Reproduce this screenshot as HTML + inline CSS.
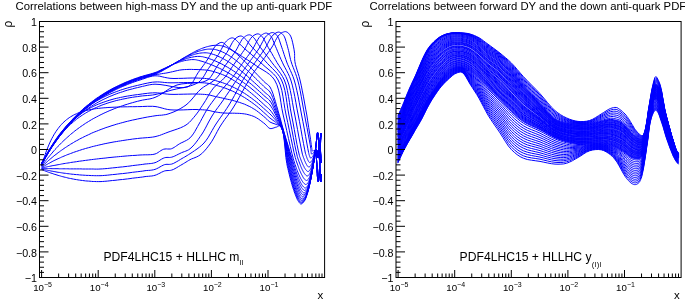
<!DOCTYPE html>
<html><head><meta charset="utf-8"><style>
html,body{margin:0;padding:0;background:#fff;overflow:hidden}
svg{display:block;will-change:transform}
text{font-family:"Liberation Sans",sans-serif;fill:#000}
.ti{font-size:11.32px}
.yl{font-size:10.7px;text-anchor:end}
.xl{font-size:9.7px}
.ex{font-size:7.0px}
.lg{font-size:12.15px}
.sb{font-size:7.6px;letter-spacing:0.35px}
.rho{font-size:12px}
.xt{font-size:11.5px}
.c{fill:none;stroke:#0000ff;stroke-width:1;stroke-linejoin:round}
</style></head><body>
<svg width="685" height="303" viewBox="0 0 685 303">
<rect width="685" height="303" fill="#fff"/>
<defs><clipPath id="clipL"><rect x="40" y="22" width="284.6" height="255"/></clipPath><clipPath id="clipR"><rect x="396.5" y="22" width="284.6" height="255"/></clipPath></defs>
<g clip-path="url(#clipL)"><path class="c" d="M41.6 163.0 L42.3 161.7 L43.1 160.4 L43.8 159.1 L44.5 157.8 L45.2 156.6 L46.0 155.3 L46.8 153.9 L47.6 152.6 L48.4 151.2 L49.3 149.9 L50.1 148.5 L51.0 147.2 L51.9 145.7 L52.9 144.2 L53.9 142.7 L54.9 141.3 L56.0 139.8 L57.0 138.3 L58.1 136.8 L59.2 135.2 L60.4 133.7 L61.6 132.2 L62.8 130.6 L64.0 129.1 L65.3 127.5 L66.6 126.0 L67.9 124.4 L69.2 122.9 L70.6 121.4 L72.0 119.9 L73.4 118.3 L74.9 116.8 L76.4 115.3 L77.9 113.8 L79.5 112.3 L81.0 110.9 L82.5 109.5 L83.9 108.2 L85.4 107.0 L86.9 105.7 L88.5 104.5 L90.0 103.2 L91.6 102.0 L93.2 100.8 L94.9 99.5 L96.5 98.3 L98.3 97.2 L100.0 96.0 L101.9 94.8 L103.9 93.5 L105.9 92.3 L107.9 91.1 L109.9 90.0 L112.0 88.8 L114.1 87.7 L116.2 86.7 L118.4 85.6 L120.5 84.6 L122.8 83.6 L125.0 82.6 L127.4 81.6 L129.9 80.6 L132.4 79.6 L134.9 78.7 L137.5 77.8 L140.0 76.9 L142.6 76.2 L145.2 75.4 L147.9 74.7 L150.4 74.0 L152.8 73.3 L155.0 72.6 L156.3 72.1 L157.5 71.6 L158.7 71.0 L159.8 70.5 L160.9 70.0 L162.0 69.5 L163.2 68.9 L164.3 68.4 L165.5 67.9 L166.7 67.3 L167.8 66.8 L169.0 66.3 L170.2 65.7 L171.3 65.2 L172.5 64.7 L173.7 64.2 L174.8 63.7 L176.0 63.3 L177.1 62.9 L178.3 62.4 L179.4 62.0 L180.6 61.7 L181.7 61.3 L183.0 61.0 L184.6 60.6 L186.3 60.3 L188.0 60.0 L189.7 59.8 L191.4 59.6 L193.0 59.6 L194.2 59.6 L195.4 59.7 L196.5 59.9 L197.6 60.2 L198.7 60.4 L200.0 60.8 L202.0 61.3 L204.1 62.0 L206.3 62.8 L208.5 63.6 L210.8 64.5 L213.0 65.4 L215.2 66.4 L217.4 67.3 L219.5 68.3 L221.7 69.4 L223.9 70.5 L226.0 71.6 L228.2 72.8 L230.4 74.1 L232.5 75.4 L234.7 76.7 L236.9 78.1 L239.0 79.5 L241.2 81.0 L243.4 82.5 L245.6 84.1 L247.7 85.7 L249.9 87.4 L252.0 89.1 L254.3 91.0 L256.6 93.0 L258.9 95.0 L261.1 97.0 L263.2 98.9 L265.0 100.5 L266.0 101.3 L266.9 102.0 L267.7 102.7 L268.4 103.3 L269.2 104.1 L270.0 105.0 L271.2 106.7 L272.4 108.6 L273.6 110.7 L274.7 113.0 L275.8 115.2 L276.9 117.4 L277.9 119.3 L278.9 121.2 L279.9 123.1 L280.8 125.1 L281.7 127.3 L282.6 129.8 L283.9 134.4 L285.3 139.8 L286.5 145.8 L287.7 151.7 L288.8 157.1 L289.8 161.8 L290.4 164.1 L290.9 166.1 L291.3 168.1 L291.8 169.9 L292.2 171.7 L292.7 173.5 L293.2 175.1 L293.6 176.8 L294.1 178.4 L294.5 179.9 L295.0 181.4 L295.5 182.9 L295.9 184.2 L296.3 185.4 L296.7 186.6 L297.2 187.8 L297.6 188.9 L298.1 189.9 L298.5 190.8 L298.8 191.7 L299.2 192.5 L299.6 193.3 L300.0 194.0 L300.5 194.7 L300.8 195.2 L301.2 195.7 L301.6 196.2 L302.0 196.6 L302.5 196.9 L302.9 197.0 L303.4 196.9 L303.8 196.6 L304.3 196.2 L304.8 195.7 L305.3 195.2 L305.7 194.6 L306.2 193.8 L306.7 192.9 L307.1 191.9 L307.5 190.8 L307.9 189.6 L308.2 188.5 L308.7 187.0 L309.1 185.5 L309.5 184.0 L309.9 182.3 L310.3 180.7 L310.7 179.0 L311.1 177.2 L311.4 175.3 L311.8 173.4 L312.2 171.5 L312.5 169.6 L312.8 167.7 L313.1 165.8 L313.4 163.9 L313.7 162.1 L314.0 160.2 L314.3 158.5 L314.5 156.8 L314.7 155.4 L314.8 153.9 L314.9 152.5 L315.0 151.2 L315.2 150.2 L315.5 149.7 L315.7 149.6 L315.9 149.6 L316.1 149.6 L316.3 149.7 L316.5 149.8 L316.7 150.0 L317.0 150.9 L317.3 152.5 L317.4 154.4 L317.5 156.1 L317.6 157.5 L317.7 158.0 L317.9 157.6 L318.0 156.6 L318.2 155.1 L318.3 153.3 L318.5 151.6 L318.6 150.0 L318.8 148.2 L318.9 146.0 L319.1 143.8 L319.3 141.9 L319.4 140.5 L319.6 140.0 L319.8 140.6 L319.9 142.0 L320.1 144.1 L320.2 146.5 L320.4 148.9 L320.5 151.0 L320.6 153.2 L320.8 155.8 L320.9 158.5 L321.0 160.8 L321.1 162.4 L321.2 163.0 L321.3 162.8 L321.3 162.4 L321.4 161.9 L321.4 161.2 L321.5 160.6 L321.5 160.0"/>
<path class="c" d="M41.6 163.2 L42.3 161.9 L43.1 160.6 L43.8 159.4 L44.5 158.1 L45.2 156.8 L46.0 155.5 L46.8 154.2 L47.6 152.8 L48.4 151.5 L49.3 150.1 L50.1 148.8 L51.0 147.4 L51.9 146.0 L52.9 144.5 L53.9 143.0 L54.9 141.6 L56.0 140.1 L57.0 138.6 L58.1 137.1 L59.2 135.5 L60.4 134.0 L61.6 132.5 L62.8 130.9 L64.0 129.4 L65.3 127.9 L66.6 126.3 L67.9 124.8 L69.2 123.2 L70.6 121.7 L72.0 120.2 L73.4 118.7 L74.9 117.2 L76.4 115.6 L77.9 114.2 L79.5 112.7 L81.0 111.3 L82.5 109.9 L83.9 108.6 L85.4 107.3 L86.9 106.1 L88.5 104.8 L90.0 103.6 L91.6 102.4 L93.2 101.1 L94.9 99.9 L96.5 98.7 L98.3 97.6 L100.0 96.4 L101.9 95.2 L103.9 93.9 L105.9 92.7 L107.9 91.5 L109.9 90.4 L112.0 89.2 L114.1 88.1 L116.2 87.1 L118.4 86.0 L120.5 85.0 L122.8 84.0 L125.0 83.0 L127.4 82.0 L129.9 81.0 L132.4 80.0 L134.9 79.1 L137.5 78.2 L140.0 77.4 L142.6 76.6 L145.2 75.8 L147.9 75.1 L150.4 74.4 L152.8 73.7 L155.0 73.0 L156.3 72.5 L157.6 72.0 L158.7 71.4 L159.8 70.9 L160.9 70.3 L162.0 69.8 L163.2 69.2 L164.3 68.6 L165.5 68.1 L166.7 67.5 L167.8 66.9 L169.0 66.3 L170.2 65.7 L171.3 65.1 L172.5 64.5 L173.7 64.0 L174.8 63.4 L176.0 62.9 L177.2 62.3 L178.3 61.8 L179.5 61.3 L180.7 60.8 L181.8 60.3 L183.0 59.8 L184.1 59.4 L185.3 59.0 L186.4 58.6 L187.6 58.2 L188.8 57.9 L190.0 57.6 L191.4 57.3 L192.9 57.0 L194.5 56.7 L196.0 56.5 L197.6 56.4 L199.0 56.4 L200.2 56.4 L201.3 56.6 L202.5 56.7 L203.6 57.0 L204.8 57.3 L206.0 57.6 L207.8 58.1 L209.7 58.8 L211.7 59.5 L213.8 60.4 L215.8 61.2 L217.8 62.1 L219.8 63.1 L221.8 64.0 L223.7 65.1 L225.7 66.2 L227.7 67.3 L229.6 68.5 L231.6 69.7 L233.6 71.0 L235.5 72.3 L237.5 73.6 L239.5 75.0 L241.4 76.4 L243.4 77.9 L245.4 79.4 L247.3 81.0 L249.3 82.6 L251.3 84.2 L253.2 85.8 L255.2 87.6 L257.3 89.5 L259.4 91.4 L261.4 93.2 L263.3 95.0 L265.0 96.5 L266.0 97.3 L266.8 98.0 L267.7 98.6 L268.4 99.3 L269.2 100.0 L270.0 101.0 L271.3 102.9 L272.5 105.2 L273.7 107.8 L274.9 110.5 L276.0 113.2 L277.1 115.8 L278.2 118.1 L279.2 120.4 L280.2 122.7 L281.1 125.1 L282.1 127.7 L283.0 130.5 L284.3 135.1 L285.7 140.5 L287.0 146.1 L288.2 151.7 L289.4 156.9 L290.4 161.2 L291.0 163.5 L291.5 165.5 L291.9 167.3 L292.4 169.1 L292.8 170.8 L293.3 172.5 L293.8 174.1 L294.2 175.6 L294.7 177.2 L295.1 178.6 L295.6 180.1 L296.1 181.5 L296.5 182.7 L296.9 183.9 L297.3 185.0 L297.7 186.2 L298.2 187.2 L298.6 188.2 L299.0 189.1 L299.4 189.9 L299.7 190.7 L300.1 191.4 L300.5 192.1 L301.0 192.8 L301.4 193.2 L301.7 193.8 L302.1 194.2 L302.6 194.6 L303.0 194.9 L303.4 195.0 L303.8 194.9 L304.3 194.7 L304.8 194.3 L305.3 193.8 L305.7 193.3 L306.1 192.7 L306.6 192.0 L307.0 191.1 L307.4 190.1 L307.8 189.0 L308.2 187.9 L308.5 186.8 L309.0 185.5 L309.4 184.0 L309.8 182.5 L310.1 181.0 L310.5 179.4 L310.9 177.8 L311.2 176.0 L311.6 174.2 L311.9 172.4 L312.3 170.6 L312.6 168.7 L312.9 166.9 L313.2 165.1 L313.5 163.3 L313.8 161.6 L314.1 159.8 L314.3 158.1 L314.6 156.5 L314.7 155.3 L314.9 154.2 L315.0 153.1 L315.2 152.0 L315.3 150.9 L315.5 149.7 L315.7 148.0 L315.9 146.2 L316.1 144.3 L316.3 142.4 L316.5 140.6 L316.7 139.0 L316.8 137.7 L317.0 136.4 L317.1 135.0 L317.3 133.9 L317.4 133.1 L317.6 132.8 L317.7 132.9 L317.9 133.3 L318.0 133.8 L318.1 134.5 L318.3 135.2 L318.4 136.0 L318.7 138.5 L318.8 141.9 L319.0 145.8 L319.1 150.0 L319.2 154.2 L319.4 158.0 L319.6 161.6 L319.7 165.3 L319.9 169.1 L320.0 172.6 L320.2 175.6 L320.4 178.0 L320.5 178.8 L320.6 179.6 L320.7 180.4 L320.7 181.0 L320.8 181.4 L320.9 181.5 L321.0 181.1 L321.1 180.1 L321.2 178.7 L321.2 177.1 L321.3 175.4 L321.4 174.0"/>
<path class="c" d="M41.6 163.4 L42.3 162.1 L43.1 160.8 L43.8 159.6 L44.5 158.3 L45.2 157.0 L46.0 155.7 L46.8 154.4 L47.6 153.1 L48.4 151.7 L49.3 150.4 L50.1 149.0 L51.0 147.7 L51.9 146.2 L52.9 144.8 L53.9 143.3 L54.9 141.8 L56.0 140.4 L57.0 138.9 L58.1 137.4 L59.2 135.8 L60.4 134.3 L61.6 132.8 L62.8 131.3 L64.0 129.8 L65.3 128.2 L66.6 126.7 L67.9 125.1 L69.2 123.6 L70.6 122.1 L72.0 120.6 L73.4 119.0 L74.9 117.5 L76.4 116.0 L77.9 114.5 L79.5 113.1 L81.0 111.6 L82.5 110.3 L83.9 109.0 L85.4 107.7 L86.9 106.5 L88.5 105.2 L90.0 104.0 L91.6 102.8 L93.2 101.5 L94.9 100.3 L96.5 99.1 L98.3 98.0 L100.0 96.8 L101.9 95.6 L103.9 94.3 L105.9 93.1 L107.9 91.9 L109.9 90.8 L112.0 89.7 L114.1 88.5 L116.2 87.5 L118.4 86.4 L120.5 85.4 L122.8 84.4 L125.0 83.4 L127.4 82.4 L129.9 81.4 L132.4 80.5 L134.9 79.5 L137.5 78.6 L140.0 77.8 L142.6 77.0 L145.2 76.2 L147.9 75.5 L150.4 74.8 L152.8 74.1 L155.0 73.4 L156.3 72.9 L157.6 72.3 L158.7 71.8 L159.8 71.3 L160.9 70.7 L162.0 70.1 L163.2 69.5 L164.3 68.9 L165.5 68.3 L166.7 67.7 L167.8 67.0 L169.0 66.4 L170.2 65.8 L171.3 65.1 L172.5 64.5 L173.7 63.8 L174.8 63.2 L176.0 62.6 L177.2 61.9 L178.3 61.3 L179.5 60.7 L180.7 60.1 L181.8 59.5 L183.0 59.0 L184.2 58.4 L185.3 57.9 L186.5 57.3 L187.7 56.8 L188.8 56.3 L190.0 55.9 L191.2 55.5 L192.3 55.1 L193.5 54.7 L194.6 54.3 L195.8 54.0 L197.0 53.7 L198.3 53.5 L199.6 53.2 L201.0 53.0 L202.3 52.9 L203.7 52.8 L205.0 52.8 L206.2 52.8 L207.3 52.9 L208.5 53.1 L209.6 53.3 L210.8 53.6 L212.0 54.0 L213.7 54.5 L215.4 55.1 L217.2 55.9 L219.0 56.7 L220.8 57.5 L222.6 58.4 L224.4 59.4 L226.2 60.4 L228.0 61.5 L229.7 62.6 L231.5 63.8 L233.2 65.0 L235.0 66.3 L236.8 67.6 L238.5 69.0 L240.3 70.3 L242.1 71.8 L243.8 73.2 L245.6 74.7 L247.4 76.2 L249.1 77.8 L250.9 79.4 L252.6 81.0 L254.4 82.6 L256.2 84.2 L258.1 86.0 L260.0 87.7 L261.8 89.5 L263.5 91.1 L265.0 92.5 L265.9 93.3 L266.8 94.0 L267.6 94.6 L268.4 95.2 L269.2 96.0 L270.0 97.0 L271.3 99.2 L272.6 101.8 L273.8 104.8 L275.1 108.0 L276.2 111.1 L277.4 114.1 L278.4 116.9 L279.5 119.6 L280.5 122.4 L281.4 125.2 L282.4 128.1 L283.4 131.2 L284.7 135.9 L286.1 141.0 L287.5 146.4 L288.8 151.7 L290.0 156.6 L291.1 160.8 L291.6 162.9 L292.1 164.8 L292.6 166.5 L293.0 168.2 L293.5 169.8 L293.9 171.5 L294.4 173.0 L294.8 174.5 L295.3 175.9 L295.7 177.4 L296.2 178.8 L296.7 180.1 L297.1 181.3 L297.5 182.4 L297.9 183.5 L298.4 184.5 L298.8 185.6 L299.2 186.6 L299.6 187.3 L300.0 188.1 L300.4 188.9 L300.7 189.6 L301.2 190.3 L301.6 190.8 L302.0 191.3 L302.4 191.8 L302.8 192.3 L303.2 192.6 L303.6 192.9 L304.0 193.0 L304.4 192.9 L304.9 192.7 L305.3 192.3 L305.8 191.8 L306.2 191.3 L306.6 190.8 L307.0 190.1 L307.5 189.2 L307.8 188.3 L308.2 187.3 L308.5 186.3 L308.9 185.2 L309.3 183.9 L309.7 182.5 L310.0 181.1 L310.4 179.6 L310.8 178.1 L311.1 176.5 L311.4 174.9 L311.8 173.1 L312.1 171.4 L312.4 169.6 L312.8 167.9 L313.1 166.2 L313.3 164.5 L313.6 162.7 L313.9 161.0 L314.1 159.4 L314.4 157.7 L314.6 156.2 L314.8 154.9 L314.9 153.4 L315.1 152.0 L315.2 150.8 L315.4 150.0 L315.5 149.7 L315.7 150.3 L315.9 151.9 L316.1 154.2 L316.3 156.9 L316.5 159.6 L316.7 162.0 L316.9 164.7 L317.0 167.6 L317.1 170.6 L317.3 173.4 L317.4 176.0 L317.6 178.0 L317.7 178.9 L317.8 179.7 L317.9 180.5 L318.1 181.2 L318.2 181.6 L318.3 181.8 L318.5 181.4 L318.7 180.2 L318.8 178.4 L319.0 176.3 L319.1 174.1 L319.3 172.0 L319.5 168.3 L319.7 163.9 L319.9 159.2 L320.1 154.5 L320.2 150.0 L320.4 146.0 L320.5 143.3 L320.6 140.4 L320.8 137.6 L320.9 135.2 L321.0 133.6 L321.1 133.0 L321.2 133.2 L321.2 133.7 L321.3 134.5 L321.4 135.4 L321.4 136.2 L321.5 137.0"/>
<path class="c" d="M41.6 163.6 L42.3 162.3 L43.1 161.1 L43.8 159.8 L44.5 158.5 L45.2 157.2 L46.0 156.0 L46.8 154.6 L47.6 153.3 L48.4 152.0 L49.3 150.6 L50.1 149.3 L51.0 147.9 L52.0 146.5 L52.9 145.0 L53.9 143.6 L54.9 142.1 L56.0 140.7 L57.0 139.2 L58.1 137.7 L59.2 136.2 L60.4 134.6 L61.6 133.1 L62.8 131.6 L64.0 130.1 L65.3 128.5 L66.6 127.0 L67.9 125.5 L69.2 123.9 L70.6 122.4 L72.0 120.9 L73.4 119.4 L74.9 117.9 L76.4 116.4 L77.9 114.9 L79.5 113.4 L81.0 112.0 L82.5 110.7 L83.9 109.4 L85.4 108.1 L86.9 106.9 L88.5 105.6 L90.0 104.4 L91.6 103.2 L93.2 101.9 L94.9 100.7 L96.5 99.5 L98.3 98.4 L100.0 97.2 L101.9 96.0 L103.9 94.7 L105.9 93.5 L107.9 92.3 L109.9 91.2 L112.0 90.1 L114.1 89.0 L116.2 87.9 L118.4 86.8 L120.5 85.8 L122.8 84.8 L125.0 83.8 L127.4 82.8 L129.9 81.8 L132.4 80.9 L134.9 79.9 L137.5 79.0 L140.0 78.2 L142.6 77.4 L145.2 76.6 L147.9 75.9 L150.4 75.2 L152.8 74.5 L155.0 73.8 L156.3 73.3 L157.6 72.7 L158.7 72.2 L159.8 71.6 L160.9 71.1 L162.0 70.5 L163.2 69.9 L164.3 69.2 L165.5 68.6 L166.7 67.9 L167.8 67.3 L169.0 66.6 L170.2 66.0 L171.3 65.3 L172.5 64.6 L173.7 63.9 L174.8 63.2 L176.0 62.5 L177.2 61.9 L178.3 61.2 L179.5 60.5 L180.7 59.8 L181.8 59.1 L183.0 58.5 L184.2 57.9 L185.3 57.2 L186.5 56.6 L187.7 56.0 L188.8 55.4 L190.0 54.8 L191.2 54.3 L192.3 53.8 L193.5 53.2 L194.7 52.7 L195.8 52.3 L197.0 51.8 L198.2 51.4 L199.3 51.0 L200.5 50.7 L201.7 50.4 L202.8 50.1 L204.0 49.8 L205.2 49.6 L206.3 49.4 L207.5 49.2 L208.7 49.1 L209.8 49.1 L211.0 49.1 L212.2 49.1 L213.3 49.3 L214.5 49.4 L215.6 49.6 L216.8 49.9 L218.0 50.3 L219.5 50.8 L221.1 51.4 L222.7 52.1 L224.3 52.8 L225.8 53.7 L227.4 54.5 L229.0 55.5 L230.6 56.5 L232.2 57.6 L233.7 58.7 L235.3 59.9 L236.8 61.1 L238.4 62.4 L240.0 63.7 L241.5 65.1 L243.1 66.5 L244.6 67.9 L246.2 69.3 L247.8 70.8 L249.4 72.3 L250.9 73.8 L252.5 75.3 L254.0 76.8 L255.6 78.4 L257.2 79.9 L258.8 81.5 L260.5 83.1 L262.1 84.7 L263.6 86.2 L265.0 87.5 L265.9 88.3 L266.8 88.9 L267.6 89.6 L268.4 90.2 L269.2 91.0 L270.0 92.0 L271.4 94.4 L272.7 97.5 L274.0 101.0 L275.2 104.7 L276.4 108.5 L277.6 112.0 L278.7 115.3 L279.7 118.5 L280.7 121.8 L281.7 125.1 L282.8 128.5 L283.8 132.0 L285.1 136.6 L286.5 141.5 L288.0 146.6 L289.3 151.6 L290.6 156.2 L291.7 160.1 L292.3 162.1 L292.8 163.9 L293.2 165.6 L293.7 167.2 L294.1 168.7 L294.6 170.2 L295.0 171.7 L295.5 173.1 L295.9 174.4 L296.4 175.8 L296.8 177.1 L297.3 178.3 L297.7 179.4 L298.1 180.5 L298.5 181.5 L299.0 182.5 L299.4 183.5 L299.8 184.4 L300.2 185.2 L300.6 185.9 L301.0 186.6 L301.4 187.3 L301.8 187.9 L302.2 188.5 L302.6 188.9 L303.0 189.4 L303.4 189.8 L303.8 190.2 L304.2 190.4 L304.6 190.5 L305.0 190.4 L305.4 190.2 L305.9 189.8 L306.3 189.4 L306.7 188.9 L307.0 188.5 L307.5 187.8 L307.9 187.0 L308.2 186.1 L308.6 185.1 L308.9 184.1 L309.2 183.2 L309.6 181.9 L310.0 180.6 L310.3 179.2 L310.7 177.8 L311.0 176.4 L311.3 175.0 L311.7 173.4 L312.0 171.8 L312.3 170.1 L312.6 168.5 L312.9 166.8 L313.2 165.2 L313.5 163.6 L313.7 162.0 L314.0 160.4 L314.2 158.8 L314.4 157.3 L314.6 155.8 L314.8 154.6 L314.9 153.3 L314.9 152.1 L315.0 151.0 L315.2 150.2 L315.5 149.7 L315.7 149.6 L315.9 149.6 L316.1 149.6 L316.3 149.7 L316.5 149.8 L316.7 150.0 L317.0 150.9 L317.3 152.5 L317.4 154.4 L317.5 156.1 L317.6 157.5 L317.7 158.0 L317.9 157.6 L318.0 156.6 L318.2 155.1 L318.3 153.3 L318.5 151.6 L318.6 150.0 L318.8 148.2 L318.9 146.0 L319.1 143.8 L319.3 141.9 L319.4 140.5 L319.6 140.0 L319.8 140.6 L319.9 142.0 L320.1 144.1 L320.2 146.5 L320.4 148.9 L320.5 151.0 L320.6 153.2 L320.8 155.8 L320.9 158.5 L321.0 160.8 L321.1 162.4 L321.2 163.0 L321.3 162.8 L321.3 162.4 L321.4 161.9 L321.4 161.2 L321.5 160.6 L321.5 160.0"/>
<path class="c" d="M41.6 163.8 L42.3 162.5 L43.1 161.3 L43.8 160.0 L44.5 158.7 L45.2 157.5 L46.0 156.2 L46.8 154.9 L47.6 153.5 L48.4 152.2 L49.3 150.9 L50.1 149.5 L51.0 148.2 L52.0 146.7 L52.9 145.3 L53.9 143.8 L54.9 142.4 L56.0 140.9 L57.0 139.5 L58.1 137.9 L59.2 136.4 L60.4 134.9 L61.6 133.4 L62.8 131.9 L64.0 130.4 L65.3 128.8 L66.6 127.3 L67.9 125.8 L69.2 124.2 L70.6 122.7 L72.0 121.2 L73.4 119.7 L74.9 118.2 L76.4 116.7 L77.9 115.2 L79.5 113.8 L81.0 112.4 L82.5 111.0 L83.9 109.7 L85.4 108.5 L86.9 107.2 L88.5 106.0 L90.0 104.8 L91.6 103.5 L93.2 102.3 L94.9 101.1 L96.5 99.9 L98.3 98.8 L100.0 97.6 L101.9 96.4 L103.9 95.2 L105.9 93.9 L107.9 92.8 L109.9 91.6 L112.0 90.5 L114.1 89.4 L116.2 88.3 L118.4 87.3 L120.5 86.2 L122.8 85.3 L125.0 84.3 L127.4 83.3 L129.9 82.3 L132.4 81.3 L134.9 80.4 L137.5 79.5 L140.0 78.6 L142.6 77.9 L145.2 77.1 L147.9 76.4 L150.4 75.7 L152.8 75.0 L155.0 74.3 L156.3 73.8 L157.6 73.2 L158.7 72.7 L159.8 72.1 L160.9 71.6 L162.0 71.0 L163.2 70.3 L164.3 69.7 L165.5 69.0 L166.7 68.4 L167.8 67.7 L169.0 67.0 L170.2 66.3 L171.3 65.6 L172.5 64.9 L173.7 64.2 L174.8 63.4 L176.0 62.7 L177.2 62.0 L178.3 61.2 L179.5 60.5 L180.7 59.8 L181.8 59.1 L183.0 58.3 L184.2 57.6 L185.3 56.9 L186.5 56.2 L187.7 55.5 L188.8 54.9 L190.0 54.2 L191.2 53.6 L192.3 52.9 L193.5 52.3 L194.7 51.7 L195.8 51.1 L197.0 50.5 L198.2 50.0 L199.3 49.5 L200.5 49.0 L201.6 48.5 L202.8 48.1 L204.0 47.7 L205.2 47.3 L206.3 46.9 L207.5 46.6 L208.7 46.3 L209.9 46.0 L211.0 45.8 L212.0 45.6 L213.0 45.5 L214.0 45.4 L215.0 45.3 L216.0 45.2 L217.0 45.3 L218.1 45.3 L219.3 45.4 L220.5 45.6 L221.6 45.8 L222.8 46.1 L224.0 46.5 L225.4 47.0 L226.7 47.5 L228.1 48.2 L229.5 48.9 L230.9 49.7 L232.2 50.5 L233.6 51.5 L235.0 52.5 L236.4 53.6 L237.7 54.8 L239.1 56.0 L240.4 57.2 L241.8 58.5 L243.2 59.8 L244.5 61.2 L245.9 62.6 L247.2 64.0 L248.6 65.4 L250.0 66.8 L251.3 68.3 L252.7 69.8 L254.1 71.2 L255.4 72.7 L256.8 74.2 L258.2 75.6 L259.6 77.1 L261.0 78.5 L262.4 79.9 L263.7 81.3 L265.0 82.5 L265.9 83.3 L266.8 83.9 L267.6 84.5 L268.4 85.2 L269.2 86.0 L270.0 87.0 L271.4 89.7 L272.8 93.2 L274.1 97.3 L275.4 101.5 L276.6 105.8 L277.8 109.9 L278.9 113.7 L280.0 117.4 L281.0 121.2 L282.0 125.0 L283.1 128.8 L284.2 132.8 L285.5 137.2 L287.0 142.0 L288.5 146.8 L289.9 151.5 L291.2 155.8 L292.4 159.5 L292.9 161.4 L293.4 163.1 L293.9 164.6 L294.3 166.1 L294.7 167.5 L295.2 169.0 L295.7 170.3 L296.1 171.6 L296.5 172.9 L297.0 174.2 L297.5 175.4 L297.9 176.6 L298.3 177.6 L298.8 178.6 L299.2 179.6 L299.6 180.5 L300.0 181.4 L300.5 182.3 L300.8 183.0 L301.2 183.7 L301.6 184.4 L302.0 185.0 L302.4 185.6 L302.8 186.1 L303.2 186.5 L303.6 187.0 L304.0 187.4 L304.4 187.7 L304.8 187.9 L305.2 188.0 L305.6 187.9 L306.0 187.7 L306.4 187.4 L306.8 187.0 L307.2 186.5 L307.5 186.1 L307.9 185.4 L308.3 184.7 L308.6 183.8 L309.0 183.0 L309.3 182.0 L309.6 181.1 L309.9 179.9 L310.3 178.7 L310.6 177.4 L310.9 176.1 L311.2 174.8 L311.5 173.4 L311.9 172.0 L312.2 170.4 L312.5 168.9 L312.8 167.3 L313.0 165.8 L313.3 164.3 L313.6 162.8 L313.8 161.2 L314.1 159.7 L314.3 158.2 L314.5 156.8 L314.7 155.4 L314.8 154.4 L315.0 153.5 L315.1 152.6 L315.2 151.7 L315.4 150.7 L315.5 149.7 L315.7 148.1 L315.9 146.3 L316.1 144.4 L316.3 142.5 L316.5 140.7 L316.7 139.0 L316.8 137.7 L317.0 136.4 L317.1 135.0 L317.3 133.9 L317.4 133.1 L317.6 132.8 L317.7 132.9 L317.9 133.3 L318.0 133.8 L318.1 134.5 L318.3 135.2 L318.4 136.0 L318.7 138.5 L318.8 141.9 L319.0 145.8 L319.1 150.0 L319.2 154.2 L319.4 158.0 L319.6 161.6 L319.7 165.3 L319.9 169.1 L320.0 172.6 L320.2 175.6 L320.4 178.0 L320.5 178.8 L320.6 179.6 L320.7 180.4 L320.7 181.0 L320.8 181.4 L320.9 181.5 L321.0 181.1 L321.1 180.1 L321.2 178.7 L321.2 177.1 L321.3 175.4 L321.4 174.0"/>
<path class="c" d="M41.6 164.0 L42.3 162.7 L43.1 161.5 L43.8 160.2 L44.5 158.9 L45.2 157.7 L46.0 156.4 L46.8 155.1 L47.6 153.7 L48.4 152.4 L49.3 151.1 L50.1 149.7 L51.0 148.4 L51.9 147.0 L52.9 145.5 L53.9 144.1 L54.9 142.6 L56.0 141.1 L57.0 139.7 L58.1 138.2 L59.2 136.7 L60.4 135.1 L61.6 133.6 L62.8 132.1 L64.0 130.6 L65.3 129.1 L66.6 127.6 L67.9 126.0 L69.2 124.5 L70.6 123.0 L72.0 121.5 L73.4 120.0 L74.9 118.5 L76.4 117.0 L77.9 115.5 L79.5 114.1 L81.0 112.7 L82.5 111.4 L83.9 110.1 L85.4 108.8 L86.9 107.6 L88.5 106.3 L90.0 105.1 L91.6 103.9 L93.2 102.7 L94.9 101.5 L96.5 100.3 L98.3 99.2 L100.0 98.0 L101.9 96.8 L103.9 95.6 L105.9 94.4 L107.9 93.2 L109.9 92.0 L112.0 90.9 L114.1 89.8 L116.2 88.8 L118.4 87.7 L120.5 86.7 L122.8 85.7 L125.0 84.8 L127.4 83.8 L129.9 82.8 L132.4 81.9 L134.9 80.9 L137.5 80.0 L140.0 79.2 L142.5 78.4 L145.0 77.6 L147.5 76.8 L150.1 76.1 L152.5 75.5 L155.0 74.9 L157.2 74.4 L159.4 74.1 L161.5 73.7 L163.7 73.4 L165.8 73.1 L168.0 72.7 L170.3 72.2 L172.6 71.7 L175.0 71.1 L177.3 70.6 L179.7 70.1 L182.0 69.8 L184.3 69.6 L186.7 69.5 L189.1 69.4 L191.4 69.4 L193.7 69.5 L196.0 69.5 L198.1 69.6 L200.2 69.6 L202.3 69.8 L204.3 69.9 L206.3 70.1 L208.0 70.3 L209.1 70.5 L210.1 70.7 L211.0 70.9 L212.0 71.1 L212.9 71.4 L214.0 71.7 L215.6 72.2 L217.2 72.7 L219.0 73.3 L220.7 73.9 L222.5 74.6 L224.2 75.3 L225.9 76.1 L227.6 76.9 L229.3 77.8 L231.0 78.8 L232.7 79.8 L234.4 80.8 L236.1 81.9 L237.8 83.0 L239.5 84.2 L241.2 85.4 L242.9 86.6 L244.6 87.8 L246.3 89.2 L248.0 90.5 L249.7 91.9 L251.4 93.3 L253.1 94.7 L254.8 96.2 L256.6 97.7 L258.4 99.4 L260.1 101.0 L261.9 102.6 L263.5 104.1 L265.0 105.5 L265.9 106.3 L266.8 107.0 L267.6 107.7 L268.4 108.4 L269.2 109.1 L270.0 110.0 L271.1 111.3 L272.3 112.9 L273.4 114.5 L274.5 116.2 L275.7 117.9 L276.7 119.5 L277.7 121.0 L278.7 122.4 L279.6 123.8 L280.5 125.3 L281.4 127.0 L282.2 129.0 L283.6 133.5 L284.9 139.1 L286.1 145.3 L287.2 151.6 L288.2 157.4 L289.2 162.2 L289.7 164.7 L290.2 166.8 L290.7 168.8 L291.2 170.7 L291.6 172.6 L292.1 174.5 L292.6 176.2 L293.0 177.9 L293.5 179.6 L294.0 181.2 L294.4 182.8 L294.9 184.3 L295.3 185.6 L295.8 186.9 L296.2 188.1 L296.6 189.4 L297.1 190.5 L297.5 191.7 L297.9 192.6 L298.3 193.4 L298.7 194.3 L299.1 195.1 L299.5 195.9 L299.9 196.6 L300.3 197.1 L300.7 197.6 L301.1 198.1 L301.5 198.6 L302.0 198.9 L302.4 199.0 L302.9 198.9 L303.4 198.6 L303.9 198.2 L304.4 197.7 L304.9 197.1 L305.3 196.5 L305.9 195.7 L306.3 194.7 L306.8 193.6 L307.2 192.5 L307.6 191.3 L308.0 190.1 L308.4 188.6 L308.9 187.0 L309.3 185.4 L309.7 183.7 L310.1 182.0 L310.5 180.3 L310.9 178.4 L311.3 176.4 L311.7 174.4 L312.0 172.4 L312.4 170.4 L312.7 168.4 L313.0 166.5 L313.4 164.5 L313.7 162.6 L313.9 160.7 L314.2 158.8 L314.5 157.1 L314.7 155.6 L314.8 154.0 L315.0 152.4 L315.2 151.0 L315.3 150.1 L315.5 149.7 L315.7 150.3 L315.9 151.9 L316.1 154.2 L316.3 156.9 L316.5 159.6 L316.7 162.0 L316.9 164.7 L317.0 167.6 L317.1 170.6 L317.3 173.4 L317.4 176.0 L317.6 178.0 L317.7 178.9 L317.8 179.7 L317.9 180.5 L318.1 181.2 L318.2 181.6 L318.3 181.8 L318.5 181.4 L318.7 180.2 L318.8 178.4 L319.0 176.3 L319.1 174.1 L319.3 172.0 L319.5 168.3 L319.7 163.9 L319.9 159.2 L320.1 154.5 L320.2 150.0 L320.4 146.0 L320.5 143.3 L320.6 140.4 L320.8 137.6 L320.9 135.2 L321.0 133.6 L321.1 133.0 L321.2 133.2 L321.2 133.7 L321.3 134.5 L321.4 135.4 L321.4 136.2 L321.5 137.0"/>
<path class="c" d="M41.6 164.2 L42.3 162.9 L43.1 161.7 L43.8 160.4 L44.5 159.1 L45.2 157.9 L46.0 156.6 L46.8 155.3 L47.6 153.9 L48.4 152.6 L49.3 151.3 L50.1 149.9 L51.0 148.6 L51.9 147.2 L52.9 145.7 L53.9 144.3 L54.9 142.8 L56.0 141.4 L57.0 139.9 L58.1 138.4 L59.2 136.9 L60.4 135.4 L61.6 133.9 L62.8 132.4 L64.0 130.9 L65.3 129.3 L66.6 127.8 L67.9 126.3 L69.2 124.8 L70.6 123.3 L72.0 121.8 L73.4 120.3 L74.9 118.8 L76.4 117.3 L77.9 115.9 L79.5 114.4 L81.0 113.0 L82.5 111.7 L83.9 110.4 L85.4 109.2 L86.9 108.0 L88.5 106.7 L90.0 105.5 L91.6 104.3 L93.2 103.1 L94.9 102.0 L96.5 100.8 L98.3 99.6 L100.0 98.5 L101.9 97.3 L103.9 96.1 L105.9 94.9 L107.9 93.8 L109.9 92.6 L112.0 91.5 L114.1 90.5 L116.2 89.4 L118.4 88.4 L120.5 87.4 L122.8 86.4 L125.0 85.5 L127.4 84.5 L129.9 83.5 L132.4 82.6 L134.9 81.7 L137.5 80.8 L140.0 80.0 L142.5 79.2 L145.0 78.3 L147.5 77.4 L150.0 76.7 L152.5 76.1 L155.0 75.8 L157.4 75.9 L159.8 76.2 L162.2 76.8 L164.7 77.4 L167.3 77.9 L170.0 78.3 L174.0 78.5 L178.5 78.4 L183.2 78.3 L187.8 78.1 L192.2 78.0 L196.0 78.0 L198.3 78.1 L200.5 78.2 L202.6 78.3 L204.5 78.4 L206.3 78.6 L208.0 78.8 L209.1 79.0 L210.1 79.2 L211.0 79.4 L212.0 79.6 L212.9 79.9 L214.0 80.2 L215.6 80.6 L217.2 81.1 L218.9 81.6 L220.7 82.1 L222.5 82.7 L224.2 83.3 L225.9 84.0 L227.6 84.7 L229.3 85.4 L231.0 86.1 L232.7 86.9 L234.4 87.7 L236.1 88.6 L237.8 89.5 L239.5 90.4 L241.2 91.4 L242.9 92.4 L244.6 93.4 L246.3 94.5 L248.0 95.7 L249.7 96.9 L251.4 98.1 L253.1 99.4 L254.8 100.7 L256.6 102.1 L258.4 103.6 L260.2 105.2 L261.9 106.7 L263.5 108.2 L265.0 109.5 L265.9 110.3 L266.8 111.1 L267.6 111.8 L268.4 112.5 L269.2 113.2 L270.0 114.0 L271.1 115.1 L272.2 116.2 L273.3 117.4 L274.4 118.7 L275.5 119.9 L276.5 121.1 L277.4 122.2 L278.4 123.2 L279.3 124.2 L280.2 125.4 L281.0 126.7 L281.8 128.3 L283.2 132.6 L284.5 138.3 L285.6 144.8 L286.7 151.4 L287.6 157.6 L288.6 162.6 L289.1 165.1 L289.6 167.4 L290.1 169.4 L290.6 171.4 L291.1 173.3 L291.6 175.2 L292.0 177.0 L292.5 178.8 L293.0 180.5 L293.4 182.1 L293.9 183.8 L294.4 185.3 L294.8 186.7 L295.3 188.0 L295.7 189.3 L296.1 190.6 L296.6 191.8 L297.0 192.9 L297.4 193.9 L297.8 194.8 L298.2 195.7 L298.6 196.5 L299.0 197.3 L299.5 198.0 L299.9 198.5 L300.3 199.1 L300.7 199.6 L301.1 200.1 L301.6 200.4 L302.0 200.5 L302.5 200.4 L303.0 200.1 L303.5 199.7 L304.1 199.2 L304.6 198.6 L305.0 198.0 L305.6 197.1 L306.1 196.1 L306.5 195.0 L306.9 193.8 L307.3 192.6 L307.7 191.4 L308.2 189.8 L308.7 188.2 L309.1 186.5 L309.5 184.7 L309.9 183.0 L310.3 181.2 L310.7 179.2 L311.1 177.2 L311.5 175.2 L311.9 173.1 L312.3 171.0 L312.6 169.0 L313.0 167.0 L313.3 165.0 L313.6 163.0 L313.9 161.0 L314.2 159.1 L314.4 157.3 L314.6 156.0 L314.8 154.7 L315.0 153.5 L315.2 152.3 L315.3 151.0 L315.5 149.7 L315.7 148.0 L315.9 146.2 L316.1 144.3 L316.3 142.4 L316.5 140.6 L316.7 139.0 L316.8 137.7 L317.0 136.4 L317.1 135.0 L317.3 133.9 L317.4 133.1 L317.6 132.8 L317.7 132.9 L317.9 133.3 L318.0 133.8 L318.1 134.5 L318.3 135.2 L318.4 136.0 L318.7 138.5 L318.8 141.9 L319.0 145.8 L319.1 150.0 L319.2 154.2 L319.4 158.0 L319.6 161.6 L319.7 165.3 L319.9 169.1 L320.0 172.6 L320.2 175.6 L320.4 178.0 L320.5 178.8 L320.6 179.6 L320.7 180.4 L320.7 181.0 L320.8 181.4 L320.9 181.5 L321.0 181.1 L321.1 180.1 L321.2 178.7 L321.2 177.1 L321.3 175.4 L321.4 174.0"/>
<path class="c" d="M41.6 164.4 L42.3 163.0 L43.0 161.6 L43.8 160.2 L44.5 158.8 L45.2 157.4 L46.0 156.0 L46.8 154.5 L47.6 153.1 L48.4 151.7 L49.3 150.2 L50.1 148.8 L51.0 147.3 L51.9 145.8 L52.9 144.3 L53.9 142.8 L54.9 141.2 L55.9 139.7 L57.0 138.2 L58.1 136.6 L59.2 135.1 L60.4 133.5 L61.6 132.0 L62.8 130.5 L64.0 129.0 L65.3 127.4 L66.6 125.9 L67.9 124.4 L69.2 123.0 L70.6 121.5 L72.0 120.1 L73.4 118.6 L74.9 117.2 L76.4 115.8 L77.9 114.4 L79.5 113.1 L81.0 111.8 L82.5 110.6 L83.9 109.4 L85.4 108.3 L86.9 107.2 L88.4 106.1 L90.0 105.1 L91.6 104.0 L93.2 102.9 L94.9 101.9 L96.5 100.9 L98.3 100.0 L100.0 99.0 L101.9 98.0 L103.9 97.0 L105.9 96.0 L107.9 95.1 L109.9 94.2 L112.0 93.3 L114.1 92.5 L116.2 91.7 L118.4 90.9 L120.6 90.1 L122.8 89.4 L125.0 88.7 L127.4 88.0 L129.9 87.3 L132.4 86.6 L134.9 86.0 L137.5 85.4 L140.0 84.8 L142.5 84.2 L145.0 83.6 L147.5 83.1 L150.0 82.6 L152.5 82.2 L155.0 82.0 L157.4 81.9 L159.8 82.0 L162.2 82.2 L164.7 82.5 L167.3 82.7 L170.0 82.8 L174.0 82.8 L178.5 82.7 L183.2 82.6 L187.8 82.5 L192.2 82.5 L196.0 82.5 L198.3 82.6 L200.5 82.7 L202.6 82.8 L204.5 82.9 L206.3 83.1 L208.0 83.3 L209.1 83.5 L210.1 83.7 L211.0 83.9 L212.0 84.1 L212.9 84.4 L214.0 84.7 L215.6 85.1 L217.2 85.6 L218.9 86.1 L220.7 86.6 L222.5 87.2 L224.2 87.8 L225.9 88.4 L227.6 89.1 L229.3 89.8 L231.0 90.5 L232.7 91.2 L234.4 92.0 L236.1 92.9 L237.8 93.7 L239.5 94.7 L241.2 95.6 L242.9 96.6 L244.6 97.6 L246.3 98.7 L248.0 99.8 L249.7 101.0 L251.4 102.2 L253.1 103.4 L254.8 104.7 L256.6 106.1 L258.4 107.6 L260.2 109.2 L261.9 110.7 L263.5 112.2 L265.0 113.5 L265.9 114.3 L266.8 115.1 L267.6 115.8 L268.3 116.6 L269.1 117.3 L270.0 118.0 L271.0 118.8 L272.1 119.6 L273.1 120.4 L274.2 121.1 L275.3 121.9 L276.3 122.8 L277.2 123.4 L278.1 124.1 L279.0 124.7 L279.8 125.4 L280.6 126.3 L281.4 127.5 L282.9 131.6 L284.2 137.4 L285.2 144.2 L286.2 151.2 L287.1 157.7 L288.0 163.0 L288.5 165.6 L289.0 167.9 L289.5 170.0 L290.0 172.0 L290.5 174.0 L291.0 176.0 L291.5 177.8 L291.9 179.6 L292.4 181.4 L292.9 183.1 L293.4 184.8 L293.9 186.4 L294.3 187.8 L294.7 189.2 L295.2 190.5 L295.6 191.8 L296.1 193.0 L296.6 194.2 L297.0 195.2 L297.4 196.1 L297.8 197.0 L298.2 197.9 L298.6 198.7 L299.1 199.4 L299.4 200.0 L299.9 200.5 L300.3 201.1 L300.7 201.5 L301.1 201.9 L301.6 202.0 L302.1 201.9 L302.6 201.6 L303.2 201.2 L303.7 200.6 L304.2 200.0 L304.7 199.4 L305.3 198.5 L305.8 197.5 L306.2 196.3 L306.7 195.1 L307.1 193.9 L307.5 192.6 L308.0 191.0 L308.5 189.3 L308.9 187.6 L309.3 185.8 L309.8 184.0 L310.2 182.1 L310.6 180.1 L311.0 178.0 L311.4 175.9 L311.8 173.8 L312.2 171.7 L312.5 169.6 L312.9 167.5 L313.2 165.5 L313.5 163.4 L313.9 161.4 L314.1 159.4 L314.4 157.5 L314.6 156.0 L314.7 154.4 L314.8 152.7 L314.9 151.3 L315.2 150.3 L315.5 149.7 L315.7 149.6 L315.9 149.6 L316.1 149.6 L316.3 149.7 L316.5 149.8 L316.7 150.0 L317.0 150.9 L317.3 152.5 L317.4 154.4 L317.5 156.1 L317.6 157.5 L317.7 158.0 L317.9 157.6 L318.0 156.6 L318.2 155.1 L318.3 153.3 L318.5 151.6 L318.6 150.0 L318.8 148.2 L318.9 146.0 L319.1 143.8 L319.3 141.9 L319.4 140.5 L319.6 140.0 L319.8 140.6 L319.9 142.0 L320.1 144.1 L320.2 146.5 L320.4 148.9 L320.5 151.0 L320.6 153.2 L320.8 155.8 L320.9 158.5 L321.0 160.8 L321.1 162.4 L321.2 163.0 L321.3 162.8 L321.3 162.4 L321.4 161.9 L321.4 161.2 L321.5 160.6 L321.5 160.0"/>
<path class="c" d="M41.6 165.2 L42.3 163.7 L43.0 162.1 L43.8 160.6 L44.5 159.1 L45.2 157.6 L46.0 156.0 L46.8 154.5 L47.6 153.0 L48.4 151.5 L49.3 150.0 L50.1 148.5 L51.0 147.0 L51.9 145.4 L52.9 143.9 L53.9 142.3 L54.9 140.8 L55.9 139.2 L57.0 137.7 L58.1 136.2 L59.2 134.7 L60.4 133.2 L61.6 131.7 L62.8 130.3 L64.0 128.8 L65.3 127.4 L66.6 126.0 L67.9 124.6 L69.2 123.3 L70.6 122.0 L72.0 120.7 L73.4 119.4 L74.9 118.2 L76.4 117.0 L77.9 115.8 L79.5 114.6 L81.0 113.6 L82.5 112.6 L83.9 111.6 L85.4 110.7 L86.9 109.8 L88.5 108.9 L90.0 108.1 L91.6 107.3 L93.2 106.5 L94.9 105.7 L96.6 104.9 L98.3 104.2 L100.0 103.5 L101.9 102.8 L103.9 102.1 L105.9 101.4 L107.9 100.7 L109.9 100.1 L112.0 99.5 L114.1 98.9 L116.2 98.4 L118.4 97.9 L120.6 97.4 L122.8 97.0 L125.0 96.5 L127.4 96.1 L129.9 95.7 L132.4 95.3 L135.0 94.9 L137.5 94.6 L140.0 94.3 L142.5 93.9 L145.0 93.6 L147.5 93.3 L150.0 93.0 L152.5 92.9 L155.0 92.8 L157.5 92.9 L159.8 93.1 L162.2 93.5 L164.7 93.8 L167.3 94.1 L170.0 94.3 L174.0 94.4 L178.5 94.3 L183.2 94.2 L187.8 94.1 L192.2 94.0 L196.0 94.0 L198.3 94.1 L200.5 94.2 L202.6 94.3 L204.5 94.4 L206.3 94.6 L208.0 94.8 L209.1 95.0 L210.1 95.2 L211.0 95.4 L212.0 95.7 L212.9 95.9 L214.0 96.2 L215.5 96.6 L217.2 96.9 L218.9 97.3 L220.7 97.7 L222.5 98.1 L224.2 98.5 L225.9 98.9 L227.6 99.3 L229.3 99.6 L231.0 100.0 L232.7 100.4 L234.4 100.9 L236.1 101.4 L237.8 101.9 L239.5 102.4 L241.2 103.0 L242.9 103.6 L244.6 104.2 L246.3 105.0 L248.0 105.8 L249.8 106.6 L251.5 107.5 L253.1 108.5 L254.8 109.5 L256.6 110.7 L258.4 112.1 L260.2 113.5 L261.9 114.9 L263.5 116.3 L265.0 117.5 L265.9 118.3 L266.8 119.2 L267.5 119.9 L268.3 120.7 L269.1 121.4 L270.0 122.0 L271.0 122.5 L272.0 122.9 L273.0 123.3 L274.0 123.6 L275.1 124.0 L276.1 124.4 L276.9 124.7 L277.8 124.9 L278.6 125.1 L279.5 125.5 L280.3 126.0 L281.0 126.8 L282.6 130.5 L283.9 136.3 L284.9 143.4 L285.7 150.8 L286.5 157.7 L287.4 163.2 L287.9 165.9 L288.4 168.2 L288.9 170.4 L289.4 172.4 L289.9 174.5 L290.5 176.5 L290.9 178.4 L291.4 180.2 L291.9 182.0 L292.4 183.7 L292.9 185.4 L293.4 187.1 L293.9 188.5 L294.3 189.9 L294.8 191.3 L295.2 192.6 L295.7 193.8 L296.2 195.1 L296.6 196.0 L297.0 197.0 L297.4 197.9 L297.8 198.8 L298.2 199.6 L298.7 200.3 L299.1 200.9 L299.5 201.5 L299.9 202.1 L300.4 202.5 L300.8 202.9 L301.3 203.0 L301.8 202.9 L302.4 202.6 L302.9 202.2 L303.5 201.6 L304.0 201.0 L304.5 200.3 L305.1 199.4 L305.6 198.4 L306.0 197.2 L306.5 196.0 L306.9 194.7 L307.3 193.4 L307.8 191.8 L308.3 190.1 L308.8 188.3 L309.2 186.5 L309.6 184.6 L310.1 182.7 L310.5 180.7 L310.9 178.6 L311.3 176.4 L311.7 174.2 L312.1 172.1 L312.5 170.0 L312.8 167.9 L313.2 165.8 L313.5 163.6 L313.8 161.6 L314.1 159.6 L314.4 157.7 L314.6 156.1 L314.8 154.3 L315.0 152.6 L315.2 151.1 L315.3 150.1 L315.5 149.7 L315.7 150.3 L315.9 151.9 L316.1 154.2 L316.3 156.9 L316.5 159.6 L316.7 162.0 L316.9 164.7 L317.0 167.6 L317.1 170.6 L317.3 173.4 L317.4 176.0 L317.6 178.0 L317.7 178.9 L317.8 179.7 L317.9 180.5 L318.1 181.2 L318.2 181.6 L318.3 181.8 L318.5 181.4 L318.7 180.2 L318.8 178.4 L319.0 176.3 L319.1 174.1 L319.3 172.0 L319.5 168.3 L319.7 163.9 L319.9 159.2 L320.1 154.5 L320.2 150.0 L320.4 146.0 L320.5 143.3 L320.6 140.4 L320.8 137.6 L320.9 135.2 L321.0 133.6 L321.1 133.0 L321.2 133.2 L321.2 133.7 L321.3 134.5 L321.4 135.4 L321.4 136.2 L321.5 137.0"/>
<path class="c" d="M41.6 166.0 L42.3 163.7 L43.0 161.3 L43.7 159.0 L44.5 156.7 L45.2 154.4 L46.0 152.1 L46.8 150.1 L47.6 148.0 L48.4 146.0 L49.2 144.1 L50.1 142.1 L51.0 140.2 L51.9 138.4 L52.9 136.7 L53.8 134.9 L54.9 133.2 L55.9 131.6 L57.0 130.0 L58.1 128.5 L59.2 127.1 L60.3 125.7 L61.5 124.4 L62.7 123.1 L64.0 121.9 L65.2 120.8 L66.5 119.7 L67.9 118.7 L69.2 117.7 L70.6 116.8 L72.0 116.0 L73.4 115.2 L74.9 114.4 L76.4 113.8 L77.9 113.1 L79.5 112.5 L81.0 112.0 L82.5 111.5 L84.0 111.1 L85.4 110.7 L86.9 110.3 L88.5 110.0 L90.0 109.7 L91.6 109.4 L93.3 109.1 L94.9 108.8 L96.6 108.6 L98.3 108.4 L100.0 108.2 L101.9 108.0 L103.9 107.8 L105.9 107.7 L107.9 107.5 L110.0 107.4 L112.0 107.3 L114.1 107.2 L116.3 107.1 L118.4 107.0 L120.6 106.9 L122.8 106.9 L125.0 106.8 L127.4 106.8 L129.9 106.7 L132.4 106.7 L135.0 106.7 L137.5 106.6 L140.0 106.6 L142.5 106.5 L145.0 106.4 L147.5 106.3 L150.0 106.3 L152.5 106.3 L155.0 106.5 L157.5 106.9 L159.9 107.5 L162.2 108.1 L164.7 108.8 L167.3 109.4 L170.0 109.8 L174.0 110.0 L178.5 110.0 L183.2 109.9 L187.8 109.7 L192.2 109.5 L196.0 109.5 L198.3 109.6 L200.5 109.7 L202.6 109.8 L204.5 109.9 L206.3 110.1 L208.0 110.3 L209.1 110.5 L210.1 110.7 L211.0 111.0 L212.0 111.2 L212.9 111.5 L214.0 111.7 L215.5 112.0 L217.2 112.2 L218.9 112.5 L220.7 112.7 L222.5 112.9 L224.2 113.1 L225.9 113.1 L227.6 113.2 L229.3 113.2 L231.0 113.2 L232.7 113.2 L234.4 113.2 L236.1 113.3 L237.8 113.3 L239.5 113.4 L241.2 113.5 L242.9 113.7 L244.6 113.9 L246.3 114.2 L248.0 114.6 L249.8 115.1 L251.5 115.6 L253.1 116.2 L254.8 116.9 L256.6 117.9 L258.4 119.0 L260.2 120.3 L261.9 121.6 L263.5 122.8 L265.0 124.0 L265.9 124.9 L266.8 125.8 L267.6 126.7 L268.3 127.5 L269.1 128.1 L270.0 128.5 L270.9 128.6 L271.9 128.5 L272.9 128.2 L273.9 127.9 L274.9 127.5 L275.8 127.2 L276.7 127.0 L277.5 126.6 L278.3 126.1 L279.1 125.8 L279.9 125.8 L280.6 126.0 L282.2 129.0 L283.5 134.7 L284.4 142.2 L285.2 150.2 L285.9 157.6 L286.8 163.5 L287.3 166.2 L287.9 168.6 L288.4 170.8 L288.9 172.9 L289.4 174.9 L289.9 177.0 L290.4 178.9 L290.9 180.8 L291.4 182.6 L291.9 184.4 L292.4 186.1 L292.9 187.8 L293.4 189.2 L293.9 190.7 L294.3 192.0 L294.8 193.4 L295.3 194.7 L295.8 195.9 L296.2 196.9 L296.6 197.9 L297.0 198.8 L297.4 199.7 L297.9 200.5 L298.3 201.3 L298.8 201.9 L299.2 202.5 L299.6 203.1 L300.1 203.5 L300.5 203.9 L301.0 204.0 L301.5 203.9 L302.1 203.6 L302.7 203.1 L303.2 202.6 L303.7 201.9 L304.2 201.3 L304.8 200.4 L305.4 199.3 L305.8 198.1 L306.3 196.9 L306.7 195.5 L307.2 194.2 L307.7 192.6 L308.2 190.8 L308.6 189.0 L309.1 187.2 L309.5 185.3 L309.9 183.4 L310.4 181.3 L310.8 179.1 L311.2 176.9 L311.6 174.7 L312.0 172.5 L312.4 170.3 L312.8 168.2 L313.1 166.1 L313.5 163.9 L313.8 161.8 L314.1 159.8 L314.4 157.8 L314.6 156.4 L314.8 155.0 L315.0 153.7 L315.1 152.4 L315.3 151.1 L315.5 149.7 L315.7 148.0 L315.9 146.1 L316.1 144.3 L316.3 142.4 L316.5 140.6 L316.7 139.0 L316.8 137.7 L317.0 136.4 L317.1 135.0 L317.3 133.9 L317.4 133.1 L317.6 132.8 L317.7 132.9 L317.9 133.3 L318.0 133.8 L318.1 134.5 L318.3 135.2 L318.4 136.0 L318.7 138.5 L318.8 141.9 L319.0 145.8 L319.1 150.0 L319.2 154.2 L319.4 158.0 L319.6 161.6 L319.7 165.3 L319.9 169.1 L320.0 172.6 L320.2 175.6 L320.4 178.0 L320.5 178.8 L320.6 179.6 L320.7 180.4 L320.7 181.0 L320.8 181.4 L320.9 181.5 L321.0 181.1 L321.1 180.1 L321.2 178.7 L321.2 177.1 L321.3 175.4 L321.4 174.0"/>
<path class="c" d="M41.6 164.8 L42.3 163.4 L43.0 162.1 L43.8 160.7 L44.5 159.4 L45.2 158.0 L46.0 156.7 L46.8 155.3 L47.6 153.9 L48.4 152.5 L49.3 151.1 L50.1 149.7 L51.0 148.3 L51.9 146.9 L52.9 145.4 L53.9 143.9 L54.9 142.4 L55.9 141.0 L57.0 139.5 L58.1 138.0 L59.2 136.5 L60.4 135.0 L61.6 133.5 L62.8 132.0 L64.0 130.6 L65.3 129.1 L66.6 127.6 L67.9 126.1 L69.2 124.7 L70.6 123.3 L72.0 121.9 L73.4 120.5 L74.9 119.1 L76.4 117.7 L77.9 116.4 L79.5 115.1 L81.0 113.8 L82.5 112.6 L83.9 111.5 L85.4 110.4 L86.9 109.3 L88.5 108.2 L90.0 107.2 L91.6 106.1 L93.2 105.1 L94.9 104.1 L96.5 103.1 L98.3 102.1 L100.0 101.2 L101.9 100.2 L103.9 99.2 L105.9 98.3 L107.9 97.3 L109.9 96.4 L112.0 95.6 L114.1 94.7 L116.2 93.9 L118.4 93.1 L120.6 92.4 L122.8 91.7 L125.0 90.9 L127.4 90.2 L129.9 89.5 L132.4 88.9 L134.9 88.2 L137.5 87.6 L140.0 87.0 L142.4 86.4 L144.8 85.9 L147.1 85.3 L149.6 84.8 L152.2 84.4 L155.0 84.2 L160.0 84.5 L165.9 85.4 L172.1 86.6 L178.2 87.5 L183.6 87.7 L188.0 86.8 L190.3 85.2 L192.2 83.1 L193.7 80.6 L195.1 77.9 L196.5 75.3 L198.0 72.8 L199.7 70.5 L201.4 68.1 L203.1 65.8 L204.8 63.5 L206.4 61.1 L208.0 58.8 L209.4 56.4 L210.7 53.9 L212.0 51.4 L213.3 49.1 L214.6 47.0 L216.0 45.4 L217.0 44.5 L218.0 43.8 L219.0 43.2 L220.1 42.7 L221.1 42.4 L222.0 42.4 L222.8 42.6 L223.6 43.0 L224.3 43.6 L225.0 44.3 L225.8 45.0 L226.5 45.6 L227.2 46.2 L227.9 46.7 L228.5 47.3 L229.2 47.9 L230.0 48.5 L231.0 49.3 L234.0 51.4 L238.0 53.9 L242.6 56.8 L247.4 59.8 L252.0 62.9 L256.2 65.7 L259.6 68.0 L263.0 70.0 L266.3 72.1 L269.4 74.3 L272.2 76.9 L274.6 80.0 L276.9 84.7 L278.6 90.1 L279.9 96.1 L280.9 102.3 L281.9 108.7 L283.2 115.0 L284.9 122.4 L286.7 130.4 L288.5 138.6 L290.3 146.4 L291.9 153.3 L293.3 158.6 L293.8 160.5 L294.3 162.0 L294.7 163.4 L295.1 164.7 L295.6 166.0 L296.0 167.2 L296.5 168.5 L296.9 169.7 L297.3 170.8 L297.8 172.0 L298.2 173.1 L298.7 174.2 L299.1 175.1 L299.5 176.0 L299.9 176.9 L300.3 177.7 L300.7 178.5 L301.2 179.3 L301.5 180.0 L301.9 180.6 L302.3 181.2 L302.7 181.8 L303.0 182.3 L303.5 182.8 L303.8 183.2 L304.2 183.6 L304.6 183.9 L305.0 184.2 L305.4 184.4 L305.8 184.5 L306.2 184.4 L306.6 184.2 L306.9 183.9 L307.3 183.6 L307.6 183.2 L308.0 182.8 L308.4 182.2 L308.7 181.5 L309.0 180.7 L309.3 179.9 L309.6 179.1 L309.9 178.2 L310.3 177.2 L310.6 176.1 L310.9 174.9 L311.2 173.7 L311.5 172.5 L311.8 171.3 L312.1 169.9 L312.4 168.5 L312.7 167.1 L312.9 165.7 L313.2 164.3 L313.4 162.9 L313.7 161.6 L313.9 160.2 L314.1 158.8 L314.3 157.5 L314.6 156.2 L314.7 154.9 L314.9 153.9 L315.0 152.7 L315.1 151.6 L315.3 150.6 L315.4 150.0 L315.5 149.7 L315.7 150.3 L315.9 151.9 L316.1 154.2 L316.3 156.9 L316.5 159.6 L316.7 162.0 L316.9 164.7 L317.0 167.6 L317.1 170.6 L317.3 173.4 L317.4 176.0 L317.6 178.0 L317.7 178.9 L317.8 179.7 L317.9 180.5 L318.1 181.2 L318.2 181.6 L318.3 181.8 L318.5 181.4 L318.7 180.2 L318.8 178.4 L319.0 176.3 L319.1 174.1 L319.3 172.0 L319.5 168.3 L319.7 163.9 L319.9 159.2 L320.1 154.5 L320.2 150.0 L320.4 146.0 L320.5 143.3 L320.6 140.4 L320.8 137.6 L320.9 135.2 L321.0 133.6 L321.1 133.0 L321.2 133.2 L321.2 133.7 L321.3 134.5 L321.4 135.4 L321.4 136.2 L321.5 137.0"/>
<path class="c" d="M41.6 165.6 L42.3 164.2 L43.0 162.7 L43.8 161.3 L44.5 159.8 L45.2 158.4 L46.0 157.0 L46.8 155.6 L47.6 154.1 L48.4 152.7 L49.3 151.3 L50.1 149.8 L51.0 148.4 L51.9 146.9 L52.9 145.5 L53.9 144.0 L54.9 142.5 L55.9 141.0 L57.0 139.6 L58.1 138.1 L59.2 136.7 L60.4 135.2 L61.6 133.8 L62.8 132.4 L64.0 131.0 L65.3 129.6 L66.6 128.3 L67.9 126.9 L69.2 125.6 L70.6 124.3 L72.0 123.1 L73.4 121.8 L74.9 120.6 L76.4 119.4 L77.9 118.2 L79.5 117.1 L81.0 116.0 L82.5 115.0 L83.9 114.1 L85.4 113.2 L86.9 112.3 L88.5 111.4 L90.0 110.6 L91.6 109.7 L93.2 108.9 L94.9 108.1 L96.6 107.4 L98.3 106.6 L100.0 105.9 L101.9 105.1 L103.9 104.4 L105.9 103.7 L107.9 103.0 L109.9 102.4 L112.0 101.8 L114.1 101.2 L116.2 100.6 L118.4 100.1 L120.6 99.6 L122.8 99.1 L125.0 98.7 L127.4 98.2 L129.9 97.7 L132.4 97.3 L135.0 96.9 L137.5 96.6 L140.0 96.2 L142.5 95.9 L145.0 95.7 L147.5 95.5 L149.9 95.3 L152.5 95.0 L155.0 94.6 L157.7 94.0 L160.5 93.3 L163.2 92.6 L166.0 91.7 L168.9 90.9 L172.0 90.0 L176.3 89.0 L181.0 88.0 L185.9 87.0 L190.7 85.8 L195.0 84.2 L198.6 82.3 L200.8 80.3 L202.6 78.1 L204.2 75.7 L205.6 73.2 L207.0 70.7 L208.6 68.3 L210.3 65.9 L212.0 63.6 L213.7 61.3 L215.4 58.9 L217.0 56.6 L218.6 54.3 L220.0 51.9 L221.3 49.4 L222.6 46.9 L223.9 44.5 L225.2 42.5 L226.6 40.9 L227.6 40.0 L228.6 39.3 L229.6 38.6 L230.7 38.2 L231.7 37.9 L232.6 37.9 L233.4 38.1 L234.2 38.5 L234.9 39.0 L235.7 39.7 L236.4 40.4 L237.1 41.1 L237.8 41.7 L238.5 42.5 L239.1 43.2 L239.8 44.0 L240.6 44.9 L241.6 45.9 L244.2 48.2 L247.4 51.1 L251.1 54.2 L255.0 57.6 L258.8 60.9 L262.2 64.0 L265.1 66.6 L268.0 69.0 L270.8 71.4 L273.5 73.9 L276.0 76.7 L278.1 80.0 L280.2 84.8 L281.8 90.3 L282.9 96.2 L283.9 102.5 L284.9 108.8 L286.1 115.0 L287.7 122.3 L289.3 130.2 L291.0 138.2 L292.6 145.8 L294.0 152.5 L295.3 157.6 L295.8 159.3 L296.2 160.7 L296.6 161.9 L297.0 163.0 L297.4 164.1 L297.8 165.2 L298.2 166.3 L298.6 167.4 L298.9 168.4 L299.3 169.4 L299.7 170.4 L300.1 171.3 L300.5 172.2 L300.9 173.0 L301.2 173.8 L301.6 174.5 L302.0 175.2 L302.4 175.9 L302.7 176.5 L303.0 177.0 L303.3 177.6 L303.7 178.1 L304.0 178.6 L304.4 179.0 L304.7 179.3 L305.1 179.7 L305.4 180.0 L305.8 180.3 L306.2 180.4 L306.5 180.5 L306.8 180.4 L307.2 180.3 L307.5 180.0 L307.9 179.7 L308.2 179.3 L308.5 179.0 L308.9 178.4 L309.2 177.8 L309.5 177.2 L309.8 176.4 L310.0 175.7 L310.3 175.0 L310.6 174.0 L310.9 173.0 L311.2 172.0 L311.5 170.9 L311.8 169.9 L312.0 168.8 L312.3 167.6 L312.6 166.4 L312.9 165.1 L313.1 163.9 L313.4 162.6 L313.6 161.4 L313.8 160.2 L314.0 159.0 L314.2 157.8 L314.4 156.6 L314.6 155.4 L314.8 154.3 L314.9 153.4 L315.0 152.5 L315.0 151.5 L315.1 150.7 L315.3 150.1 L315.5 149.7 L315.7 149.6 L315.9 149.6 L316.1 149.6 L316.3 149.7 L316.5 149.8 L316.7 150.0 L317.0 150.9 L317.3 152.5 L317.4 154.4 L317.5 156.1 L317.6 157.5 L317.7 158.0 L317.9 157.6 L318.0 156.6 L318.2 155.1 L318.3 153.3 L318.5 151.6 L318.6 150.0 L318.8 148.2 L318.9 146.0 L319.1 143.8 L319.3 141.9 L319.4 140.5 L319.6 140.0 L319.8 140.6 L319.9 142.0 L320.1 144.1 L320.2 146.5 L320.4 148.9 L320.5 151.0 L320.6 153.2 L320.8 155.8 L320.9 158.5 L321.0 160.8 L321.1 162.4 L321.2 163.0 L321.3 162.8 L321.3 162.4 L321.4 161.9 L321.4 161.2 L321.5 160.6 L321.5 160.0"/>
<path class="c" d="M41.6 166.4 L42.3 165.4 L43.1 164.4 L43.8 163.4 L44.5 162.4 L45.2 161.4 L46.0 160.4 L46.8 159.4 L47.6 158.4 L48.4 157.3 L49.3 156.3 L50.1 155.3 L51.0 154.2 L52.0 153.1 L52.9 152.0 L53.9 150.8 L54.9 149.7 L56.0 148.6 L57.0 147.4 L58.1 146.2 L59.3 145.1 L60.4 143.9 L61.6 142.7 L62.8 141.5 L64.0 140.4 L65.3 139.2 L66.6 138.0 L67.9 136.8 L69.3 135.6 L70.6 134.4 L72.0 133.3 L73.5 132.1 L74.9 130.9 L76.4 129.8 L78.0 128.6 L79.5 127.5 L81.0 126.4 L82.5 125.4 L84.0 124.4 L85.4 123.4 L86.9 122.5 L88.5 121.5 L90.0 120.6 L91.6 119.6 L93.2 118.7 L94.9 117.8 L96.6 116.9 L98.3 116.0 L100.0 115.1 L101.9 114.2 L103.9 113.2 L105.9 112.3 L107.9 111.4 L109.9 110.5 L112.0 109.7 L114.1 108.8 L116.2 108.0 L118.4 107.2 L120.6 106.4 L122.8 105.7 L125.0 104.9 L127.4 104.2 L129.9 103.4 L132.4 102.7 L134.9 102.0 L137.5 101.3 L140.0 100.7 L142.5 100.1 L144.9 99.7 L147.4 99.3 L149.9 98.9 L152.4 98.3 L155.0 97.4 L158.4 95.8 L161.9 93.7 L165.5 91.3 L169.2 88.9 L173.0 86.7 L177.0 85.0 L181.9 83.9 L187.3 83.4 L192.8 83.1 L198.2 82.7 L203.0 82.0 L207.0 80.4 L209.3 78.6 L211.1 76.4 L212.7 73.9 L214.1 71.4 L215.5 68.8 L217.0 66.4 L218.7 64.0 L220.4 61.7 L222.1 59.4 L223.8 57.0 L225.4 54.7 L227.0 52.4 L228.4 50.0 L229.7 47.5 L231.0 45.0 L232.3 42.6 L233.6 40.6 L235.0 39.0 L236.0 38.1 L237.0 37.4 L238.0 36.7 L239.1 36.3 L240.1 36.0 L241.0 36.0 L241.8 36.2 L242.6 36.6 L243.3 37.1 L244.1 37.8 L244.8 38.5 L245.5 39.2 L246.3 39.9 L246.9 40.8 L247.6 41.7 L248.3 42.6 L249.1 43.7 L250.0 44.8 L252.2 47.3 L255.0 50.2 L258.1 53.4 L261.3 56.8 L264.4 60.1 L267.3 63.3 L269.9 66.0 L272.5 68.5 L275.0 71.1 L277.4 73.7 L279.6 76.7 L281.5 80.0 L283.4 84.9 L284.9 90.4 L286.0 96.4 L286.9 102.5 L287.8 108.8 L288.9 115.0 L290.4 122.1 L291.9 129.9 L293.4 137.8 L294.8 145.2 L296.2 151.6 L297.3 156.5 L297.7 157.9 L298.1 159.1 L298.5 160.2 L298.8 161.1 L299.2 162.0 L299.5 163.0 L299.9 163.9 L300.2 164.8 L300.5 165.7 L300.9 166.6 L301.2 167.4 L301.6 168.2 L301.9 168.9 L302.2 169.6 L302.6 170.2 L302.9 170.9 L303.2 171.5 L303.6 172.1 L303.8 172.6 L304.1 173.1 L304.4 173.5 L304.7 173.9 L305.0 174.3 L305.4 174.7 L305.6 175.0 L305.9 175.3 L306.3 175.6 L306.6 175.8 L306.9 175.9 L307.2 176.0 L307.5 175.9 L307.8 175.8 L308.2 175.6 L308.5 175.3 L308.8 175.0 L309.1 174.7 L309.4 174.2 L309.7 173.7 L310.0 173.2 L310.2 172.5 L310.5 171.9 L310.7 171.3 L311.0 170.5 L311.3 169.6 L311.6 168.7 L311.8 167.8 L312.1 166.9 L312.3 166.0 L312.6 165.0 L312.8 163.9 L313.1 162.9 L313.3 161.8 L313.5 160.7 L313.7 159.7 L313.9 158.7 L314.1 157.6 L314.3 156.6 L314.5 155.6 L314.7 154.6 L314.9 153.6 L315.0 153.0 L315.1 152.3 L315.2 151.7 L315.3 151.1 L315.4 150.5 L315.5 149.7 L315.7 148.2 L315.9 146.4 L316.1 144.5 L316.3 142.5 L316.5 140.7 L316.7 139.0 L316.8 137.7 L317.0 136.4 L317.1 135.0 L317.3 133.9 L317.4 133.1 L317.6 132.8 L317.7 132.9 L317.9 133.3 L318.0 133.8 L318.1 134.5 L318.3 135.2 L318.4 136.0 L318.7 138.5 L318.8 141.9 L319.0 145.8 L319.1 150.0 L319.2 154.2 L319.4 158.0 L319.6 161.6 L319.7 165.3 L319.9 169.1 L320.0 172.6 L320.2 175.6 L320.4 178.0 L320.5 178.8 L320.6 179.6 L320.7 180.4 L320.7 181.0 L320.8 181.4 L320.9 181.5 L321.0 181.1 L321.1 180.1 L321.2 178.7 L321.2 177.1 L321.3 175.4 L321.4 174.0"/>
<path class="c" d="M41.6 167.0 L42.3 166.3 L43.1 165.6 L43.8 164.9 L44.5 164.2 L45.2 163.5 L46.0 162.8 L46.8 162.1 L47.6 161.4 L48.4 160.6 L49.3 159.9 L50.1 159.2 L51.0 158.4 L52.0 157.6 L52.9 156.8 L53.9 156.0 L54.9 155.2 L56.0 154.4 L57.0 153.6 L58.1 152.7 L59.3 151.9 L60.4 151.0 L61.6 150.2 L62.8 149.4 L64.0 148.5 L65.3 147.6 L66.6 146.8 L67.9 145.9 L69.3 145.1 L70.6 144.2 L72.0 143.4 L73.5 142.5 L74.9 141.6 L76.4 140.8 L78.0 140.0 L79.5 139.1 L81.0 138.3 L82.5 137.6 L84.0 136.8 L85.5 136.1 L87.0 135.4 L88.5 134.7 L90.0 134.0 L91.6 133.2 L93.2 132.5 L94.9 131.8 L96.6 131.2 L98.3 130.5 L100.0 129.8 L101.9 129.1 L103.9 128.4 L105.9 127.6 L107.9 127.0 L110.0 126.3 L112.0 125.6 L114.1 125.0 L116.2 124.3 L118.4 123.7 L120.6 123.1 L122.8 122.5 L125.0 121.9 L127.4 121.3 L129.9 120.7 L132.4 120.1 L135.0 119.6 L137.5 119.0 L140.0 118.5 L142.5 118.0 L145.0 117.5 L147.6 117.0 L150.1 116.6 L152.6 116.2 L155.0 115.8 L157.2 115.5 L159.3 115.3 L161.5 115.2 L163.6 114.9 L165.8 114.6 L168.0 114.0 L170.9 113.0 L174.0 111.8 L177.1 110.4 L180.2 108.7 L183.2 106.9 L186.0 105.0 L188.7 102.7 L191.2 100.0 L193.7 97.1 L196.0 94.2 L198.5 91.4 L201.0 89.0 L203.4 87.2 L205.9 85.6 L208.5 84.1 L211.0 82.6 L213.3 81.0 L215.5 79.2 L217.4 77.1 L219.2 74.9 L220.8 72.5 L222.3 70.0 L223.9 67.6 L225.5 65.2 L227.2 62.9 L228.9 60.5 L230.6 58.2 L232.3 55.9 L233.9 53.5 L235.5 51.2 L236.9 48.9 L238.2 46.4 L239.5 43.8 L240.8 41.5 L242.1 39.4 L243.5 37.8 L244.5 37.0 L245.5 36.2 L246.5 35.6 L247.6 35.1 L248.6 34.9 L249.5 34.8 L250.3 35.0 L251.1 35.4 L251.9 35.9 L252.6 36.6 L253.3 37.3 L254.0 38.0 L254.8 38.9 L255.5 39.9 L256.1 41.0 L256.8 42.1 L257.6 43.4 L258.5 44.7 L260.3 47.3 L262.5 50.1 L264.9 53.3 L267.4 56.5 L269.8 59.7 L272.1 62.8 L274.3 65.6 L276.5 68.3 L278.6 70.9 L280.7 73.7 L282.6 76.7 L284.3 80.0 L286.1 85.0 L287.4 90.5 L288.5 96.4 L289.5 102.6 L290.4 108.9 L291.5 115.0 L292.9 122.0 L294.3 129.6 L295.7 137.4 L297.0 144.6 L298.3 150.8 L299.4 155.4 L299.7 156.6 L300.1 157.6 L300.4 158.4 L300.7 159.2 L301.0 160.0 L301.3 160.8 L301.6 161.5 L301.9 162.2 L302.2 163.0 L302.5 163.7 L302.8 164.4 L303.1 165.1 L303.4 165.6 L303.7 166.2 L304.0 166.7 L304.2 167.3 L304.5 167.8 L304.8 168.3 L305.1 168.7 L305.3 169.1 L305.6 169.4 L305.8 169.8 L306.1 170.1 L306.4 170.4 L306.6 170.7 L306.9 170.9 L307.2 171.1 L307.5 171.3 L307.7 171.5 L308.0 171.5 L308.3 171.5 L308.6 171.3 L308.9 171.2 L309.1 170.9 L309.4 170.7 L309.7 170.4 L310.0 170.0 L310.2 169.6 L310.5 169.1 L310.7 168.6 L311.0 168.1 L311.2 167.6 L311.4 166.9 L311.7 166.2 L311.9 165.5 L312.2 164.7 L312.4 164.0 L312.6 163.2 L312.9 162.4 L313.1 161.5 L313.3 160.6 L313.5 159.7 L313.7 158.9 L313.9 158.0 L314.1 157.1 L314.3 156.3 L314.4 155.4 L314.6 154.6 L314.8 153.7 L314.9 153.0 L315.0 152.3 L315.1 151.6 L315.2 150.9 L315.3 150.3 L315.4 149.9 L315.5 149.7 L315.7 150.3 L315.9 151.9 L316.1 154.2 L316.3 156.9 L316.5 159.6 L316.7 162.0 L316.9 164.7 L317.0 167.6 L317.1 170.6 L317.3 173.4 L317.4 176.0 L317.6 178.0 L317.7 178.9 L317.8 179.7 L317.9 180.5 L318.1 181.2 L318.2 181.6 L318.3 181.8 L318.5 181.4 L318.7 180.2 L318.8 178.4 L319.0 176.3 L319.1 174.1 L319.3 172.0 L319.5 168.3 L319.7 163.9 L319.9 159.2 L320.1 154.5 L320.2 150.0 L320.4 146.0 L320.5 143.3 L320.6 140.4 L320.8 137.6 L320.9 135.2 L321.0 133.6 L321.1 133.0 L321.2 133.2 L321.2 133.7 L321.3 134.5 L321.4 135.4 L321.4 136.2 L321.5 137.0"/>
<path class="c" d="M41.6 167.6 L42.3 167.2 L43.1 166.7 L43.8 166.3 L44.5 165.9 L45.2 165.4 L46.0 165.0 L46.8 164.5 L47.6 164.1 L48.4 163.6 L49.3 163.2 L50.1 162.7 L51.0 162.2 L52.0 161.7 L52.9 161.2 L53.9 160.7 L54.9 160.2 L56.0 159.7 L57.0 159.2 L58.1 158.7 L59.3 158.2 L60.4 157.7 L61.6 157.1 L62.8 156.6 L64.0 156.1 L65.3 155.6 L66.6 155.0 L67.9 154.5 L69.3 154.0 L70.6 153.5 L72.0 153.0 L73.5 152.4 L75.0 151.9 L76.5 151.4 L78.0 150.9 L79.5 150.4 L81.0 149.9 L82.5 149.4 L84.0 149.0 L85.5 148.5 L87.0 148.1 L88.5 147.7 L90.0 147.3 L91.6 146.8 L93.3 146.4 L94.9 146.0 L96.6 145.6 L98.3 145.2 L100.0 144.8 L101.9 144.4 L103.9 143.9 L105.9 143.5 L107.9 143.1 L110.0 142.7 L112.0 142.3 L114.1 141.9 L116.3 141.6 L118.4 141.2 L120.6 140.9 L122.8 140.5 L125.0 140.2 L127.4 139.8 L129.9 139.5 L132.4 139.1 L135.0 138.8 L137.5 138.5 L140.0 138.2 L142.5 138.0 L145.1 137.8 L147.6 137.6 L150.1 137.4 L152.6 137.1 L155.0 136.7 L157.2 136.1 L159.4 135.5 L161.5 134.7 L163.6 133.9 L165.7 133.1 L168.0 132.2 L170.9 131.2 L174.1 130.1 L177.3 129.0 L180.5 127.8 L183.4 126.5 L186.0 125.0 L187.8 123.7 L189.4 122.3 L190.9 120.8 L192.2 119.2 L193.6 117.6 L195.0 115.9 L196.6 113.9 L198.1 111.9 L199.6 109.7 L201.0 107.5 L202.5 105.3 L204.0 103.0 L205.6 100.5 L207.1 97.9 L208.6 95.3 L210.2 92.7 L211.8 90.3 L213.5 88.0 L215.2 86.2 L216.9 84.6 L218.7 83.1 L220.5 81.6 L222.3 80.0 L224.0 78.3 L225.8 76.1 L227.5 73.9 L229.1 71.5 L230.7 69.1 L232.4 66.6 L234.0 64.3 L235.7 61.9 L237.4 59.6 L239.1 57.3 L240.8 54.9 L242.4 52.6 L244.0 50.3 L245.4 47.9 L246.7 45.4 L248.0 42.9 L249.3 40.6 L250.6 38.5 L252.0 36.9 L253.0 36.0 L254.0 35.3 L255.0 34.7 L256.1 34.2 L257.1 33.9 L258.0 33.9 L258.8 34.0 L259.6 34.4 L260.4 35.0 L261.1 35.6 L261.8 36.3 L262.5 37.1 L263.3 38.1 L264.0 39.3 L264.7 40.7 L265.4 42.1 L266.2 43.6 L267.0 45.2 L268.4 47.7 L270.0 50.5 L271.8 53.4 L273.5 56.5 L275.3 59.5 L277.0 62.5 L278.8 65.3 L280.6 68.0 L282.4 70.8 L284.2 73.6 L285.8 76.6 L287.3 80.0 L289.0 85.0 L290.3 90.6 L291.5 96.5 L292.5 102.7 L293.6 108.9 L294.8 115.0 L296.1 121.9 L297.5 129.4 L298.9 137.0 L300.3 144.0 L301.5 150.0 L302.4 154.2 L302.7 155.2 L303.0 156.0 L303.2 156.7 L303.4 157.3 L303.6 157.9 L303.9 158.5 L304.1 159.1 L304.3 159.7 L304.5 160.3 L304.7 160.8 L305.0 161.4 L305.2 161.9 L305.4 162.4 L305.6 162.8 L305.8 163.2 L306.0 163.7 L306.2 164.1 L306.5 164.4 L306.6 164.8 L306.8 165.1 L307.0 165.4 L307.2 165.7 L307.4 165.9 L307.6 166.2 L307.8 166.3 L308.0 166.5 L308.2 166.7 L308.4 166.9 L308.6 167.0 L308.8 167.0 L309.0 167.0 L309.3 166.9 L309.6 166.7 L309.8 166.6 L310.1 166.4 L310.3 166.1 L310.6 165.8 L310.8 165.5 L311.0 165.1 L311.2 164.7 L311.4 164.3 L311.6 163.9 L311.9 163.4 L312.1 162.8 L312.3 162.2 L312.5 161.6 L312.7 161.0 L312.9 160.4 L313.1 159.8 L313.3 159.1 L313.5 158.4 L313.7 157.7 L313.9 157.0 L314.1 156.3 L314.2 155.6 L314.4 154.9 L314.6 154.2 L314.7 153.6 L314.8 152.9 L315.0 152.3 L315.1 151.8 L315.1 151.3 L315.2 150.7 L315.2 150.3 L315.3 149.9 L315.5 149.7 L315.7 149.6 L315.9 149.6 L316.1 149.6 L316.3 149.7 L316.5 149.8 L316.7 150.0 L317.0 150.9 L317.3 152.5 L317.4 154.4 L317.5 156.1 L317.6 157.5 L317.7 158.0 L317.9 157.6 L318.0 156.6 L318.2 155.1 L318.3 153.3 L318.5 151.6 L318.6 150.0 L318.8 148.2 L318.9 146.0 L319.1 143.8 L319.3 141.9 L319.4 140.5 L319.6 140.0 L319.8 140.6 L319.9 142.0 L320.1 144.1 L320.2 146.5 L320.4 148.9 L320.5 151.0 L320.6 153.2 L320.8 155.8 L320.9 158.5 L321.0 160.8 L321.1 162.4 L321.2 163.0 L321.3 162.8 L321.3 162.4 L321.4 161.9 L321.4 161.2 L321.5 160.6 L321.5 160.0"/>
<path class="c" d="M41.6 168.0 L42.3 167.8 L43.1 167.7 L43.8 167.5 L44.5 167.4 L45.3 167.2 L46.0 167.1 L46.8 166.9 L47.6 166.7 L48.5 166.5 L49.3 166.4 L50.1 166.2 L51.0 166.0 L52.0 165.8 L52.9 165.6 L53.9 165.5 L54.9 165.3 L56.0 165.1 L57.0 164.9 L58.1 164.7 L59.3 164.5 L60.4 164.3 L61.6 164.0 L62.8 163.8 L64.0 163.6 L65.3 163.4 L66.6 163.2 L67.9 163.0 L69.3 162.8 L70.6 162.5 L72.0 162.3 L73.5 162.1 L75.0 161.9 L76.5 161.7 L78.0 161.4 L79.5 161.2 L81.0 161.0 L82.5 160.8 L84.0 160.6 L85.5 160.4 L87.0 160.2 L88.5 160.0 L90.0 159.8 L91.6 159.6 L93.3 159.4 L94.9 159.2 L96.6 159.0 L98.3 158.8 L100.0 158.6 L101.9 158.4 L103.9 158.2 L105.9 158.0 L107.9 157.7 L110.0 157.5 L112.0 157.3 L114.1 157.1 L116.3 156.9 L118.4 156.7 L120.6 156.5 L122.8 156.3 L125.0 156.1 L127.4 155.9 L129.9 155.7 L132.4 155.5 L135.0 155.4 L137.5 155.2 L140.0 155.0 L142.6 154.9 L145.2 154.8 L147.8 154.8 L150.4 154.7 L152.8 154.5 L155.0 154.0 L156.6 153.4 L158.1 152.5 L159.5 151.5 L160.9 150.6 L162.3 149.8 L163.7 149.2 L165.0 149.0 L166.3 148.9 L167.7 149.0 L169.0 149.0 L170.3 149.0 L171.6 148.7 L172.9 148.1 L174.2 147.4 L175.5 146.5 L176.8 145.6 L178.1 144.7 L179.5 143.8 L181.2 142.9 L183.0 142.1 L184.8 141.2 L186.6 140.3 L188.4 139.2 L190.0 137.9 L191.7 136.0 L193.3 133.9 L194.8 131.5 L196.2 129.0 L197.6 126.5 L199.0 124.0 L200.5 121.4 L201.9 118.7 L203.4 116.0 L204.8 113.3 L206.4 110.6 L208.0 108.0 L209.8 105.3 L211.8 102.6 L213.8 99.9 L215.8 97.2 L217.9 94.6 L220.0 92.0 L222.1 89.5 L224.2 87.1 L226.3 84.7 L228.4 82.3 L230.4 79.9 L232.4 77.5 L234.2 75.2 L235.9 72.8 L237.5 70.5 L239.1 68.2 L240.8 65.8 L242.4 63.5 L244.1 61.2 L245.8 58.8 L247.5 56.5 L249.2 54.2 L250.8 51.8 L252.4 49.5 L253.8 47.1 L255.1 44.6 L256.4 42.1 L257.7 39.8 L259.0 37.7 L260.4 36.1 L261.4 35.2 L262.4 34.5 L263.4 33.9 L264.5 33.4 L265.5 33.1 L266.4 33.1 L267.2 33.3 L268.0 33.6 L268.8 34.1 L269.5 34.8 L270.2 35.5 L270.9 36.3 L271.8 37.5 L272.5 39.0 L273.2 40.7 L273.9 42.5 L274.6 44.4 L275.4 46.2 L276.5 48.7 L277.5 51.2 L278.7 53.9 L279.8 56.7 L281.0 59.4 L282.3 62.2 L283.6 65.0 L285.1 67.8 L286.6 70.6 L288.1 73.5 L289.5 76.6 L290.8 80.0 L292.3 85.1 L293.6 90.7 L294.8 96.6 L295.9 102.7 L297.0 108.9 L298.2 115.0 L299.5 121.7 L300.9 129.2 L302.2 136.6 L303.5 143.5 L304.6 149.2 L305.4 153.1 L305.6 153.9 L305.8 154.4 L305.9 154.9 L306.1 155.4 L306.2 155.8 L306.4 156.2 L306.5 156.7 L306.7 157.1 L306.8 157.5 L307.0 158.0 L307.1 158.4 L307.3 158.8 L307.4 159.1 L307.6 159.4 L307.7 159.7 L307.8 160.0 L308.0 160.3 L308.1 160.6 L308.3 160.9 L308.4 161.1 L308.5 161.3 L308.6 161.5 L308.8 161.7 L308.9 161.9 L309.0 162.0 L309.1 162.2 L309.3 162.3 L309.4 162.4 L309.6 162.5 L309.7 162.5 L309.9 162.5 L310.1 162.4 L310.3 162.3 L310.6 162.2 L310.8 162.0 L311.0 161.9 L311.2 161.6 L311.4 161.4 L311.6 161.1 L311.8 160.8 L312.0 160.5 L312.2 160.2 L312.4 159.8 L312.6 159.4 L312.7 159.0 L312.9 158.5 L313.1 158.1 L313.3 157.6 L313.5 157.1 L313.6 156.6 L313.8 156.1 L314.0 155.6 L314.1 155.1 L314.3 154.6 L314.4 154.1 L314.5 153.6 L314.7 153.1 L314.8 152.6 L314.9 152.1 L315.0 151.6 L315.1 151.3 L315.2 151.0 L315.3 150.7 L315.4 150.4 L315.4 150.1 L315.5 149.7 L315.7 148.4 L315.9 146.7 L316.1 144.7 L316.3 142.7 L316.5 140.7 L316.7 139.0 L316.8 137.7 L317.0 136.4 L317.1 135.0 L317.3 133.9 L317.4 133.1 L317.6 132.8 L317.7 132.9 L317.9 133.3 L318.0 133.8 L318.1 134.5 L318.3 135.2 L318.4 136.0 L318.7 138.5 L318.8 141.9 L319.0 145.8 L319.1 150.0 L319.2 154.2 L319.4 158.0 L319.6 161.6 L319.7 165.3 L319.9 169.1 L320.0 172.6 L320.2 175.6 L320.4 178.0 L320.5 178.8 L320.6 179.6 L320.7 180.4 L320.7 181.0 L320.8 181.4 L320.9 181.5 L321.0 181.1 L321.1 180.1 L321.2 178.7 L321.2 177.1 L321.3 175.4 L321.4 174.0"/>
<path class="c" d="M41.6 168.5 L42.3 168.5 L43.1 168.5 L43.8 168.5 L44.5 168.5 L45.3 168.6 L46.0 168.6 L46.8 168.6 L47.6 168.6 L48.5 168.6 L49.3 168.6 L50.1 168.6 L51.0 168.6 L52.0 168.7 L52.9 168.7 L53.9 168.7 L54.9 168.7 L56.0 168.7 L57.0 168.7 L58.1 168.7 L59.3 168.8 L60.4 168.8 L61.6 168.8 L62.8 168.8 L64.0 168.8 L65.3 168.8 L66.6 168.8 L67.9 168.8 L69.3 168.9 L70.6 168.9 L72.0 168.9 L73.5 168.9 L75.0 168.9 L76.5 168.9 L78.0 168.9 L79.5 168.9 L81.0 168.9 L82.5 169.0 L84.0 169.0 L85.5 169.0 L87.0 169.0 L88.5 169.0 L90.0 169.0 L91.6 169.0 L93.2 169.0 L94.8 169.1 L96.5 169.1 L98.2 169.1 L100.0 169.0 L102.3 168.9 L104.8 168.7 L107.3 168.5 L109.9 168.2 L112.5 167.9 L115.0 167.7 L117.5 167.4 L120.0 167.1 L122.5 166.9 L125.0 166.6 L127.5 166.3 L130.0 166.0 L132.5 165.6 L135.1 165.3 L137.7 165.0 L140.2 164.7 L142.7 164.4 L145.0 164.0 L146.8 163.9 L148.5 163.7 L150.2 163.6 L151.8 163.4 L153.4 163.1 L155.0 162.7 L156.7 162.0 L158.3 161.1 L160.0 160.1 L161.6 159.1 L163.2 158.3 L164.7 157.7 L165.9 157.5 L167.0 157.4 L168.1 157.4 L169.3 157.5 L170.4 157.4 L171.6 157.2 L173.2 156.7 L174.8 156.0 L176.5 155.2 L178.2 154.3 L179.9 153.5 L181.5 152.7 L183.0 152.1 L184.4 151.6 L185.8 151.1 L187.2 150.5 L188.6 149.8 L190.0 148.8 L192.0 147.0 L194.1 144.8 L196.2 142.2 L198.2 139.5 L200.1 136.7 L202.0 134.0 L203.8 131.1 L205.4 128.2 L207.0 125.1 L208.6 122.0 L210.3 119.0 L212.0 116.0 L213.9 113.1 L215.8 110.3 L217.8 107.6 L219.9 104.8 L221.9 102.0 L224.0 99.0 L226.4 95.4 L228.9 91.7 L231.4 87.9 L233.9 84.0 L236.4 80.4 L238.7 77.0 L240.5 74.4 L242.2 72.1 L243.8 69.8 L245.4 67.5 L247.1 65.3 L248.7 63.0 L250.4 60.6 L252.1 58.3 L253.8 56.0 L255.5 53.6 L257.1 51.3 L258.7 49.0 L260.1 46.6 L261.4 44.1 L262.7 41.6 L264.0 39.2 L265.3 37.2 L266.7 35.6 L267.7 34.7 L268.7 34.0 L269.7 33.4 L270.8 32.9 L271.8 32.6 L272.7 32.6 L273.5 32.7 L274.3 33.1 L275.1 33.6 L275.8 34.2 L276.5 35.0 L277.2 35.8 L278.1 37.2 L278.9 38.9 L279.6 40.9 L280.3 43.0 L281.0 45.1 L281.7 47.2 L282.5 49.5 L283.3 51.9 L284.1 54.4 L284.9 56.9 L285.8 59.4 L286.7 62.0 L287.8 64.8 L289.1 67.6 L290.4 70.5 L291.7 73.4 L293.0 76.6 L294.2 80.0 L295.6 85.1 L296.9 90.7 L298.2 96.7 L299.3 102.8 L300.5 109.0 L301.6 115.0 L302.9 121.6 L304.3 129.0 L305.6 136.3 L306.8 143.0 L307.8 148.5 L308.5 152.0 L308.6 152.5 L308.7 152.9 L308.8 153.2 L308.8 153.4 L308.9 153.7 L309.0 154.0 L309.0 154.3 L309.1 154.6 L309.2 154.8 L309.3 155.1 L309.3 155.3 L309.4 155.6 L309.5 155.8 L309.5 156.0 L309.6 156.2 L309.7 156.4 L309.8 156.6 L309.8 156.8 L309.9 156.9 L309.9 157.1 L310.0 157.2 L310.1 157.4 L310.1 157.5 L310.2 157.6 L310.3 157.7 L310.3 157.8 L310.4 157.8 L310.4 157.9 L310.5 158.0 L310.6 158.0 L310.7 158.0 L310.9 158.0 L311.1 157.9 L311.3 157.8 L311.5 157.7 L311.7 157.6 L311.9 157.4 L312.0 157.3 L312.2 157.1 L312.4 156.9 L312.5 156.7 L312.7 156.5 L312.8 156.3 L313.0 156.0 L313.2 155.7 L313.3 155.4 L313.5 155.1 L313.6 154.8 L313.8 154.5 L313.9 154.2 L314.1 153.9 L314.2 153.5 L314.3 153.2 L314.5 152.9 L314.6 152.5 L314.7 152.2 L314.8 151.9 L314.9 151.6 L315.0 151.2 L315.1 150.9 L315.2 150.7 L315.3 150.4 L315.3 150.1 L315.4 149.9 L315.4 149.8 L315.5 149.7 L315.7 150.3 L315.9 151.9 L316.1 154.2 L316.3 156.9 L316.5 159.6 L316.7 162.0 L316.9 164.7 L317.0 167.6 L317.1 170.6 L317.3 173.4 L317.4 176.0 L317.6 178.0 L317.7 178.9 L317.8 179.7 L317.9 180.5 L318.1 181.2 L318.2 181.6 L318.3 181.8 L318.5 181.4 L318.7 180.2 L318.8 178.4 L319.0 176.3 L319.1 174.1 L319.3 172.0 L319.5 168.3 L319.7 163.9 L319.9 159.2 L320.1 154.5 L320.2 150.0 L320.4 146.0 L320.5 143.3 L320.6 140.4 L320.8 137.6 L320.9 135.2 L321.0 133.6 L321.1 133.0 L321.2 133.2 L321.2 133.7 L321.3 134.5 L321.4 135.4 L321.4 136.2 L321.5 137.0"/>
<path class="c" d="M41.6 169.0 L42.3 169.2 L43.1 169.3 L43.8 169.5 L44.5 169.6 L45.2 169.8 L46.0 170.0 L46.8 170.1 L47.6 170.3 L48.5 170.5 L49.3 170.6 L50.1 170.8 L51.0 171.0 L52.0 171.2 L52.9 171.3 L53.9 171.5 L54.9 171.7 L56.0 171.9 L57.0 172.1 L58.1 172.3 L59.3 172.4 L60.4 172.6 L61.6 172.8 L62.8 173.0 L64.0 173.2 L65.3 173.3 L66.6 173.5 L67.9 173.7 L69.3 173.8 L70.6 174.0 L72.0 174.2 L73.5 174.3 L75.0 174.5 L76.5 174.6 L78.0 174.7 L79.5 174.9 L81.0 175.0 L82.5 175.1 L84.0 175.2 L85.5 175.3 L87.0 175.4 L88.5 175.4 L90.0 175.5 L91.6 175.6 L93.2 175.6 L94.8 175.7 L96.5 175.7 L98.2 175.7 L100.0 175.7 L102.3 175.6 L104.8 175.4 L107.3 175.2 L109.9 174.9 L112.5 174.6 L115.0 174.4 L117.5 174.1 L120.0 173.8 L122.5 173.6 L125.0 173.3 L127.5 173.0 L130.0 172.7 L132.5 172.3 L135.1 172.0 L137.7 171.7 L140.2 171.4 L142.7 171.1 L145.0 170.7 L146.8 170.5 L148.5 170.4 L150.2 170.3 L151.8 170.1 L153.4 169.8 L155.0 169.4 L156.7 168.7 L158.3 167.9 L160.0 166.9 L161.6 166.0 L163.2 165.2 L164.7 164.6 L165.9 164.4 L167.0 164.3 L168.1 164.4 L169.3 164.4 L170.4 164.3 L171.6 164.1 L173.3 163.5 L175.0 162.6 L176.8 161.6 L178.6 160.6 L180.3 159.5 L182.0 158.5 L183.4 157.7 L184.7 157.0 L186.0 156.2 L187.2 155.5 L188.6 154.6 L190.0 153.7 L192.2 152.3 L194.5 150.7 L197.0 149.0 L199.4 147.2 L201.8 145.2 L204.0 143.0 L206.2 140.3 L208.3 137.2 L210.2 133.9 L212.1 130.6 L214.0 127.2 L216.0 124.0 L218.1 120.9 L220.3 117.8 L222.4 114.8 L224.6 111.7 L226.8 108.4 L229.0 105.0 L231.7 100.5 L234.4 95.6 L237.1 90.5 L239.8 85.4 L242.5 80.7 L245.0 76.5 L246.7 73.8 L248.4 71.4 L250.1 69.1 L251.7 66.9 L253.3 64.8 L255.0 62.5 L256.7 60.2 L258.4 57.8 L260.1 55.5 L261.8 53.2 L263.4 50.8 L265.0 48.5 L266.4 46.1 L267.7 43.6 L269.0 41.1 L270.3 38.8 L271.6 36.7 L273.0 35.1 L274.0 34.2 L275.0 33.5 L276.0 32.9 L277.1 32.4 L278.1 32.1 L279.0 32.1 L279.8 32.3 L280.6 32.6 L281.4 33.1 L282.1 33.7 L282.8 34.5 L283.5 35.3 L284.5 36.9 L285.3 39.0 L286.0 41.3 L286.7 43.7 L287.4 46.2 L288.0 48.5 L288.6 50.7 L289.1 52.9 L289.5 55.0 L290.0 57.2 L290.5 59.5 L291.2 61.8 L292.1 64.6 L293.2 67.4 L294.3 70.3 L295.5 73.4 L296.6 76.6 L297.7 80.0 L299.0 85.2 L300.2 90.8 L301.3 96.8 L302.4 103.0 L303.5 109.1 L304.6 115.0 L305.7 121.0 L307.0 127.5 L308.2 134.1 L309.3 140.0 L310.2 144.8 L310.7 148.0 L310.7 148.5 L310.8 148.9 L310.8 149.2 L310.8 149.4 L310.8 149.7 L310.8 150.0 L310.9 150.3 L310.9 150.6 L310.9 150.8 L311.0 151.1 L311.0 151.3 L311.0 151.6 L311.1 151.8 L311.1 152.0 L311.1 152.2 L311.1 152.4 L311.2 152.6 L311.2 152.8 L311.2 152.9 L311.2 153.1 L311.3 153.2 L311.3 153.4 L311.3 153.5 L311.3 153.6 L311.4 153.7 L311.4 153.8 L311.4 153.8 L311.4 153.9 L311.5 154.0 L311.5 154.0 L311.6 154.0 L311.7 154.0 L311.9 154.0 L312.1 153.9 L312.2 153.9 L312.4 153.8 L312.5 153.7 L312.7 153.6 L312.8 153.5 L312.9 153.4 L313.1 153.3 L313.2 153.2 L313.3 153.1 L313.5 153.0 L313.6 152.8 L313.7 152.7 L313.8 152.5 L314.0 152.4 L314.1 152.2 L314.2 152.0 L314.3 151.9 L314.4 151.7 L314.5 151.5 L314.6 151.3 L314.7 151.2 L314.8 151.0 L314.9 150.8 L315.0 150.7 L315.1 150.5 L315.2 150.3 L315.2 150.2 L315.3 150.1 L315.3 150.0 L315.4 149.9 L315.4 149.8 L315.5 149.7 L315.7 149.7 L315.9 149.6 L316.1 149.7 L316.3 149.7 L316.5 149.8 L316.7 150.0 L317.0 150.9 L317.3 152.5 L317.4 154.4 L317.5 156.1 L317.6 157.5 L317.7 158.0 L317.9 157.6 L318.0 156.6 L318.2 155.1 L318.3 153.3 L318.5 151.6 L318.6 150.0 L318.8 148.2 L318.9 146.0 L319.1 143.8 L319.3 141.9 L319.4 140.5 L319.6 140.0 L319.8 140.6 L319.9 142.0 L320.1 144.1 L320.2 146.5 L320.4 148.9 L320.5 151.0 L320.6 153.2 L320.8 155.8 L320.9 158.5 L321.0 160.8 L321.1 162.4 L321.2 163.0 L321.3 162.8 L321.3 162.4 L321.4 161.9 L321.4 161.2 L321.5 160.6 L321.5 160.0"/>
<path class="c" d="M41.6 169.5 L42.3 169.8 L43.1 170.1 L43.8 170.4 L44.5 170.7 L45.2 171.0 L46.0 171.3 L46.8 171.6 L47.6 171.9 L48.4 172.2 L49.3 172.5 L50.1 172.8 L51.0 173.1 L52.0 173.4 L52.9 173.7 L53.9 174.1 L54.9 174.4 L56.0 174.7 L57.0 175.0 L58.1 175.4 L59.3 175.7 L60.4 176.0 L61.6 176.4 L62.8 176.7 L64.0 177.0 L65.3 177.3 L66.6 177.6 L67.9 178.0 L69.3 178.3 L70.6 178.5 L72.0 178.8 L73.5 179.1 L75.0 179.4 L76.5 179.6 L78.0 179.9 L79.5 180.1 L81.0 180.3 L82.5 180.5 L84.0 180.7 L85.5 180.9 L87.0 181.0 L88.5 181.1 L90.0 181.2 L91.6 181.4 L93.2 181.5 L94.8 181.5 L96.5 181.6 L98.2 181.6 L100.0 181.6 L102.3 181.5 L104.8 181.3 L107.3 181.1 L109.9 180.8 L112.5 180.5 L115.0 180.3 L117.5 180.0 L120.0 179.7 L122.5 179.5 L125.0 179.2 L127.5 178.9 L130.0 178.6 L132.5 178.2 L135.1 177.9 L137.7 177.6 L140.2 177.3 L142.7 177.0 L145.0 176.6 L146.8 176.4 L148.5 176.3 L150.2 176.1 L151.8 176.0 L153.4 175.7 L155.0 175.3 L156.7 174.7 L158.3 173.9 L160.0 173.1 L161.6 172.2 L163.2 171.5 L164.7 170.9 L165.9 170.7 L167.0 170.6 L168.1 170.5 L169.3 170.5 L170.4 170.4 L171.6 170.1 L173.3 169.5 L175.0 168.6 L176.8 167.6 L178.6 166.5 L180.3 165.5 L182.0 164.5 L183.4 163.7 L184.7 162.9 L186.0 162.1 L187.3 161.3 L188.6 160.5 L190.0 159.7 L191.6 158.9 L193.3 158.3 L195.0 157.6 L196.7 156.9 L198.4 156.0 L200.0 155.0 L201.8 153.6 L203.5 151.9 L205.2 150.1 L206.8 148.2 L208.4 146.1 L210.0 144.0 L211.9 141.2 L213.7 138.1 L215.5 134.8 L217.3 131.4 L219.1 128.1 L221.0 125.0 L222.9 122.2 L224.8 119.4 L226.8 116.8 L228.8 114.1 L230.9 111.2 L233.0 108.0 L236.0 103.1 L239.1 97.6 L242.3 91.8 L245.5 86.1 L248.6 80.7 L251.4 76.0 L253.2 73.3 L254.9 70.9 L256.5 68.6 L258.1 66.5 L259.8 64.3 L261.4 62.0 L263.1 59.7 L264.8 57.4 L266.5 55.0 L268.2 52.7 L269.8 50.4 L271.4 48.0 L272.8 45.7 L274.1 43.2 L275.4 40.7 L276.7 38.3 L278.0 36.3 L279.4 34.6 L280.4 33.8 L281.4 33.0 L282.4 32.4 L283.5 32.0 L284.5 31.7 L285.4 31.6 L286.2 31.8 L287.0 32.1 L287.8 32.6 L288.5 33.2 L289.2 34.0 L289.9 34.8 L291.0 36.9 L291.9 39.6 L292.7 42.8 L293.4 46.1 L294.0 49.2 L294.4 52.0 L294.6 53.7 L294.6 55.3 L294.6 56.8 L294.6 58.3 L294.7 59.9 L294.9 61.6 L295.4 64.3 L296.2 67.1 L297.1 70.1 L298.1 73.2 L299.1 76.5 L300.0 80.0 L301.2 85.2 L302.3 90.9 L303.5 96.9 L304.6 103.0 L305.7 109.1 L306.8 115.0 L307.7 120.9 L308.7 127.4 L309.7 133.9 L310.6 139.7 L311.2 144.4 L311.6 147.2 L311.7 147.6 L311.7 147.8 L311.7 148.0 L311.7 148.2 L311.8 148.3 L311.8 148.5 L311.8 148.7 L311.8 148.8 L311.8 149.0 L311.9 149.2 L311.9 149.3 L311.9 149.5 L311.9 149.6 L312.0 149.8 L312.0 149.9 L312.0 150.0 L312.0 150.1 L312.1 150.2 L312.1 150.3 L312.1 150.4 L312.1 150.5 L312.1 150.6 L312.2 150.7 L312.2 150.8 L312.2 150.8 L312.2 150.8 L312.2 150.9 L312.2 150.9 L312.3 151.0 L312.3 151.0 L312.4 151.0 L312.5 151.0 L312.6 151.0 L312.8 151.0 L312.9 151.0 L313.0 150.9 L313.1 150.9 L313.2 150.9 L313.3 150.9 L313.4 150.8 L313.6 150.8 L313.7 150.8 L313.8 150.7 L313.9 150.7 L314.0 150.6 L314.1 150.6 L314.2 150.6 L314.3 150.5 L314.4 150.5 L314.5 150.4 L314.6 150.4 L314.6 150.3 L314.7 150.2 L314.8 150.2 L314.9 150.1 L315.0 150.1 L315.0 150.0 L315.1 150.0 L315.2 149.9 L315.3 149.9 L315.3 149.9 L315.3 149.8 L315.4 149.8 L315.4 149.8 L315.5 149.8 L315.5 149.7 L315.7 148.8 L315.9 147.2 L316.1 145.2 L316.3 143.0 L316.5 140.8 L316.7 139.0 L316.8 137.7 L317.0 136.4 L317.1 135.0 L317.3 133.9 L317.4 133.1 L317.6 132.8 L317.7 132.9 L317.9 133.3 L318.0 133.8 L318.1 134.5 L318.3 135.2 L318.4 136.0 L318.7 138.5 L318.8 141.9 L319.0 145.8 L319.1 150.0 L319.2 154.2 L319.4 158.0 L319.6 161.6 L319.7 165.3 L319.9 169.1 L320.0 172.6 L320.2 175.6 L320.4 178.0 L320.5 178.8 L320.6 179.6 L320.7 180.4 L320.7 181.0 L320.8 181.4 L320.9 181.5 L321.0 181.1 L321.1 180.1 L321.2 178.7 L321.2 177.1 L321.3 175.4 L321.4 174.0"/></g>
<g clip-path="url(#clipR)"><path fill="#0000ff" fill-opacity="0.45" stroke="none" d="M397.8 125.0 L399.0 121.8 L400.2 118.5 L401.4 115.3 L402.6 112.0 L403.9 108.5 L405.1 104.9 L406.4 101.4 L407.6 98.0 L408.7 95.1 L409.7 92.3 L410.7 89.6 L411.8 87.0 L412.8 84.7 L413.7 82.6 L414.7 80.4 L415.8 78.0 L417.2 74.7 L418.7 71.1 L420.2 67.5 L421.7 64.0 L423.1 60.9 L424.6 57.7 L426.1 54.8 L427.7 52.0 L429.1 49.8 L430.5 47.8 L432.0 45.9 L433.6 44.0 L435.4 42.1 L437.4 40.2 L439.4 38.4 L441.5 37.0 L443.5 36.0 L445.5 35.1 L447.5 34.5 L449.5 34.0 L451.2 33.7 L452.8 33.6 L454.4 33.5 L456.0 33.5 L457.5 33.5 L459.0 33.6 L460.5 33.8 L462.0 34.0 L463.9 34.3 L465.9 34.7 L468.0 35.3 L470.0 36.0 L472.3 37.2 L474.5 38.7 L476.8 40.3 L479.0 42.0 L481.2 43.9 L483.4 45.9 L485.6 48.0 L488.0 50.0 L490.9 52.0 L493.9 53.9 L497.0 55.8 L500.0 58.0 L503.0 60.7 L505.9 63.7 L508.7 66.8 L511.5 70.0 L514.4 73.6 L517.3 77.3 L520.3 81.1 L523.4 85.0 L527.3 89.4 L531.5 94.0 L535.8 98.6 L540.0 103.0 L543.8 107.4 L547.5 111.8 L551.2 115.9 L555.0 119.0 L557.8 120.5 L560.7 121.6 L563.6 122.4 L566.5 123.0 L569.4 123.5 L572.2 123.7 L575.1 123.9 L578.0 124.0 L580.9 124.1 L583.8 124.2 L586.7 124.2 L589.6 124.0 L592.5 123.4 L595.5 122.6 L598.4 121.8 L601.2 121.0 L603.6 120.4 L606.0 119.7 L608.3 119.2 L610.4 119.0 L612.0 119.1 L613.5 119.3 L614.9 119.7 L616.2 120.0 L617.1 120.2 L618.0 120.4 L618.8 120.6 L619.7 121.0 L621.0 121.8 L622.4 122.8 L623.8 123.9 L625.0 125.0 L626.0 126.0 L626.8 127.0 L627.7 128.0 L628.5 129.0 L629.3 130.0 L630.2 131.0 L631.0 132.1 L631.9 133.0 L632.8 133.8 L633.6 134.6 L634.5 135.3 L635.4 136.0 L636.3 136.7 L637.2 137.4 L638.1 138.0 L638.9 138.5 L639.5 138.7 L640.1 138.9 L640.7 139.0 L641.2 139.0 L641.7 138.9 L642.1 138.7 L642.5 138.4 L642.9 138.0 L643.4 137.2 L643.8 136.3 L644.2 135.2 L644.6 134.0 L645.1 132.2 L645.6 130.3 L646.0 128.2 L646.4 126.0 L646.9 123.4 L647.3 120.6 L647.7 117.8 L648.1 115.0 L648.5 112.3 L649.0 109.6 L649.5 106.8 L650.0 104.0 L650.7 100.5 L651.4 96.7 L652.1 93.1 L653.0 90.0 L653.6 88.0 L654.3 86.1 L654.9 84.7 L655.7 84.0 L656.4 84.2 L657.1 85.0 L657.8 86.0 L658.5 87.0 L659.2 88.3 L659.9 89.8 L660.5 91.3 L661.0 93.0 L661.6 95.1 L662.1 97.3 L662.5 99.7 L663.0 102.0 L663.5 104.5 L664.0 106.9 L664.4 109.5 L665.0 112.0 L665.7 114.7 L666.4 117.5 L667.2 120.2 L668.0 123.0 L668.7 125.8 L669.5 128.5 L670.2 131.3 L671.0 134.0 L671.7 136.6 L672.5 139.1 L673.3 141.6 L674.0 144.0 L674.6 145.9 L675.2 147.8 L675.8 149.5 L676.4 151.0 L676.9 151.9 L677.4 152.6 L678.0 153.3 L678.5 154.0 L678.5 158.0 L678.0 157.3 L677.4 156.6 L676.9 155.8 L676.4 155.0 L675.8 153.7 L675.2 152.2 L674.6 150.6 L674.0 149.0 L673.3 146.9 L672.5 144.6 L671.8 142.3 L671.0 140.0 L670.2 137.8 L669.5 135.5 L668.7 133.3 L668.0 131.0 L667.2 128.5 L666.4 125.9 L665.7 123.4 L665.0 121.0 L664.5 119.1 L664.0 117.4 L663.5 115.7 L663.0 114.0 L662.5 112.5 L662.0 111.0 L661.5 109.5 L661.0 108.0 L660.4 106.4 L659.9 104.8 L659.2 103.3 L658.5 102.0 L657.8 101.0 L657.1 100.0 L656.4 99.3 L655.7 99.0 L655.0 99.3 L654.3 100.0 L653.6 100.9 L653.0 102.0 L652.1 104.0 L651.3 106.5 L650.6 109.2 L650.0 112.0 L649.4 115.4 L648.9 118.9 L648.5 122.6 L648.1 126.0 L647.7 128.9 L647.3 131.7 L646.8 134.4 L646.4 137.0 L646.0 139.3 L645.5 141.6 L645.1 143.9 L644.6 146.0 L644.2 147.9 L643.8 149.7 L643.4 151.4 L642.9 153.0 L642.5 154.1 L642.1 155.2 L641.7 156.2 L641.2 157.0 L640.7 157.6 L640.2 158.2 L639.6 158.7 L638.9 159.0 L638.1 159.2 L637.2 159.2 L636.3 159.1 L635.4 159.0 L634.5 158.8 L633.6 158.6 L632.8 158.3 L631.9 158.0 L631.0 157.6 L630.2 157.1 L629.3 156.6 L628.5 156.0 L627.6 155.3 L626.8 154.5 L625.9 153.7 L625.0 153.0 L623.7 152.2 L622.4 151.4 L621.0 150.7 L619.7 150.0 L618.8 149.5 L618.0 149.0 L617.1 148.5 L616.2 148.0 L614.9 147.5 L613.5 146.9 L612.0 146.5 L610.4 146.0 L608.3 145.4 L606.0 144.8 L603.6 144.4 L601.2 144.0 L598.4 143.8 L595.5 143.9 L592.5 143.9 L589.6 144.0 L586.7 144.0 L583.8 144.1 L580.9 144.1 L578.0 144.0 L575.1 143.7 L572.2 143.2 L569.4 142.7 L566.5 142.0 L563.6 141.2 L560.8 140.3 L557.9 139.2 L555.0 138.0 L551.4 136.2 L547.7 134.2 L543.9 132.1 L540.0 130.0 L535.8 128.0 L531.5 126.2 L527.3 124.2 L523.4 122.0 L520.2 119.7 L517.2 117.3 L514.3 114.7 L511.5 112.0 L508.6 109.1 L505.7 106.1 L502.9 103.0 L500.0 100.0 L497.0 97.0 L493.9 93.9 L490.9 90.9 L488.0 88.0 L485.7 85.6 L483.4 83.4 L481.2 81.2 L479.0 79.0 L476.8 76.9 L474.5 74.7 L472.3 72.7 L470.0 71.0 L468.0 69.7 L466.0 68.6 L464.0 67.6 L462.0 67.0 L460.5 66.7 L459.0 66.7 L457.5 66.7 L456.0 67.0 L454.4 67.4 L452.7 68.1 L451.1 68.9 L449.5 70.0 L447.5 71.8 L445.4 74.1 L443.5 76.5 L441.5 79.0 L439.5 81.7 L437.4 84.5 L435.5 87.3 L433.6 90.0 L432.0 92.3 L430.6 94.5 L429.1 96.7 L427.7 99.0 L426.2 101.7 L424.7 104.4 L423.2 107.2 L421.7 110.0 L420.2 112.8 L418.7 115.6 L417.2 118.4 L415.8 121.0 L414.7 123.1 L413.7 125.0 L412.8 127.0 L411.8 129.0 L410.8 131.2 L409.8 133.5 L408.7 135.8 L407.6 138.0 L406.4 140.0 L405.1 142.0 L403.8 144.0 L402.6 146.0 L401.4 148.2 L400.2 150.5 L399.0 152.7 L397.8 155.0Z"/>
<path class="c" d="M397.8 116.2 L399.0 113.5 L400.2 110.8 L401.4 108.1 L402.6 105.3 L403.9 102.2 L405.1 99.0 L406.4 95.8 L407.6 92.8 L408.7 90.3 L409.7 87.9 L410.8 85.6 L411.8 83.3 L412.8 81.2 L413.8 79.1 L414.8 77.0 L415.8 74.8 L417.2 71.5 L418.7 67.9 L420.2 64.3 L421.7 60.8 L423.1 57.7 L424.6 54.6 L426.1 51.7 L427.7 49.0 L429.1 47.1 L430.5 45.3 L432.0 43.6 L433.6 42.0 L435.4 40.3 L437.4 38.7 L439.4 37.2 L441.5 36.0 L443.5 35.1 L445.5 34.3 L447.5 33.7 L449.5 33.3 L451.2 33.0 L452.8 32.8 L454.4 32.7 L456.0 32.7 L457.5 32.7 L459.0 32.7 L460.4 32.8 L462.0 32.9 L463.9 33.0 L465.9 33.2 L468.0 33.5 L470.0 34.0 L472.2 34.7 L474.5 35.5 L476.8 36.6 L479.0 37.7 L481.3 39.2 L483.5 40.8 L485.7 42.5 L488.0 44.2 L490.9 46.3 L493.9 48.5 L497.0 50.8 L500.0 53.1 L502.9 55.5 L505.8 57.9 L508.7 60.4 L511.5 63.1 L514.5 66.3 L517.3 69.6 L520.3 73.1 L523.4 76.6 L527.4 80.8 L531.6 85.1 L535.9 89.4 L540.0 93.7 L543.8 98.1 L547.6 102.7 L551.3 107.0 L555.0 110.6 L557.9 112.9 L560.7 114.8 L563.6 116.5 L566.5 117.9 L569.3 119.1 L572.2 120.1 L575.1 120.9 L578.0 121.4 L580.9 121.6 L583.8 121.5 L586.7 121.2 L589.6 120.5 L592.6 119.3 L595.5 117.6 L598.4 115.8 L601.2 114.0 L603.6 112.5 L606.0 111.0 L608.2 109.6 L610.4 108.5 L612.0 108.0 L613.5 107.6 L614.9 107.4 L616.2 107.5 L617.1 107.7 L618.0 108.2 L618.8 108.8 L619.7 109.4 L621.0 110.4 L622.4 111.5 L623.8 112.8 L625.0 114.0 L626.0 115.1 L626.8 116.3 L627.7 117.4 L628.5 118.6 L629.4 119.9 L630.2 121.3 L631.1 122.8 L631.9 124.2 L632.8 125.6 L633.6 127.1 L634.5 128.5 L635.4 129.8 L636.3 130.9 L637.2 132.0 L638.0 132.9 L638.9 133.8 L639.5 134.3 L640.1 134.8 L640.6 135.1 L641.2 135.4 L641.6 135.5 L642.1 135.5 L642.5 135.5 L642.9 135.3 L643.4 134.8 L643.8 133.9 L644.2 132.9 L644.6 131.8 L645.1 130.0 L645.6 128.0 L646.0 125.9 L646.4 123.7 L646.9 121.0 L647.3 118.1 L647.7 115.1 L648.1 112.2 L648.5 109.3 L649.0 106.4 L649.5 103.4 L650.0 100.3 L650.7 96.3 L651.4 92.1 L652.2 88.0 L653.0 84.4 L653.6 81.9 L654.3 79.4 L654.9 77.4 L655.7 76.6 L656.4 76.9 L657.1 77.9 L657.8 79.2 L658.5 80.5 L659.2 82.2 L659.9 84.1 L660.5 86.2 L661.0 88.4 L661.6 90.9 L662.1 93.7 L662.5 96.5 L663.0 99.2 L663.5 101.9 L663.9 104.7 L664.4 107.4 L665.0 110.1 L665.7 113.1 L666.4 116.1 L667.2 119.1 L668.0 122.1 L668.7 124.9 L669.5 127.6 L670.2 130.4 L671.0 133.1 L671.7 135.7 L672.5 138.2 L673.3 140.7 L674.0 143.1 L674.6 145.0 L675.2 146.9 L675.8 148.6 L676.4 150.1 L676.9 150.9 L677.4 151.7 L678.0 152.4 L678.5 153.1"/>
<path class="c" d="M397.8 117.5 L399.0 114.8 L400.2 112.0 L401.4 109.2 L402.6 106.3 L403.9 103.2 L405.1 99.9 L406.4 96.7 L407.6 93.6 L408.7 91.1 L409.7 88.6 L410.8 86.2 L411.8 83.9 L412.8 81.7 L413.8 79.7 L414.8 77.5 L415.8 75.2 L417.2 72.0 L418.7 68.4 L420.2 64.8 L421.7 61.3 L423.1 58.2 L424.6 55.1 L426.1 52.2 L427.7 49.5 L429.1 47.5 L430.5 45.6 L432.0 43.9 L433.6 42.3 L435.4 40.6 L437.4 38.9 L439.4 37.4 L441.5 36.1 L443.5 35.2 L445.5 34.4 L447.5 33.8 L449.5 33.4 L451.2 33.1 L452.8 32.9 L454.4 32.8 L456.0 32.8 L457.5 32.8 L459.0 32.8 L460.4 32.9 L462.0 33.1 L463.9 33.2 L465.9 33.5 L468.0 33.8 L470.0 34.3 L472.3 35.0 L474.5 36.0 L476.8 37.1 L479.0 38.4 L481.3 39.9 L483.5 41.6 L485.7 43.3 L488.0 45.1 L490.9 47.2 L493.9 49.3 L497.0 51.5 L500.0 53.8 L502.9 56.3 L505.8 58.8 L508.7 61.4 L511.5 64.2 L514.5 67.4 L517.3 70.8 L520.3 74.3 L523.4 77.9 L527.4 82.1 L531.6 86.4 L535.9 90.8 L540.0 95.1 L543.8 99.5 L547.6 104.1 L551.3 108.4 L555.0 111.9 L557.9 114.1 L560.7 115.9 L563.6 117.4 L566.5 118.7 L569.3 119.8 L572.2 120.7 L575.1 121.4 L578.0 121.8 L580.9 122.0 L583.8 121.9 L586.7 121.6 L589.6 121.0 L592.6 119.9 L595.5 118.4 L598.4 116.7 L601.2 115.1 L603.6 113.7 L606.0 112.3 L608.2 111.0 L610.4 110.1 L612.0 109.7 L613.5 109.4 L614.9 109.3 L616.2 109.4 L617.1 109.7 L618.0 110.1 L618.8 110.6 L619.7 111.2 L621.0 112.1 L622.4 113.3 L623.8 114.5 L625.0 115.7 L626.0 116.8 L626.8 117.9 L627.7 119.0 L628.5 120.2 L629.4 121.5 L630.2 122.8 L631.0 124.2 L631.9 125.5 L632.8 126.9 L633.6 128.2 L634.5 129.5 L635.4 130.7 L636.3 131.8 L637.2 132.8 L638.0 133.7 L638.9 134.5 L639.5 135.0 L640.1 135.4 L640.6 135.7 L641.2 135.9 L641.6 136.0 L642.1 136.0 L642.5 135.9 L642.9 135.7 L643.4 135.1 L643.8 134.3 L644.2 133.2 L644.6 132.1 L645.1 130.4 L645.6 128.4 L646.0 126.2 L646.4 124.0 L646.9 121.3 L647.3 118.5 L647.7 115.6 L648.1 112.6 L648.5 109.7 L649.0 106.9 L649.5 103.9 L650.0 100.9 L650.7 97.0 L651.4 92.8 L652.2 88.8 L653.0 85.3 L653.6 82.9 L654.3 80.4 L654.9 78.5 L655.7 77.7 L656.4 78.0 L657.1 79.0 L657.8 80.2 L658.5 81.5 L659.2 83.1 L659.9 85.0 L660.5 87.0 L661.0 89.1 L661.6 91.6 L662.1 94.2 L662.5 96.9 L663.0 99.6 L663.5 102.3 L663.9 105.0 L664.4 107.7 L665.0 110.4 L665.7 113.4 L666.4 116.3 L667.2 119.3 L668.0 122.2 L668.7 125.0 L669.5 127.8 L670.2 130.5 L671.0 133.2 L671.7 135.8 L672.5 138.4 L673.3 140.9 L674.0 143.2 L674.6 145.1 L675.2 147.0 L675.8 148.7 L676.4 150.2 L676.9 151.1 L677.4 151.8 L678.0 152.5 L678.5 153.2"/>
<path class="c" d="M397.8 118.9 L399.0 116.0 L400.2 113.2 L401.4 110.3 L402.6 107.4 L403.9 104.1 L405.1 100.8 L406.4 97.5 L407.6 94.4 L408.7 91.8 L409.7 89.3 L410.8 86.8 L411.8 84.4 L412.8 82.3 L413.8 80.2 L414.8 78.1 L415.8 75.8 L417.2 72.5 L418.7 68.9 L420.2 65.3 L421.7 61.8 L423.1 58.7 L424.6 55.6 L426.1 52.6 L427.7 49.9 L429.1 47.9 L430.5 46.0 L432.0 44.3 L433.6 42.6 L435.4 40.8 L437.4 39.1 L439.4 37.6 L441.5 36.3 L443.5 35.3 L445.5 34.6 L447.5 34.0 L449.5 33.5 L451.2 33.2 L452.8 33.0 L454.4 33.0 L456.0 32.9 L457.5 32.9 L459.0 33.0 L460.4 33.1 L462.0 33.2 L463.9 33.4 L465.9 33.7 L468.0 34.0 L470.0 34.6 L472.3 35.4 L474.5 36.5 L476.8 37.7 L479.0 39.0 L481.3 40.6 L483.4 42.4 L485.7 44.2 L488.0 46.0 L490.9 48.1 L493.9 50.2 L497.0 52.3 L500.0 54.6 L502.9 57.1 L505.8 59.7 L508.7 62.4 L511.5 65.2 L514.5 68.5 L517.3 72.0 L520.3 75.6 L523.4 79.2 L527.4 83.5 L531.6 87.8 L535.9 92.2 L540.0 96.6 L543.8 101.0 L547.6 105.5 L551.3 109.7 L555.0 113.2 L557.9 115.3 L560.7 116.9 L563.6 118.3 L566.5 119.5 L569.3 120.4 L572.2 121.2 L575.1 121.8 L578.0 122.2 L580.9 122.4 L583.8 122.4 L586.7 122.1 L589.6 121.6 L592.6 120.5 L595.5 119.1 L598.4 117.6 L601.2 116.2 L603.6 114.9 L606.0 113.7 L608.2 112.5 L610.4 111.7 L612.0 111.4 L613.5 111.2 L614.9 111.2 L616.2 111.3 L617.1 111.6 L618.0 111.9 L618.8 112.4 L619.7 113.0 L621.0 113.9 L622.4 115.0 L623.8 116.2 L625.0 117.4 L626.0 118.5 L626.8 119.6 L627.7 120.7 L628.5 121.8 L629.4 123.0 L630.2 124.3 L631.0 125.6 L631.9 126.9 L632.8 128.1 L633.6 129.4 L634.5 130.6 L635.4 131.7 L636.3 132.7 L637.2 133.6 L638.0 134.5 L638.9 135.2 L639.5 135.7 L640.1 136.0 L640.6 136.3 L641.2 136.5 L641.6 136.5 L642.1 136.5 L642.5 136.4 L642.9 136.1 L643.4 135.5 L643.8 134.6 L644.2 133.6 L644.6 132.5 L645.1 130.7 L645.6 128.7 L646.0 126.6 L646.4 124.4 L646.9 121.7 L647.3 118.9 L647.7 116.0 L648.1 113.1 L648.5 110.2 L649.0 107.4 L649.5 104.5 L650.0 101.4 L650.7 97.6 L651.4 93.5 L652.2 89.6 L653.0 86.1 L653.6 83.8 L654.3 81.5 L654.9 79.7 L655.7 78.9 L656.4 79.2 L657.1 80.1 L657.8 81.3 L658.5 82.5 L659.2 84.1 L659.9 85.9 L660.5 87.8 L661.0 89.8 L661.6 92.2 L662.1 94.8 L662.5 97.4 L663.0 100.1 L663.5 102.7 L664.0 105.4 L664.4 108.0 L665.0 110.7 L665.7 113.6 L666.4 116.5 L667.2 119.5 L668.0 122.4 L668.7 125.1 L669.5 127.9 L670.2 130.7 L671.0 133.4 L671.7 135.9 L672.5 138.5 L673.3 141.0 L674.0 143.4 L674.6 145.3 L675.2 147.1 L675.8 148.9 L676.4 150.4 L676.9 151.2 L677.4 152.0 L678.0 152.6 L678.5 153.4"/>
<path class="c" d="M397.8 120.2 L399.0 117.3 L400.2 114.4 L401.4 111.4 L402.6 108.4 L403.9 105.1 L405.1 101.7 L406.4 98.4 L407.6 95.2 L408.7 92.5 L409.7 90.0 L410.7 87.5 L411.8 85.0 L412.8 82.8 L413.8 80.7 L414.8 78.6 L415.8 76.2 L417.2 73.0 L418.7 69.4 L420.2 65.8 L421.7 62.3 L423.1 59.2 L424.6 56.1 L426.1 53.1 L427.7 50.4 L429.1 48.3 L430.5 46.4 L432.0 44.6 L433.6 42.9 L435.4 41.1 L437.4 39.4 L439.4 37.8 L441.5 36.5 L443.5 35.5 L445.5 34.7 L447.5 34.1 L449.5 33.6 L451.2 33.3 L452.8 33.2 L454.4 33.1 L456.0 33.0 L457.5 33.1 L459.0 33.1 L460.4 33.2 L462.0 33.4 L463.9 33.6 L465.9 33.9 L468.0 34.3 L470.0 34.9 L472.3 35.8 L474.5 37.0 L476.8 38.3 L479.0 39.7 L481.3 41.3 L483.4 43.1 L485.7 45.0 L488.0 46.9 L490.9 48.9 L493.9 51.0 L497.0 53.1 L500.0 55.4 L503.0 57.9 L505.8 60.6 L508.7 63.4 L511.5 66.3 L514.5 69.7 L517.3 73.2 L520.3 76.8 L523.4 80.5 L527.3 84.8 L531.6 89.2 L535.8 93.6 L540.0 98.0 L543.8 102.4 L547.5 106.9 L551.3 111.1 L555.0 114.5 L557.9 116.4 L560.7 118.0 L563.6 119.2 L566.5 120.2 L569.3 121.1 L572.2 121.8 L575.1 122.3 L578.0 122.6 L580.9 122.8 L583.8 122.8 L586.7 122.6 L589.6 122.1 L592.6 121.2 L595.5 119.9 L598.4 118.5 L601.2 117.2 L603.6 116.1 L606.0 115.0 L608.3 114.0 L610.4 113.3 L612.0 113.1 L613.5 113.0 L614.9 113.1 L616.2 113.2 L617.1 113.5 L618.0 113.8 L618.8 114.2 L619.7 114.8 L621.0 115.6 L622.4 116.7 L623.8 117.9 L625.0 119.1 L626.0 120.1 L626.8 121.2 L627.7 122.3 L628.5 123.4 L629.4 124.6 L630.2 125.8 L631.0 127.1 L631.9 128.2 L632.8 129.4 L633.6 130.5 L634.5 131.6 L635.4 132.6 L636.3 133.6 L637.2 134.5 L638.0 135.3 L638.9 135.9 L639.5 136.3 L640.1 136.7 L640.6 136.9 L641.2 137.1 L641.6 137.1 L642.1 137.0 L642.5 136.8 L642.9 136.6 L643.4 135.9 L643.8 135.0 L644.2 133.9 L644.6 132.8 L645.1 131.0 L645.6 129.1 L646.0 126.9 L646.4 124.8 L646.9 122.1 L647.3 119.3 L647.7 116.4 L648.1 113.5 L648.5 110.7 L649.0 107.8 L649.5 105.0 L650.0 102.0 L650.7 98.2 L651.4 94.3 L652.2 90.4 L653.0 87.0 L653.6 84.7 L654.3 82.5 L654.9 80.8 L655.7 80.0 L656.4 80.3 L657.1 81.2 L657.8 82.3 L658.5 83.5 L659.2 85.0 L659.9 86.7 L660.5 88.6 L661.0 90.5 L661.6 92.9 L662.1 95.4 L662.5 97.9 L663.0 100.5 L663.5 103.1 L664.0 105.7 L664.4 108.3 L665.0 111.0 L665.7 113.9 L666.4 116.7 L667.2 119.6 L668.0 122.5 L668.7 125.3 L669.5 128.1 L670.2 130.8 L671.0 133.5 L671.7 136.1 L672.5 138.6 L673.3 141.1 L674.0 143.5 L674.6 145.4 L675.2 147.3 L675.8 149.0 L676.4 150.5 L676.9 151.4 L677.4 152.1 L678.0 152.8 L678.5 153.5"/>
<path class="c" d="M397.8 121.6 L399.0 118.6 L400.2 115.6 L401.4 112.5 L402.6 109.4 L403.9 106.1 L405.1 102.6 L406.4 99.3 L407.6 96.0 L408.7 93.3 L409.7 90.6 L410.7 88.1 L411.8 85.6 L412.8 83.4 L413.8 81.2 L414.8 79.1 L415.8 76.8 L417.2 73.5 L418.7 69.9 L420.2 66.3 L421.7 62.8 L423.1 59.6 L424.6 56.6 L426.1 53.6 L427.7 50.9 L429.1 48.8 L430.5 46.8 L432.0 45.0 L433.6 43.2 L435.4 41.4 L437.4 39.6 L439.4 38.0 L441.5 36.6 L443.5 35.6 L445.5 34.8 L447.5 34.2 L449.5 33.7 L451.2 33.4 L452.8 33.3 L454.4 33.2 L456.0 33.2 L457.5 33.2 L459.0 33.3 L460.4 33.4 L462.0 33.6 L463.9 33.8 L465.9 34.1 L468.0 34.6 L470.0 35.2 L472.3 36.2 L474.5 37.5 L476.8 38.9 L479.0 40.4 L481.3 42.1 L483.4 43.9 L485.6 45.9 L488.0 47.8 L490.9 49.8 L493.9 51.8 L497.0 53.9 L500.0 56.1 L503.0 58.7 L505.8 61.4 L508.7 64.3 L511.5 67.4 L514.5 70.8 L517.3 74.4 L520.3 78.1 L523.4 81.8 L527.3 86.1 L531.6 90.6 L535.8 95.0 L540.0 99.4 L543.8 103.8 L547.5 108.3 L551.3 112.5 L555.0 115.8 L557.9 117.6 L560.7 119.0 L563.6 120.1 L566.5 121.0 L569.3 121.8 L572.2 122.4 L575.1 122.7 L578.0 123.0 L580.9 123.2 L583.8 123.2 L586.7 123.1 L589.6 122.6 L592.6 121.8 L595.5 120.7 L598.4 119.5 L601.2 118.3 L603.6 117.4 L606.0 116.4 L608.3 115.5 L610.4 115.0 L612.0 114.8 L613.5 114.8 L614.9 115.0 L616.2 115.2 L617.1 115.4 L618.0 115.7 L618.8 116.1 L619.7 116.5 L621.0 117.4 L622.4 118.5 L623.8 119.6 L625.0 120.8 L626.0 121.8 L626.8 122.9 L627.7 123.9 L628.5 125.0 L629.4 126.1 L630.2 127.3 L631.0 128.5 L631.9 129.6 L632.8 130.7 L633.6 131.7 L634.5 132.7 L635.4 133.6 L636.3 134.5 L637.2 135.3 L638.0 136.1 L638.9 136.7 L639.5 137.0 L640.1 137.3 L640.7 137.5 L641.2 137.6 L641.7 137.6 L642.1 137.5 L642.5 137.3 L642.9 137.0 L643.4 136.3 L643.8 135.4 L644.2 134.3 L644.6 133.1 L645.1 131.4 L645.6 129.4 L646.0 127.3 L646.4 125.1 L646.9 122.4 L647.3 119.6 L647.7 116.8 L648.1 113.9 L648.5 111.1 L649.0 108.3 L649.5 105.5 L650.0 102.6 L650.7 98.9 L651.4 95.0 L652.2 91.2 L653.0 87.9 L653.6 85.7 L654.3 83.5 L654.9 81.9 L655.7 81.1 L656.4 81.4 L657.1 82.2 L657.8 83.4 L658.5 84.5 L659.2 86.0 L659.9 87.6 L660.5 89.4 L661.0 91.2 L661.6 93.5 L662.1 95.9 L662.5 98.4 L663.0 100.9 L663.5 103.5 L664.0 106.1 L664.4 108.7 L665.0 111.3 L665.7 114.1 L666.4 116.9 L667.2 119.8 L668.0 122.6 L668.7 125.4 L669.5 128.2 L670.2 130.9 L671.0 133.6 L671.7 136.2 L672.5 138.8 L673.3 141.3 L674.0 143.6 L674.6 145.6 L675.2 147.4 L675.8 149.1 L676.4 150.6 L676.9 151.5 L677.4 152.2 L678.0 152.9 L678.5 153.6"/>
<path class="c" d="M397.8 123.0 L399.0 119.9 L400.2 116.7 L401.4 113.6 L402.6 110.5 L403.9 107.0 L405.1 103.6 L406.4 100.1 L407.6 96.8 L408.7 94.0 L409.7 91.3 L410.7 88.7 L411.8 86.1 L412.8 83.9 L413.8 81.8 L414.8 79.6 L415.8 77.2 L417.2 74.0 L418.7 70.4 L420.2 66.8 L421.7 63.3 L423.1 60.1 L424.6 57.0 L426.1 54.1 L427.7 51.3 L429.1 49.2 L430.5 47.2 L432.0 45.3 L433.6 43.5 L435.4 41.7 L437.4 39.8 L439.4 38.2 L441.5 36.8 L443.5 35.8 L445.5 35.0 L447.5 34.3 L449.5 33.8 L451.2 33.5 L452.8 33.4 L454.4 33.3 L456.0 33.3 L457.5 33.3 L459.0 33.4 L460.5 33.5 L462.0 33.7 L463.9 34.0 L465.9 34.4 L468.0 34.8 L470.0 35.5 L472.3 36.6 L474.5 37.9 L476.8 39.4 L479.0 41.0 L481.2 42.8 L483.4 44.7 L485.6 46.7 L488.0 48.7 L490.9 50.7 L493.9 52.6 L497.0 54.6 L500.0 56.9 L503.0 59.5 L505.9 62.3 L508.7 65.3 L511.5 68.4 L514.4 71.9 L517.3 75.5 L520.3 79.3 L523.4 83.1 L527.3 87.5 L531.5 91.9 L535.8 96.4 L540.0 100.9 L543.8 105.2 L547.5 109.7 L551.2 113.8 L555.0 117.1 L557.9 118.8 L560.7 120.0 L563.6 121.0 L566.5 121.8 L569.3 122.5 L572.2 122.9 L575.1 123.2 L578.0 123.4 L580.9 123.6 L583.8 123.6 L586.7 123.5 L589.6 123.2 L592.6 122.5 L595.5 121.5 L598.4 120.4 L601.2 119.4 L603.6 118.6 L606.0 117.7 L608.3 117.0 L610.4 116.6 L612.0 116.5 L613.5 116.6 L614.9 116.8 L616.2 117.1 L617.1 117.3 L618.0 117.6 L618.8 117.9 L619.7 118.3 L621.0 119.1 L622.4 120.2 L623.8 121.3 L625.0 122.5 L626.0 123.5 L626.8 124.5 L627.7 125.5 L628.5 126.6 L629.4 127.7 L630.2 128.8 L631.0 129.9 L631.9 131.0 L632.8 131.9 L633.6 132.8 L634.5 133.7 L635.4 134.6 L636.3 135.4 L637.2 136.2 L638.1 136.9 L638.9 137.4 L639.5 137.7 L640.1 138.0 L640.7 138.1 L641.2 138.2 L641.7 138.1 L642.1 137.9 L642.5 137.7 L642.9 137.4 L643.4 136.7 L643.8 135.7 L644.2 134.6 L644.6 133.5 L645.1 131.7 L645.6 129.7 L646.0 127.6 L646.4 125.5 L646.9 122.8 L647.3 120.0 L647.7 117.2 L648.1 114.4 L648.5 111.6 L649.0 108.8 L649.5 106.0 L650.0 103.1 L650.7 99.5 L651.4 95.7 L652.2 91.9 L653.0 88.7 L653.6 86.6 L654.3 84.6 L654.9 83.0 L655.7 82.3 L656.4 82.5 L657.1 83.3 L657.8 84.4 L658.5 85.5 L659.2 86.9 L659.9 88.5 L660.5 90.2 L661.0 91.9 L661.6 94.1 L662.1 96.5 L662.5 98.9 L663.0 101.4 L663.5 103.9 L664.0 106.4 L664.4 109.0 L665.0 111.6 L665.7 114.3 L666.4 117.2 L667.2 120.0 L668.0 122.8 L668.7 125.6 L669.5 128.3 L670.2 131.1 L671.0 133.8 L671.7 136.4 L672.5 138.9 L673.3 141.4 L674.0 143.8 L674.6 145.7 L675.2 147.6 L675.8 149.3 L676.4 150.8 L676.9 151.6 L677.4 152.4 L678.0 153.1 L678.5 153.8"/>
<path class="c" d="M397.8 124.3 L399.0 121.1 L400.2 117.9 L401.4 114.7 L402.6 111.5 L403.9 108.0 L405.1 104.5 L406.4 101.0 L407.6 97.6 L408.7 94.8 L409.7 92.0 L410.7 89.3 L411.8 86.7 L412.8 84.5 L413.7 82.3 L414.8 80.1 L415.8 77.8 L417.2 74.4 L418.7 70.9 L420.2 67.2 L421.7 63.8 L423.1 60.6 L424.6 57.5 L426.1 54.5 L427.7 51.8 L429.1 49.6 L430.5 47.6 L432.0 45.7 L433.6 43.8 L435.4 41.9 L437.4 40.1 L439.4 38.4 L441.5 36.9 L443.5 35.9 L445.5 35.1 L447.5 34.4 L449.5 33.9 L451.2 33.7 L452.8 33.5 L454.4 33.4 L456.0 33.4 L457.5 33.5 L459.0 33.5 L460.5 33.7 L462.0 33.9 L463.9 34.2 L465.9 34.6 L468.0 35.1 L470.0 35.8 L472.3 37.0 L474.5 38.4 L476.8 40.0 L479.0 41.7 L481.2 43.5 L483.4 45.5 L485.6 47.6 L488.0 49.6 L490.9 51.5 L493.9 53.4 L497.0 55.4 L500.0 57.6 L503.0 60.3 L505.9 63.2 L508.7 66.3 L511.5 69.5 L514.4 73.0 L517.3 76.7 L520.3 80.5 L523.4 84.4 L527.3 88.8 L531.5 93.3 L535.8 97.8 L540.0 102.3 L543.8 106.6 L547.5 111.1 L551.2 115.2 L555.0 118.4 L557.8 120.0 L560.7 121.1 L563.6 121.9 L566.5 122.6 L569.4 123.1 L572.2 123.5 L575.1 123.7 L578.0 123.8 L580.9 123.9 L583.8 124.0 L586.7 124.0 L589.6 123.7 L592.5 123.1 L595.5 122.3 L598.4 121.3 L601.2 120.5 L603.6 119.8 L606.0 119.1 L608.3 118.5 L610.4 118.2 L612.0 118.2 L613.5 118.4 L614.9 118.7 L616.2 119.0 L617.1 119.2 L618.0 119.4 L618.8 119.7 L619.7 120.1 L621.0 120.9 L622.4 121.9 L623.8 123.0 L625.0 124.2 L626.0 125.1 L626.8 126.1 L627.7 127.2 L628.5 128.2 L629.3 129.2 L630.2 130.3 L631.0 131.3 L631.9 132.3 L632.8 133.2 L633.6 134.0 L634.5 134.8 L635.4 135.5 L636.3 136.3 L637.2 137.0 L638.1 137.6 L638.9 138.1 L639.5 138.4 L640.1 138.6 L640.7 138.7 L641.2 138.7 L641.7 138.6 L642.1 138.4 L642.5 138.2 L642.9 137.8 L643.4 137.1 L643.8 136.1 L644.2 135.0 L644.6 133.8 L645.1 132.1 L645.6 130.1 L646.0 128.0 L646.4 125.8 L646.9 123.2 L647.3 120.4 L647.7 117.6 L648.1 114.8 L648.5 112.0 L649.0 109.3 L649.5 106.6 L650.0 103.7 L650.7 100.2 L651.4 96.4 L652.1 92.7 L653.0 89.6 L653.6 87.6 L654.3 85.6 L654.9 84.1 L655.7 83.4 L656.4 83.7 L657.1 84.4 L657.8 85.5 L658.5 86.5 L659.2 87.8 L659.9 89.3 L660.5 90.9 L661.0 92.6 L661.6 94.8 L662.1 97.1 L662.5 99.4 L663.0 101.8 L663.5 104.3 L664.0 106.8 L664.4 109.3 L665.0 111.9 L665.7 114.6 L666.4 117.4 L667.2 120.2 L668.0 122.9 L668.7 125.7 L669.5 128.5 L670.2 131.2 L671.0 133.9 L671.7 136.5 L672.5 139.1 L673.3 141.6 L674.0 143.9 L674.6 145.8 L675.2 147.7 L675.8 149.4 L676.4 150.9 L676.9 151.8 L677.4 152.5 L678.0 153.2 L678.5 153.9"/>
<path class="c" d="M397.8 125.4 L399.0 122.2 L400.2 119.0 L401.4 115.8 L402.6 112.5 L403.9 109.0 L405.1 105.5 L406.4 102.0 L407.6 98.6 L408.7 95.7 L409.7 92.9 L410.7 90.2 L411.8 87.6 L412.8 85.3 L413.7 83.2 L414.7 81.0 L415.8 78.6 L417.2 75.3 L418.7 71.8 L420.2 68.1 L421.7 64.7 L423.1 61.5 L424.6 58.4 L426.1 55.4 L427.7 52.7 L429.1 50.5 L430.5 48.5 L432.0 46.5 L433.6 44.7 L435.4 42.7 L437.4 40.8 L439.4 39.1 L441.5 37.6 L443.5 36.6 L445.5 35.7 L447.5 35.0 L449.5 34.5 L451.2 34.2 L452.8 34.1 L454.4 34.0 L456.0 34.0 L457.5 34.0 L459.0 34.1 L460.5 34.2 L462.0 34.5 L463.9 34.8 L465.9 35.2 L468.0 35.8 L470.0 36.5 L472.3 37.7 L474.5 39.2 L476.8 40.8 L479.0 42.5 L481.2 44.4 L483.4 46.5 L485.6 48.6 L488.0 50.6 L490.9 52.6 L493.9 54.4 L497.0 56.4 L500.0 58.6 L503.0 61.3 L505.9 64.3 L508.7 67.4 L511.5 70.6 L514.4 74.2 L517.3 77.9 L520.3 81.7 L523.4 85.5 L527.3 90.0 L531.5 94.5 L535.8 99.0 L540.0 103.4 L543.8 107.7 L547.5 112.2 L551.2 116.2 L555.0 119.3 L557.8 120.8 L560.7 121.9 L563.6 122.6 L566.5 123.3 L569.4 123.7 L572.2 124.0 L575.1 124.2 L578.0 124.3 L580.9 124.4 L583.8 124.5 L586.7 124.5 L589.6 124.3 L592.5 123.7 L595.5 122.9 L598.4 122.1 L601.2 121.3 L603.6 120.7 L606.0 120.1 L608.3 119.6 L610.4 119.4 L612.0 119.5 L613.5 119.7 L614.9 120.1 L616.2 120.4 L617.1 120.6 L618.0 120.8 L618.8 121.0 L619.7 121.4 L621.0 122.2 L622.4 123.2 L623.8 124.3 L625.0 125.4 L626.0 126.4 L626.8 127.4 L627.7 128.4 L628.5 129.4 L629.3 130.4 L630.2 131.4 L631.0 132.4 L631.9 133.4 L632.8 134.2 L633.6 134.9 L634.5 135.6 L635.4 136.3 L636.3 137.0 L637.2 137.7 L638.1 138.3 L638.9 138.8 L639.5 139.0 L640.1 139.2 L640.7 139.3 L641.2 139.3 L641.7 139.1 L642.1 138.9 L642.5 138.6 L642.9 138.2 L643.4 137.5 L643.8 136.5 L644.2 135.4 L644.6 134.2 L645.1 132.4 L645.6 130.4 L646.0 128.3 L646.4 126.2 L646.9 123.5 L647.3 120.8 L647.7 118.0 L648.1 115.2 L648.5 112.4 L649.0 109.7 L649.5 107.0 L650.0 104.1 L650.7 100.6 L651.4 96.9 L652.1 93.3 L653.0 90.2 L653.6 88.2 L654.3 86.4 L654.9 84.9 L655.7 84.2 L656.4 84.5 L657.1 85.2 L657.8 86.2 L658.5 87.2 L659.2 88.5 L659.9 90.0 L660.5 91.6 L661.0 93.2 L661.6 95.3 L662.1 97.6 L662.5 99.9 L663.0 102.2 L663.5 104.6 L664.0 107.1 L664.4 109.6 L665.0 112.1 L665.7 114.9 L666.4 117.6 L667.2 120.4 L668.0 123.1 L668.7 125.9 L669.5 128.6 L670.2 131.4 L671.0 134.1 L671.7 136.7 L672.5 139.2 L673.3 141.7 L674.0 144.1 L674.6 146.0 L675.2 147.9 L675.8 149.6 L676.4 151.1 L676.9 151.9 L677.4 152.7 L678.0 153.3 L678.5 154.1"/>
<path class="c" d="M397.8 126.3 L399.0 123.1 L400.2 119.9 L401.4 116.7 L402.6 113.5 L403.9 110.0 L405.1 106.5 L406.4 103.1 L407.6 99.7 L408.7 96.9 L409.7 94.1 L410.7 91.4 L411.8 88.8 L412.8 86.6 L413.7 84.4 L414.7 82.2 L415.8 79.9 L417.2 76.6 L418.7 73.1 L420.2 69.5 L421.7 66.0 L423.1 62.9 L424.6 59.8 L426.1 56.8 L427.7 54.0 L429.1 51.9 L430.5 49.8 L432.0 47.9 L433.6 46.0 L435.4 44.0 L437.4 42.1 L439.4 40.3 L441.5 38.8 L443.5 37.7 L445.5 36.8 L447.5 36.1 L449.5 35.5 L451.2 35.2 L452.8 35.0 L454.4 34.9 L456.0 34.9 L457.5 34.9 L459.0 35.0 L460.5 35.2 L462.0 35.4 L463.9 35.7 L465.9 36.2 L468.0 36.7 L470.0 37.5 L472.3 38.7 L474.5 40.2 L476.8 41.9 L479.0 43.6 L481.2 45.5 L483.4 47.6 L485.6 49.6 L488.0 51.7 L490.9 53.7 L493.9 55.6 L497.0 57.6 L500.0 59.9 L503.0 62.6 L505.9 65.6 L508.7 68.7 L511.5 71.9 L514.4 75.4 L517.3 79.1 L520.2 82.9 L523.4 86.7 L527.3 91.0 L531.5 95.5 L535.8 99.9 L540.0 104.3 L543.8 108.5 L547.5 112.9 L551.2 116.8 L555.0 119.9 L557.9 121.4 L560.7 122.5 L563.6 123.2 L566.5 123.9 L569.4 124.4 L572.2 124.6 L575.1 124.8 L578.0 124.9 L580.9 125.0 L583.8 125.1 L586.7 125.1 L589.6 124.9 L592.5 124.3 L595.5 123.6 L598.4 122.7 L601.2 122.0 L603.6 121.4 L606.0 120.8 L608.3 120.3 L610.4 120.1 L612.0 120.2 L613.5 120.5 L614.9 120.8 L616.2 121.2 L617.1 121.4 L618.0 121.6 L618.8 121.8 L619.7 122.2 L621.0 123.0 L622.4 124.0 L623.8 125.1 L625.0 126.2 L626.0 127.1 L626.8 128.1 L627.7 129.1 L628.5 130.1 L629.3 131.1 L630.2 132.1 L631.0 133.1 L631.9 134.0 L632.8 134.8 L633.6 135.6 L634.5 136.3 L635.4 137.0 L636.3 137.6 L637.2 138.3 L638.1 138.9 L638.9 139.4 L639.5 139.6 L640.1 139.7 L640.7 139.8 L641.2 139.8 L641.7 139.6 L642.1 139.4 L642.5 139.0 L642.9 138.6 L643.4 137.8 L643.8 136.8 L644.2 135.7 L644.6 134.5 L645.1 132.7 L645.6 130.7 L646.0 128.6 L646.4 126.5 L646.9 123.8 L647.3 121.1 L647.7 118.3 L648.1 115.5 L648.5 112.7 L649.0 110.0 L649.5 107.2 L650.0 104.3 L650.7 100.8 L651.4 97.1 L652.1 93.6 L653.0 90.5 L653.6 88.6 L654.3 86.7 L654.9 85.3 L655.7 84.6 L656.4 84.9 L657.1 85.6 L657.8 86.6 L658.5 87.6 L659.2 88.9 L659.9 90.4 L660.5 92.0 L661.0 93.6 L661.6 95.7 L662.1 97.9 L662.5 100.2 L663.0 102.5 L663.5 104.9 L664.0 107.4 L664.4 109.9 L665.0 112.4 L665.7 115.1 L666.4 117.8 L667.2 120.6 L668.0 123.3 L668.7 126.1 L669.5 128.8 L670.2 131.6 L671.0 134.3 L671.7 136.8 L672.5 139.4 L673.3 141.9 L674.0 144.2 L674.6 146.1 L675.2 148.0 L675.8 149.7 L676.4 151.2 L676.9 152.0 L677.4 152.8 L678.0 153.5 L678.5 154.2"/>
<path class="c" d="M397.8 127.3 L399.0 124.1 L400.2 121.0 L401.4 117.8 L402.6 114.6 L403.9 111.2 L405.1 107.7 L406.4 104.3 L407.6 101.0 L408.7 98.2 L409.7 95.5 L410.7 92.8 L411.8 90.2 L412.8 87.9 L413.7 85.8 L414.7 83.6 L415.8 81.3 L417.2 78.0 L418.7 74.5 L420.2 70.9 L421.7 67.5 L423.2 64.4 L424.6 61.3 L426.1 58.3 L427.7 55.6 L429.1 53.4 L430.5 51.3 L432.0 49.4 L433.6 47.5 L435.4 45.5 L437.4 43.5 L439.4 41.7 L441.5 40.1 L443.5 39.0 L445.5 38.0 L447.5 37.2 L449.5 36.6 L451.2 36.3 L452.8 36.1 L454.4 36.0 L456.0 35.9 L457.5 35.9 L459.0 36.0 L460.5 36.1 L462.0 36.4 L463.9 36.7 L465.9 37.1 L468.0 37.7 L470.0 38.5 L472.3 39.7 L474.5 41.2 L476.8 42.9 L479.0 44.6 L481.2 46.5 L483.4 48.6 L485.6 50.7 L488.0 52.7 L490.9 54.7 L493.9 56.7 L497.0 58.7 L500.0 61.0 L503.0 63.8 L505.9 66.7 L508.7 69.9 L511.5 73.1 L514.4 76.6 L517.3 80.2 L520.2 84.0 L523.4 87.8 L527.3 92.1 L531.5 96.4 L535.8 100.8 L540.0 105.1 L543.8 109.3 L547.5 113.6 L551.2 117.5 L555.0 120.5 L557.9 122.0 L560.7 123.1 L563.6 123.8 L566.5 124.5 L569.4 124.9 L572.2 125.2 L575.1 125.4 L578.0 125.5 L580.9 125.6 L583.8 125.7 L586.7 125.7 L589.6 125.4 L592.5 124.9 L595.5 124.2 L598.4 123.3 L601.2 122.6 L603.6 122.1 L606.0 121.5 L608.3 121.1 L610.4 120.9 L612.0 121.0 L613.5 121.3 L614.9 121.6 L616.2 122.0 L617.1 122.2 L618.0 122.4 L618.8 122.6 L619.7 123.0 L621.0 123.8 L622.4 124.8 L623.8 125.9 L625.0 127.0 L626.0 127.9 L626.8 128.9 L627.7 129.9 L628.5 130.9 L629.3 131.9 L630.2 132.9 L631.0 133.9 L631.9 134.8 L632.8 135.5 L633.6 136.3 L634.5 137.0 L635.4 137.6 L636.3 138.3 L637.2 139.0 L638.1 139.5 L638.9 140.0 L639.5 140.2 L640.1 140.3 L640.7 140.4 L641.2 140.3 L641.7 140.1 L642.1 139.9 L642.5 139.5 L642.9 139.1 L643.4 138.3 L643.8 137.3 L644.2 136.1 L644.6 134.9 L645.1 133.1 L645.6 131.1 L646.0 129.0 L646.4 126.8 L646.9 124.2 L647.3 121.4 L647.7 118.6 L648.1 115.8 L648.5 113.0 L649.0 110.3 L649.5 107.5 L650.0 104.6 L650.7 101.1 L651.4 97.4 L652.1 93.9 L653.0 90.9 L653.6 89.0 L654.3 87.2 L655.0 85.8 L655.7 85.1 L656.4 85.4 L657.1 86.1 L657.8 87.1 L658.5 88.1 L659.2 89.4 L659.9 90.9 L660.5 92.5 L661.0 94.1 L661.6 96.2 L662.1 98.4 L662.5 100.6 L663.0 102.9 L663.5 105.3 L664.0 107.7 L664.4 110.2 L665.0 112.7 L665.7 115.4 L666.4 118.1 L667.2 120.9 L668.0 123.6 L668.7 126.3 L669.5 129.1 L670.2 131.8 L671.0 134.5 L671.7 137.0 L672.5 139.6 L673.3 142.0 L674.0 144.4 L674.6 146.3 L675.2 148.1 L675.8 149.8 L676.4 151.3 L676.9 152.2 L677.4 152.9 L678.0 153.6 L678.5 154.3"/>
<path class="c" d="M397.8 128.2 L399.0 125.0 L400.2 121.9 L401.4 118.8 L402.6 115.6 L403.9 112.2 L405.1 108.8 L406.4 105.5 L407.6 102.2 L408.7 99.4 L409.7 96.7 L410.7 94.0 L411.8 91.4 L412.8 89.2 L413.7 87.0 L414.7 84.9 L415.8 82.5 L417.2 79.3 L418.7 75.8 L420.2 72.2 L421.7 68.8 L423.2 65.7 L424.6 62.6 L426.1 59.7 L427.7 56.9 L429.1 54.7 L430.5 52.6 L432.0 50.7 L433.6 48.8 L435.4 46.8 L437.4 44.8 L439.4 42.9 L441.5 41.3 L443.5 40.1 L445.5 39.1 L447.5 38.3 L449.5 37.7 L451.2 37.3 L452.8 37.1 L454.4 36.9 L456.0 36.9 L457.5 36.9 L459.0 36.9 L460.5 37.1 L462.0 37.3 L463.9 37.7 L465.9 38.1 L468.0 38.7 L470.0 39.5 L472.3 40.7 L474.5 42.2 L476.8 43.9 L479.0 45.7 L481.2 47.6 L483.4 49.6 L485.6 51.7 L488.0 53.8 L490.9 55.8 L493.9 57.8 L497.0 59.9 L500.0 62.2 L503.0 64.9 L505.9 67.9 L508.7 71.0 L511.5 74.2 L514.4 77.7 L517.3 81.3 L520.2 85.0 L523.4 88.7 L527.3 93.0 L531.5 97.3 L535.8 101.6 L540.0 105.8 L543.8 109.9 L547.5 114.1 L551.2 118.0 L555.0 121.0 L557.9 122.5 L560.7 123.6 L563.6 124.4 L566.5 125.0 L569.4 125.5 L572.2 125.8 L575.1 126.0 L578.0 126.2 L580.9 126.3 L583.8 126.4 L586.7 126.4 L589.6 126.2 L592.5 125.7 L595.5 124.9 L598.4 124.1 L601.2 123.5 L603.6 123.0 L606.0 122.4 L608.3 122.0 L610.4 121.9 L612.0 122.0 L613.5 122.3 L614.9 122.6 L616.2 123.0 L617.1 123.2 L618.0 123.4 L618.8 123.7 L619.7 124.1 L621.0 124.8 L622.4 125.8 L623.8 126.9 L625.0 128.0 L626.0 128.9 L626.8 129.9 L627.7 130.9 L628.5 131.9 L629.3 132.8 L630.2 133.8 L631.0 134.8 L631.9 135.6 L632.8 136.4 L633.6 137.1 L634.5 137.8 L635.4 138.4 L636.3 139.1 L637.2 139.7 L638.1 140.3 L638.9 140.7 L639.5 140.8 L640.1 141.0 L640.7 141.0 L641.2 140.9 L641.7 140.7 L642.1 140.4 L642.5 140.0 L642.9 139.6 L643.4 138.7 L643.8 137.7 L644.2 136.5 L644.6 135.3 L645.1 133.5 L645.6 131.5 L646.0 129.3 L646.4 127.2 L646.8 124.5 L647.3 121.8 L647.7 119.0 L648.1 116.2 L648.5 113.4 L649.0 110.6 L649.5 107.7 L650.0 104.8 L650.7 101.4 L651.4 97.7 L652.1 94.2 L653.0 91.3 L653.6 89.4 L654.3 87.6 L655.0 86.2 L655.7 85.6 L656.4 85.8 L657.1 86.5 L657.8 87.5 L658.5 88.6 L659.2 89.9 L659.9 91.3 L660.5 92.9 L661.0 94.6 L661.6 96.6 L662.1 98.8 L662.5 101.0 L663.0 103.2 L663.5 105.6 L664.0 108.0 L664.4 110.5 L665.0 112.9 L665.7 115.6 L666.4 118.4 L667.2 121.1 L668.0 123.8 L668.7 126.5 L669.5 129.3 L670.2 132.0 L671.0 134.6 L671.7 137.2 L672.5 139.7 L673.3 142.2 L674.0 144.5 L674.6 146.4 L675.2 148.2 L675.8 149.9 L676.4 151.4 L676.9 152.3 L677.4 153.0 L678.0 153.7 L678.5 154.4"/>
<path class="c" d="M397.8 128.8 L399.0 125.7 L400.2 122.6 L401.4 119.5 L402.6 116.3 L403.9 113.0 L405.1 109.7 L406.4 106.3 L407.6 103.1 L408.7 100.4 L409.7 97.6 L410.7 95.0 L411.8 92.4 L412.8 90.2 L413.7 88.1 L414.7 85.9 L415.8 83.6 L417.2 80.4 L418.7 76.9 L420.2 73.4 L421.7 70.0 L423.2 66.9 L424.6 63.8 L426.1 60.9 L427.7 58.2 L429.1 56.0 L430.5 53.9 L432.0 52.0 L433.6 50.1 L435.4 48.0 L437.4 46.0 L439.4 44.2 L441.5 42.6 L443.5 41.4 L445.5 40.3 L447.5 39.5 L449.5 38.8 L451.2 38.4 L452.8 38.2 L454.4 38.1 L456.0 38.0 L457.5 38.0 L459.0 38.1 L460.5 38.2 L462.0 38.5 L463.9 38.8 L465.9 39.3 L468.0 39.9 L470.0 40.7 L472.3 42.0 L474.5 43.5 L476.8 45.3 L479.0 47.0 L481.2 48.9 L483.4 51.0 L485.6 53.1 L488.0 55.1 L490.9 57.2 L493.9 59.3 L497.0 61.3 L500.0 63.7 L503.0 66.4 L505.8 69.4 L508.7 72.5 L511.5 75.6 L514.4 79.1 L517.3 82.6 L520.2 86.3 L523.4 89.9 L527.3 94.1 L531.5 98.3 L535.8 102.5 L540.0 106.6 L543.8 110.6 L547.5 114.8 L551.3 118.6 L555.0 121.5 L557.9 123.0 L560.7 124.1 L563.6 124.9 L566.5 125.5 L569.4 126.0 L572.2 126.3 L575.1 126.5 L578.0 126.6 L580.9 126.8 L583.8 126.9 L586.7 126.9 L589.6 126.7 L592.5 126.2 L595.5 125.5 L598.4 124.7 L601.2 124.1 L603.6 123.6 L606.0 123.1 L608.3 122.7 L610.4 122.6 L612.0 122.7 L613.5 123.0 L614.9 123.4 L616.2 123.7 L617.1 124.0 L618.0 124.2 L618.8 124.5 L619.7 124.9 L621.0 125.6 L622.4 126.6 L623.8 127.7 L625.0 128.7 L626.0 129.7 L626.8 130.7 L627.7 131.6 L628.5 132.6 L629.3 133.6 L630.2 134.5 L631.0 135.5 L631.9 136.3 L632.8 137.1 L633.6 137.8 L634.5 138.4 L635.4 139.1 L636.3 139.7 L637.2 140.3 L638.1 140.9 L638.9 141.2 L639.5 141.4 L640.1 141.5 L640.7 141.5 L641.2 141.4 L641.7 141.2 L642.1 140.9 L642.5 140.5 L642.9 140.0 L643.4 139.1 L643.8 138.1 L644.2 136.9 L644.6 135.6 L645.1 133.8 L645.6 131.8 L646.0 129.6 L646.4 127.5 L646.8 124.8 L647.3 122.1 L647.7 119.3 L648.1 116.5 L648.5 113.6 L649.0 110.8 L649.5 108.0 L650.0 105.1 L650.7 101.6 L651.4 98.0 L652.1 94.5 L653.0 91.6 L653.6 89.7 L654.3 88.0 L655.0 86.6 L655.7 86.0 L656.4 86.2 L657.1 86.9 L657.8 87.9 L658.5 89.0 L659.2 90.3 L659.9 91.7 L660.5 93.3 L661.0 95.0 L661.6 97.0 L662.1 99.1 L662.5 101.3 L663.0 103.6 L663.5 105.9 L664.0 108.3 L664.4 110.7 L665.0 113.2 L665.7 115.9 L666.4 118.6 L667.2 121.3 L668.0 124.0 L668.7 126.7 L669.5 129.4 L670.2 132.1 L671.0 134.8 L671.7 137.3 L672.5 139.9 L673.3 142.3 L674.0 144.6 L674.6 146.5 L675.2 148.4 L675.8 150.0 L676.4 151.5 L676.9 152.4 L677.4 153.1 L678.0 153.8 L678.5 154.5"/>
<path class="c" d="M397.8 129.8 L399.0 126.7 L400.2 123.6 L401.4 120.5 L402.6 117.4 L403.9 114.2 L405.1 110.9 L406.4 107.6 L407.6 104.4 L408.7 101.6 L409.7 98.9 L410.7 96.3 L411.8 93.7 L412.8 91.5 L413.7 89.4 L414.7 87.2 L415.8 84.9 L417.2 81.7 L418.7 78.3 L420.2 74.8 L421.7 71.4 L423.2 68.3 L424.6 65.3 L426.1 62.4 L427.7 59.6 L429.1 57.4 L430.5 55.4 L432.0 53.4 L433.6 51.5 L435.4 49.4 L437.4 47.4 L439.4 45.5 L441.5 43.8 L443.5 42.6 L445.5 41.5 L447.5 40.6 L449.5 39.9 L451.2 39.5 L452.8 39.2 L454.4 39.1 L456.0 39.0 L457.5 39.0 L459.0 39.0 L460.5 39.2 L462.0 39.4 L463.9 39.8 L465.9 40.3 L468.0 40.9 L470.0 41.7 L472.3 43.0 L474.5 44.5 L476.8 46.3 L479.0 48.0 L481.2 50.0 L483.4 52.0 L485.6 54.1 L488.0 56.2 L490.9 58.3 L493.9 60.3 L497.0 62.4 L500.0 64.8 L503.0 67.5 L505.8 70.5 L508.7 73.6 L511.5 76.7 L514.4 80.1 L517.3 83.7 L520.2 87.3 L523.4 90.9 L527.3 95.0 L531.5 99.1 L535.8 103.2 L540.0 107.3 L543.8 111.3 L547.5 115.4 L551.3 119.1 L555.0 122.1 L557.9 123.6 L560.7 124.7 L563.6 125.4 L566.5 126.1 L569.4 126.6 L572.2 127.0 L575.1 127.2 L578.0 127.3 L580.9 127.5 L583.8 127.6 L586.7 127.6 L589.6 127.4 L592.5 126.9 L595.5 126.3 L598.4 125.5 L601.2 124.9 L603.6 124.5 L606.0 124.0 L608.3 123.7 L610.4 123.6 L612.0 123.8 L613.5 124.1 L614.9 124.4 L616.2 124.8 L617.1 125.0 L618.0 125.3 L618.8 125.6 L619.7 126.0 L621.0 126.7 L622.4 127.7 L623.8 128.7 L625.0 129.8 L626.0 130.7 L626.8 131.7 L627.7 132.6 L628.5 133.6 L629.3 134.5 L630.2 135.5 L631.0 136.4 L631.9 137.3 L632.8 138.0 L633.6 138.7 L634.5 139.3 L635.4 139.9 L636.3 140.5 L637.2 141.1 L638.1 141.6 L638.9 142.0 L639.5 142.1 L640.1 142.2 L640.7 142.2 L641.2 142.0 L641.7 141.8 L642.1 141.5 L642.5 141.0 L642.9 140.5 L643.4 139.6 L643.8 138.5 L644.2 137.3 L644.6 136.0 L645.1 134.2 L645.6 132.2 L646.0 130.0 L646.4 127.8 L646.8 125.2 L647.3 122.4 L647.7 119.6 L648.1 116.8 L648.5 114.0 L649.0 111.1 L649.5 108.3 L650.0 105.3 L650.7 101.9 L651.4 98.3 L652.1 94.9 L653.0 92.0 L653.6 90.2 L654.3 88.4 L655.0 87.1 L655.7 86.5 L656.4 86.7 L657.1 87.4 L657.8 88.4 L658.5 89.4 L659.2 90.7 L659.9 92.2 L660.5 93.8 L661.0 95.4 L661.6 97.4 L662.1 99.5 L662.5 101.7 L663.0 103.9 L663.5 106.3 L664.0 108.6 L664.4 111.0 L665.0 113.4 L665.7 116.1 L666.4 118.8 L667.2 121.6 L668.0 124.3 L668.7 127.0 L669.5 129.6 L670.2 132.3 L671.0 134.9 L671.7 137.5 L672.5 140.0 L673.3 142.5 L674.0 144.8 L674.6 146.7 L675.2 148.5 L675.8 150.2 L676.4 151.6 L676.9 152.5 L677.4 153.2 L678.0 153.9 L678.5 154.6"/>
<path class="c" d="M397.8 130.6 L399.0 127.5 L400.2 124.5 L401.4 121.4 L402.6 118.4 L403.9 115.2 L405.1 111.9 L406.4 108.7 L407.6 105.5 L408.7 102.8 L409.7 100.1 L410.7 97.5 L411.8 95.0 L412.8 92.7 L413.7 90.6 L414.7 88.5 L415.8 86.2 L417.2 83.0 L418.7 79.6 L420.2 76.1 L421.7 72.8 L423.2 69.7 L424.6 66.7 L426.1 63.8 L427.7 61.0 L429.1 58.8 L430.5 56.8 L432.0 54.8 L433.6 52.9 L435.4 50.8 L437.4 48.7 L439.4 46.8 L441.5 45.1 L443.5 43.8 L445.5 42.7 L447.5 41.8 L449.5 41.0 L451.2 40.6 L452.8 40.3 L454.4 40.1 L456.0 40.1 L457.5 40.0 L459.0 40.1 L460.5 40.2 L462.0 40.5 L463.9 40.8 L465.9 41.3 L468.0 42.0 L470.0 42.8 L472.3 44.1 L474.5 45.7 L476.8 47.4 L479.0 49.2 L481.2 51.1 L483.4 53.2 L485.6 55.3 L488.0 57.3 L490.9 59.4 L493.9 61.5 L497.0 63.7 L500.0 66.0 L503.0 68.8 L505.8 71.7 L508.7 74.8 L511.5 77.9 L514.4 81.3 L517.3 84.8 L520.2 88.4 L523.4 91.9 L527.3 96.0 L531.5 100.0 L535.8 104.1 L540.0 108.1 L543.8 112.0 L547.5 116.0 L551.3 119.7 L555.0 122.6 L557.9 124.1 L560.7 125.2 L563.6 126.0 L566.5 126.7 L569.4 127.2 L572.2 127.5 L575.1 127.7 L578.0 127.9 L580.9 128.1 L583.8 128.2 L586.7 128.1 L589.6 127.9 L592.5 127.5 L595.5 126.8 L598.4 126.1 L601.2 125.5 L603.6 125.1 L606.0 124.7 L608.3 124.4 L610.4 124.3 L612.0 124.5 L613.5 124.7 L614.9 125.1 L616.2 125.5 L617.1 125.7 L618.0 126.0 L618.8 126.2 L619.7 126.6 L621.0 127.4 L622.4 128.3 L623.8 129.4 L625.0 130.4 L626.0 131.3 L626.8 132.3 L627.7 133.3 L628.5 134.2 L629.3 135.1 L630.2 136.1 L631.0 137.0 L631.9 137.8 L632.8 138.5 L633.6 139.2 L634.5 139.8 L635.4 140.4 L636.3 141.0 L637.2 141.6 L638.1 142.1 L638.9 142.4 L639.5 142.5 L640.1 142.6 L640.7 142.5 L641.2 142.4 L641.7 142.2 L642.1 141.8 L642.5 141.4 L642.9 140.8 L643.4 139.9 L643.8 138.8 L644.2 137.6 L644.6 136.3 L645.1 134.4 L645.5 132.4 L646.0 130.3 L646.4 128.1 L646.8 125.4 L647.3 122.7 L647.7 119.9 L648.1 117.1 L648.5 114.2 L649.0 111.3 L649.5 108.4 L650.0 105.5 L650.7 102.1 L651.4 98.5 L652.1 95.1 L653.0 92.2 L653.6 90.4 L654.3 88.7 L655.0 87.4 L655.7 86.8 L656.4 87.0 L657.1 87.8 L657.8 88.8 L658.5 89.8 L659.2 91.1 L659.9 92.5 L660.5 94.1 L661.0 95.8 L661.6 97.8 L662.1 99.9 L662.5 102.0 L663.0 104.2 L663.5 106.5 L664.0 108.9 L664.4 111.2 L665.0 113.7 L665.7 116.3 L666.4 119.0 L667.2 121.8 L668.0 124.5 L668.7 127.1 L669.5 129.8 L670.2 132.5 L671.0 135.1 L671.7 137.6 L672.5 140.1 L673.3 142.6 L674.0 144.9 L674.6 146.8 L675.2 148.6 L675.8 150.3 L676.4 151.7 L676.9 152.6 L677.4 153.3 L678.0 154.0 L678.5 154.7"/>
<path class="c" d="M397.8 131.6 L399.0 128.6 L400.2 125.6 L401.4 122.5 L402.6 119.5 L403.9 116.3 L405.1 113.1 L406.4 110.0 L407.6 106.9 L408.7 104.1 L409.7 101.5 L410.7 98.9 L411.8 96.3 L412.8 94.1 L413.7 92.0 L414.7 89.9 L415.8 87.6 L417.2 84.4 L418.7 81.1 L420.2 77.6 L421.7 74.3 L423.2 71.2 L424.6 68.2 L426.1 65.3 L427.7 62.5 L429.1 60.3 L430.5 58.3 L432.0 56.3 L433.6 54.3 L435.4 52.2 L437.4 50.1 L439.4 48.1 L441.5 46.4 L443.5 45.1 L445.5 43.9 L447.5 42.9 L449.5 42.1 L451.1 41.6 L452.8 41.3 L454.4 41.1 L456.0 41.0 L457.5 40.9 L459.0 41.0 L460.5 41.1 L462.0 41.3 L463.9 41.7 L465.9 42.2 L468.0 42.9 L470.0 43.7 L472.3 45.0 L474.5 46.6 L476.8 48.3 L479.0 50.1 L481.2 52.1 L483.4 54.1 L485.6 56.3 L488.0 58.3 L490.9 60.5 L493.9 62.6 L497.0 64.8 L500.0 67.2 L503.0 70.0 L505.8 73.0 L508.7 76.1 L511.5 79.3 L514.4 82.7 L517.3 86.2 L520.2 89.7 L523.4 93.3 L527.3 97.2 L531.5 101.2 L535.8 105.2 L540.0 109.1 L543.8 113.0 L547.5 116.9 L551.3 120.5 L555.0 123.3 L557.9 124.8 L560.7 125.9 L563.6 126.6 L566.5 127.3 L569.4 127.8 L572.2 128.1 L575.1 128.3 L578.0 128.4 L580.9 128.5 L583.8 128.6 L586.7 128.5 L589.6 128.3 L592.5 127.8 L595.5 127.2 L598.4 126.4 L601.2 125.9 L603.6 125.4 L606.0 125.0 L608.3 124.7 L610.4 124.7 L612.0 124.8 L613.5 125.1 L614.9 125.5 L616.2 125.9 L617.1 126.1 L618.0 126.4 L618.8 126.7 L619.7 127.1 L621.0 127.8 L622.4 128.8 L623.8 129.8 L625.0 130.9 L626.0 131.8 L626.8 132.7 L627.7 133.7 L628.5 134.6 L629.3 135.6 L630.2 136.5 L631.0 137.4 L631.9 138.2 L632.8 138.9 L633.6 139.6 L634.5 140.2 L635.4 140.8 L636.3 141.4 L637.2 142.0 L638.1 142.5 L638.9 142.8 L639.5 142.9 L640.1 143.0 L640.7 142.9 L641.2 142.8 L641.7 142.5 L642.1 142.2 L642.5 141.7 L642.9 141.2 L643.4 140.2 L643.8 139.1 L644.2 137.9 L644.6 136.6 L645.1 134.7 L645.5 132.7 L646.0 130.5 L646.4 128.3 L646.8 125.7 L647.3 123.0 L647.7 120.2 L648.1 117.4 L648.5 114.5 L649.0 111.6 L649.5 108.7 L650.0 105.7 L650.6 102.3 L651.4 98.8 L652.1 95.5 L653.0 92.6 L653.6 90.8 L654.3 89.1 L655.0 87.8 L655.7 87.3 L656.4 87.5 L657.1 88.2 L657.8 89.3 L658.5 90.3 L659.2 91.6 L659.9 93.1 L660.5 94.7 L661.0 96.3 L661.6 98.3 L662.1 100.3 L662.5 102.5 L663.0 104.6 L663.5 106.9 L664.0 109.2 L664.5 111.6 L665.0 114.0 L665.7 116.6 L666.4 119.4 L667.2 122.1 L668.0 124.8 L668.7 127.4 L669.5 130.1 L670.2 132.7 L671.0 135.3 L671.7 137.9 L672.5 140.4 L673.3 142.8 L674.0 145.1 L674.6 147.0 L675.2 148.8 L675.8 150.5 L676.4 151.9 L676.9 152.8 L677.4 153.5 L678.0 154.2 L678.5 154.9"/>
<path class="c" d="M397.8 132.3 L399.0 129.3 L400.2 126.3 L401.4 123.3 L402.6 120.3 L403.9 117.2 L405.1 114.0 L406.4 110.9 L407.6 107.9 L408.7 105.2 L409.7 102.5 L410.7 99.9 L411.8 97.4 L412.8 95.2 L413.7 93.1 L414.7 91.0 L415.8 88.7 L417.2 85.5 L418.7 82.2 L420.2 78.8 L421.7 75.5 L423.2 72.4 L424.6 69.4 L426.1 66.5 L427.7 63.8 L429.1 61.6 L430.5 59.5 L432.0 57.5 L433.6 55.5 L435.4 53.4 L437.4 51.3 L439.4 49.3 L441.5 47.6 L443.5 46.2 L445.5 45.0 L447.5 44.0 L449.5 43.1 L451.1 42.7 L452.8 42.4 L454.4 42.2 L456.0 42.1 L457.5 42.0 L459.0 42.1 L460.5 42.2 L462.0 42.5 L463.9 42.9 L465.9 43.4 L468.0 44.1 L470.0 45.0 L472.3 46.3 L474.5 47.9 L476.8 49.7 L479.0 51.5 L481.2 53.5 L483.4 55.6 L485.6 57.7 L488.0 59.8 L490.9 62.0 L493.9 64.1 L497.0 66.3 L500.0 68.8 L503.0 71.5 L505.8 74.5 L508.7 77.6 L511.5 80.7 L514.4 84.1 L517.3 87.5 L520.2 91.0 L523.4 94.4 L527.3 98.3 L531.5 102.2 L535.8 106.1 L540.0 109.9 L543.8 113.6 L547.6 117.5 L551.3 121.0 L555.0 123.8 L557.9 125.2 L560.7 126.3 L563.6 127.1 L566.5 127.7 L569.4 128.2 L572.2 128.6 L575.1 128.8 L578.0 128.9 L580.9 129.1 L583.8 129.1 L586.7 129.1 L589.6 128.9 L592.5 128.5 L595.5 127.8 L598.4 127.2 L601.2 126.6 L603.6 126.2 L606.0 125.9 L608.3 125.6 L610.4 125.6 L612.0 125.8 L613.5 126.1 L614.9 126.5 L616.2 126.8 L617.1 127.1 L618.0 127.4 L618.8 127.7 L619.7 128.1 L621.0 128.8 L622.4 129.8 L623.8 130.8 L625.0 131.8 L626.0 132.8 L626.8 133.7 L627.7 134.7 L628.5 135.6 L629.3 136.5 L630.2 137.4 L631.0 138.3 L631.9 139.1 L632.8 139.8 L633.6 140.4 L634.5 141.0 L635.4 141.6 L636.3 142.2 L637.2 142.7 L638.1 143.2 L638.9 143.5 L639.5 143.6 L640.1 143.6 L640.7 143.6 L641.2 143.4 L641.7 143.1 L642.1 142.7 L642.5 142.2 L642.9 141.7 L643.4 140.7 L643.8 139.5 L644.2 138.3 L644.6 136.9 L645.1 135.1 L645.5 133.0 L646.0 130.9 L646.4 128.7 L646.8 126.1 L647.3 123.3 L647.7 120.5 L648.1 117.7 L648.5 114.8 L649.0 111.9 L649.5 108.9 L650.0 106.0 L650.6 102.6 L651.4 99.1 L652.1 95.8 L653.0 92.9 L653.6 91.2 L654.3 89.5 L655.0 88.2 L655.7 87.7 L656.4 87.9 L657.1 88.6 L657.8 89.7 L658.5 90.7 L659.2 92.0 L659.9 93.4 L660.5 95.0 L661.0 96.7 L661.6 98.6 L662.1 100.7 L662.5 102.8 L663.0 104.9 L663.5 107.2 L664.0 109.5 L664.5 111.8 L665.0 114.2 L665.7 116.8 L666.4 119.5 L667.2 122.3 L668.0 125.0 L668.7 127.6 L669.5 130.3 L670.2 132.9 L671.0 135.5 L671.7 138.0 L672.5 140.5 L673.3 142.9 L674.0 145.2 L674.6 147.1 L675.2 148.9 L675.8 150.5 L676.4 152.0 L676.9 152.8 L677.4 153.6 L678.0 154.3 L678.5 155.0"/>
<path class="c" d="M397.8 133.7 L399.0 130.7 L400.2 127.7 L401.4 124.8 L402.6 121.8 L403.9 118.7 L405.1 115.6 L406.4 112.5 L407.6 109.4 L408.7 106.7 L409.7 104.1 L410.7 101.5 L411.8 99.0 L412.8 96.8 L413.7 94.7 L414.7 92.5 L415.8 90.2 L417.2 87.1 L418.7 83.7 L420.2 80.3 L421.7 77.0 L423.2 74.0 L424.6 70.9 L426.1 68.0 L427.7 65.3 L429.1 63.0 L430.5 61.0 L432.0 58.9 L433.6 56.9 L435.4 54.8 L437.4 52.6 L439.4 50.6 L441.5 48.8 L443.5 47.3 L445.5 46.0 L447.5 44.9 L449.5 44.0 L451.1 43.5 L452.8 43.2 L454.4 42.9 L456.0 42.8 L457.5 42.8 L459.0 42.8 L460.5 42.9 L462.0 43.2 L463.9 43.6 L465.9 44.1 L468.0 44.8 L470.0 45.7 L472.3 47.0 L474.5 48.6 L476.8 50.4 L479.0 52.3 L481.2 54.2 L483.4 56.3 L485.6 58.4 L488.0 60.5 L490.9 62.8 L493.9 65.0 L497.0 67.3 L500.0 69.7 L503.0 72.5 L505.8 75.5 L508.7 78.6 L511.5 81.7 L514.4 85.1 L517.3 88.5 L520.2 91.9 L523.4 95.3 L527.3 99.2 L531.5 103.0 L535.8 106.8 L540.0 110.5 L543.8 114.2 L547.6 118.0 L551.3 121.5 L555.0 124.3 L557.9 125.7 L560.7 126.8 L563.6 127.6 L566.5 128.2 L569.4 128.7 L572.2 129.1 L575.1 129.3 L578.0 129.4 L580.9 129.6 L583.8 129.7 L586.7 129.6 L589.6 129.4 L592.5 129.0 L595.5 128.4 L598.4 127.8 L601.2 127.2 L603.6 126.9 L606.0 126.6 L608.3 126.4 L610.4 126.4 L612.0 126.6 L613.5 126.9 L614.9 127.3 L616.2 127.7 L617.1 128.0 L618.0 128.3 L618.8 128.6 L619.7 129.0 L621.0 129.8 L622.4 130.7 L623.8 131.7 L625.0 132.8 L626.0 133.7 L626.8 134.6 L627.7 135.6 L628.5 136.5 L629.3 137.4 L630.2 138.3 L631.0 139.2 L631.9 140.0 L632.8 140.7 L633.6 141.3 L634.5 141.9 L635.4 142.5 L636.3 143.0 L637.2 143.6 L638.1 144.0 L638.9 144.3 L639.5 144.4 L640.1 144.4 L640.7 144.3 L641.2 144.1 L641.7 143.8 L642.1 143.4 L642.5 142.9 L642.9 142.3 L643.4 141.3 L643.8 140.1 L644.2 138.8 L644.6 137.4 L645.1 135.5 L645.5 133.5 L646.0 131.4 L646.4 129.1 L646.8 126.5 L647.3 123.8 L647.7 121.0 L648.1 118.2 L648.5 115.2 L649.0 112.3 L649.5 109.3 L650.0 106.3 L650.6 103.0 L651.4 99.5 L652.1 96.3 L653.0 93.5 L653.6 91.8 L654.3 90.1 L655.0 88.9 L655.7 88.3 L656.4 88.6 L657.1 89.3 L657.8 90.3 L658.5 91.4 L659.2 92.7 L659.9 94.1 L660.5 95.7 L661.0 97.4 L661.6 99.3 L662.1 101.3 L662.5 103.4 L663.0 105.5 L663.5 107.7 L664.0 110.0 L664.5 112.3 L665.0 114.6 L665.7 117.3 L666.4 120.0 L667.2 122.7 L668.0 125.3 L668.7 128.0 L669.5 130.6 L670.2 133.2 L671.0 135.8 L671.7 138.3 L672.5 140.8 L673.3 143.2 L674.0 145.5 L674.6 147.3 L675.2 149.1 L675.8 150.7 L676.4 152.2 L676.9 153.0 L677.4 153.8 L678.0 154.5 L678.5 155.2"/>
<path class="c" d="M397.8 134.4 L399.0 131.5 L400.2 128.5 L401.4 125.6 L402.6 122.6 L403.9 119.6 L405.1 116.5 L406.4 113.5 L407.6 110.5 L408.7 107.8 L409.7 105.2 L410.8 102.6 L411.8 100.1 L412.8 97.9 L413.7 95.8 L414.7 93.6 L415.8 91.4 L417.2 88.3 L418.7 84.9 L420.2 81.5 L421.7 78.3 L423.2 75.2 L424.6 72.2 L426.1 69.3 L427.7 66.5 L429.1 64.3 L430.5 62.2 L432.0 60.2 L433.6 58.2 L435.4 56.0 L437.4 53.8 L439.4 51.7 L441.5 49.9 L443.5 48.4 L445.5 47.1 L447.5 45.9 L449.5 45.0 L451.1 44.5 L452.8 44.1 L454.4 43.8 L456.0 43.7 L457.5 43.6 L459.0 43.7 L460.5 43.8 L462.0 44.0 L463.9 44.4 L466.0 45.0 L468.0 45.7 L470.0 46.6 L472.3 48.0 L474.5 49.6 L476.8 51.4 L479.0 53.3 L481.2 55.3 L483.4 57.4 L485.6 59.5 L488.0 61.6 L490.9 63.9 L493.9 66.2 L497.0 68.5 L500.0 71.0 L503.0 73.8 L505.8 76.8 L508.7 79.9 L511.5 83.0 L514.4 86.4 L517.3 89.8 L520.2 93.2 L523.4 96.6 L527.3 100.3 L531.5 104.1 L535.8 107.9 L540.0 111.5 L543.8 115.2 L547.6 118.9 L551.3 122.3 L555.0 125.0 L557.9 126.4 L560.7 127.5 L563.6 128.3 L566.5 128.9 L569.4 129.4 L572.2 129.8 L575.1 130.0 L578.0 130.1 L580.9 130.3 L583.8 130.3 L586.7 130.3 L589.6 130.1 L592.5 129.6 L595.5 129.0 L598.4 128.4 L601.2 127.9 L603.6 127.6 L606.0 127.3 L608.3 127.1 L610.4 127.1 L612.0 127.3 L613.5 127.6 L614.9 128.0 L616.2 128.4 L617.1 128.7 L618.0 129.0 L618.8 129.3 L619.7 129.8 L621.0 130.5 L622.4 131.4 L623.8 132.5 L625.0 133.5 L626.0 134.4 L626.8 135.3 L627.7 136.3 L628.5 137.2 L629.3 138.1 L630.2 139.0 L631.0 139.8 L631.9 140.6 L632.8 141.3 L633.6 141.9 L634.5 142.5 L635.4 143.0 L636.3 143.6 L637.2 144.1 L638.1 144.5 L638.9 144.8 L639.5 144.9 L640.1 144.8 L640.7 144.7 L641.2 144.5 L641.7 144.2 L642.1 143.8 L642.5 143.2 L642.9 142.6 L643.4 141.6 L643.8 140.4 L644.2 139.1 L644.6 137.7 L645.1 135.8 L645.5 133.8 L646.0 131.6 L646.4 129.4 L646.8 126.8 L647.3 124.0 L647.7 121.2 L648.1 118.4 L648.5 115.5 L649.0 112.5 L649.5 109.5 L650.0 106.5 L650.6 103.2 L651.4 99.8 L652.1 96.5 L653.0 93.7 L653.6 92.1 L654.3 90.5 L655.0 89.2 L655.7 88.7 L656.4 88.9 L657.1 89.7 L657.8 90.7 L658.5 91.7 L659.2 93.0 L659.9 94.5 L660.4 96.1 L661.0 97.7 L661.6 99.6 L662.1 101.6 L662.5 103.7 L663.0 105.8 L663.5 108.0 L664.0 110.2 L664.5 112.5 L665.0 114.8 L665.7 117.5 L666.4 120.1 L667.2 122.9 L668.0 125.5 L668.7 128.1 L669.5 130.8 L670.2 133.3 L671.0 135.9 L671.7 138.4 L672.5 140.9 L673.3 143.3 L674.0 145.6 L674.6 147.4 L675.2 149.2 L675.8 150.8 L676.4 152.3 L676.9 153.1 L677.4 153.9 L678.0 154.6 L678.5 155.3"/>
<path class="c" d="M397.8 135.6 L399.0 132.7 L400.2 129.8 L401.4 126.9 L402.6 123.9 L403.9 120.9 L405.1 117.9 L406.4 114.9 L407.6 111.9 L408.7 109.3 L409.7 106.6 L410.8 104.1 L411.8 101.6 L412.8 99.4 L413.7 97.3 L414.7 95.2 L415.8 92.9 L417.2 89.8 L418.7 86.5 L420.2 83.1 L421.7 79.8 L423.2 76.8 L424.6 73.7 L426.1 70.8 L427.7 68.0 L429.1 65.8 L430.5 63.7 L432.0 61.6 L433.6 59.6 L435.4 57.4 L437.4 55.1 L439.4 53.0 L441.5 51.1 L443.4 49.6 L445.5 48.1 L447.5 46.9 L449.5 45.9 L451.1 45.4 L452.8 44.9 L454.4 44.7 L456.0 44.5 L457.5 44.4 L459.0 44.4 L460.5 44.5 L462.0 44.7 L463.9 45.2 L466.0 45.7 L468.0 46.4 L470.0 47.4 L472.3 48.7 L474.5 50.4 L476.8 52.2 L479.0 54.0 L481.2 56.0 L483.4 58.1 L485.6 60.3 L488.0 62.4 L490.9 64.7 L493.9 67.0 L497.0 69.4 L500.0 71.9 L503.0 74.8 L505.8 77.8 L508.7 81.0 L511.5 84.1 L514.4 87.4 L517.3 90.8 L520.2 94.3 L523.4 97.7 L527.3 101.4 L531.5 105.2 L535.8 108.9 L540.0 112.6 L543.8 116.1 L547.6 119.8 L551.3 123.2 L555.0 125.8 L557.9 127.3 L560.7 128.3 L563.6 129.1 L566.5 129.8 L569.4 130.3 L572.2 130.7 L575.1 130.9 L578.0 131.0 L580.9 131.1 L583.8 131.2 L586.7 131.1 L589.6 130.9 L592.5 130.4 L595.5 129.8 L598.4 129.2 L601.2 128.7 L603.6 128.3 L606.0 128.0 L608.3 127.8 L610.4 127.8 L612.0 128.0 L613.5 128.3 L614.9 128.7 L616.2 129.1 L617.1 129.3 L618.0 129.6 L618.8 129.9 L619.7 130.4 L621.0 131.1 L622.4 132.0 L623.8 133.0 L625.0 134.0 L626.0 134.9 L626.8 135.8 L627.7 136.7 L628.5 137.6 L629.3 138.5 L630.2 139.3 L631.0 140.2 L631.9 140.9 L632.8 141.6 L633.6 142.2 L634.5 142.7 L635.4 143.3 L636.3 143.8 L637.2 144.3 L638.1 144.7 L638.9 145.0 L639.5 145.1 L640.1 145.0 L640.7 144.9 L641.2 144.7 L641.7 144.4 L642.1 143.9 L642.5 143.4 L642.9 142.8 L643.4 141.7 L643.8 140.5 L644.2 139.2 L644.6 137.8 L645.1 135.9 L645.5 133.9 L646.0 131.7 L646.4 129.5 L646.8 126.9 L647.3 124.1 L647.7 121.3 L648.1 118.5 L648.5 115.6 L649.0 112.6 L649.5 109.6 L650.0 106.6 L650.6 103.3 L651.4 99.8 L652.1 96.6 L653.0 93.9 L653.6 92.2 L654.3 90.6 L655.0 89.4 L655.7 88.8 L656.4 89.1 L657.1 89.8 L657.8 90.9 L658.5 91.9 L659.2 93.2 L659.9 94.7 L660.4 96.3 L661.0 97.9 L661.6 99.8 L662.1 101.8 L662.5 103.9 L663.0 105.9 L663.5 108.1 L664.0 110.4 L664.5 112.7 L665.0 115.0 L665.7 117.6 L666.4 120.3 L667.2 123.0 L668.0 125.7 L668.7 128.3 L669.5 130.9 L670.2 133.5 L671.0 136.0 L671.7 138.5 L672.5 141.0 L673.3 143.4 L674.0 145.7 L674.6 147.5 L675.2 149.3 L675.8 150.9 L676.4 152.4 L676.9 153.2 L677.4 154.0 L678.0 154.6 L678.5 155.4"/>
<path class="c" d="M397.8 136.2 L399.0 133.3 L400.2 130.4 L401.4 127.5 L402.6 124.7 L403.9 121.7 L405.1 118.7 L406.4 115.8 L407.6 112.9 L408.7 110.2 L409.7 107.6 L410.8 105.1 L411.8 102.6 L412.8 100.4 L413.7 98.3 L414.7 96.2 L415.8 94.0 L417.2 90.9 L418.7 87.6 L420.2 84.3 L421.7 81.1 L423.2 78.1 L424.6 75.1 L426.1 72.2 L427.7 69.5 L429.1 67.2 L430.5 65.2 L432.0 63.1 L433.6 61.1 L435.4 58.9 L437.4 56.7 L439.4 54.6 L441.5 52.7 L443.5 51.1 L445.5 49.7 L447.5 48.5 L449.5 47.5 L451.1 46.9 L452.8 46.5 L454.4 46.3 L456.0 46.1 L457.5 46.0 L459.0 46.0 L460.5 46.2 L462.0 46.4 L463.9 46.9 L466.0 47.5 L468.0 48.2 L470.0 49.2 L472.3 50.6 L474.5 52.2 L476.8 54.0 L479.0 55.9 L481.2 57.9 L483.4 60.0 L485.6 62.1 L488.0 64.3 L490.9 66.6 L493.9 68.8 L497.0 71.2 L500.0 73.7 L502.9 76.5 L505.8 79.5 L508.6 82.5 L511.5 85.6 L514.4 88.8 L517.3 92.1 L520.2 95.4 L523.4 98.7 L527.3 102.3 L531.5 105.8 L535.8 109.4 L540.0 112.9 L543.8 116.4 L547.6 120.0 L551.3 123.3 L555.0 125.9 L557.9 127.4 L560.7 128.4 L563.6 129.2 L566.5 129.9 L569.4 130.5 L572.2 130.8 L575.1 131.1 L578.0 131.3 L580.9 131.4 L583.8 131.5 L586.7 131.4 L589.6 131.3 L592.5 130.9 L595.5 130.4 L598.4 129.8 L601.2 129.4 L603.6 129.1 L606.0 128.9 L608.3 128.8 L610.4 128.9 L612.0 129.1 L613.5 129.5 L614.9 129.9 L616.2 130.3 L617.1 130.6 L618.0 130.9 L618.8 131.2 L619.7 131.6 L621.0 132.4 L622.4 133.3 L623.8 134.3 L625.0 135.3 L626.0 136.1 L626.8 137.1 L627.7 138.0 L628.5 138.9 L629.3 139.7 L630.2 140.6 L631.0 141.4 L631.9 142.1 L632.8 142.8 L633.6 143.4 L634.5 143.9 L635.4 144.4 L636.3 144.9 L637.2 145.4 L638.1 145.8 L638.9 146.0 L639.5 146.0 L640.1 146.0 L640.7 145.8 L641.2 145.6 L641.7 145.2 L642.1 144.7 L642.5 144.1 L642.9 143.5 L643.4 142.4 L643.8 141.2 L644.2 139.8 L644.6 138.4 L645.1 136.5 L645.5 134.4 L646.0 132.2 L646.4 130.0 L646.8 127.4 L647.3 124.6 L647.7 121.8 L648.1 119.0 L648.5 116.0 L649.0 113.0 L649.5 110.0 L650.0 106.9 L650.6 103.6 L651.4 100.3 L652.1 97.1 L653.0 94.4 L653.6 92.7 L654.3 91.2 L655.0 90.0 L655.7 89.4 L656.4 89.7 L657.1 90.4 L657.8 91.4 L658.5 92.4 L659.2 93.7 L659.9 95.2 L660.4 96.8 L661.0 98.4 L661.6 100.3 L662.1 102.3 L662.5 104.3 L663.0 106.3 L663.5 108.5 L664.0 110.7 L664.5 112.9 L665.0 115.2 L665.7 117.8 L666.4 120.5 L667.2 123.2 L668.0 125.9 L668.7 128.5 L669.5 131.0 L670.2 133.6 L671.0 136.2 L671.7 138.6 L672.5 141.1 L673.3 143.5 L674.0 145.8 L674.6 147.6 L675.2 149.4 L675.8 151.0 L676.4 152.4 L676.9 153.3 L677.4 154.0 L678.0 154.7 L678.5 155.4"/>
<path class="c" d="M397.8 136.7 L399.0 133.9 L400.2 131.0 L401.4 128.2 L402.6 125.3 L403.9 122.4 L405.1 119.5 L406.4 116.5 L407.6 113.7 L408.7 111.1 L409.7 108.5 L410.8 105.9 L411.8 103.5 L412.8 101.3 L413.7 99.2 L414.7 97.1 L415.8 94.9 L417.2 91.8 L418.7 88.6 L420.2 85.3 L421.7 82.1 L423.2 79.1 L424.6 76.1 L426.1 73.2 L427.7 70.5 L429.1 68.2 L430.5 66.1 L432.0 64.1 L433.6 62.1 L435.4 59.9 L437.4 57.6 L439.4 55.5 L441.5 53.5 L443.4 51.9 L445.5 50.5 L447.5 49.2 L449.5 48.2 L451.1 47.6 L452.8 47.2 L454.4 46.9 L456.0 46.7 L457.5 46.7 L459.0 46.7 L460.5 46.8 L462.0 47.1 L463.9 47.5 L466.0 48.2 L468.0 48.9 L470.0 49.9 L472.3 51.3 L474.5 53.0 L476.8 54.9 L479.0 56.8 L481.2 58.8 L483.4 60.9 L485.6 63.1 L488.0 65.2 L490.9 67.6 L493.9 69.9 L497.0 72.4 L500.0 74.9 L502.9 77.8 L505.8 80.8 L508.6 83.9 L511.5 87.0 L514.4 90.2 L517.3 93.5 L520.2 96.7 L523.4 100.0 L527.3 103.5 L531.5 107.1 L535.8 110.5 L540.0 114.0 L543.8 117.4 L547.6 120.9 L551.3 124.1 L555.0 126.7 L557.9 128.1 L560.7 129.2 L563.6 130.0 L566.5 130.7 L569.4 131.2 L572.2 131.6 L575.1 131.8 L578.0 132.0 L580.9 132.1 L583.8 132.2 L586.7 132.1 L589.6 132.0 L592.5 131.6 L595.5 131.1 L598.4 130.5 L601.2 130.1 L603.6 129.9 L606.0 129.7 L608.3 129.6 L610.4 129.7 L612.0 129.9 L613.5 130.3 L614.9 130.7 L616.2 131.1 L617.1 131.4 L618.0 131.7 L618.8 132.0 L619.7 132.5 L621.0 133.2 L622.4 134.1 L623.8 135.1 L625.0 136.1 L626.0 137.0 L626.8 137.9 L627.6 138.8 L628.5 139.7 L629.3 140.5 L630.2 141.4 L631.0 142.2 L631.9 142.9 L632.8 143.5 L633.6 144.1 L634.5 144.6 L635.4 145.1 L636.3 145.6 L637.2 146.0 L638.1 146.4 L638.9 146.6 L639.5 146.6 L640.1 146.5 L640.7 146.4 L641.2 146.1 L641.7 145.7 L642.1 145.2 L642.5 144.6 L642.9 143.9 L643.4 142.8 L643.8 141.6 L644.2 140.2 L644.6 138.7 L645.1 136.8 L645.5 134.8 L646.0 132.6 L646.4 130.3 L646.8 127.7 L647.3 125.0 L647.7 122.2 L648.1 119.3 L648.5 116.3 L649.0 113.3 L649.4 110.2 L650.0 107.2 L650.6 103.9 L651.3 100.6 L652.1 97.4 L653.0 94.7 L653.6 93.1 L654.3 91.6 L655.0 90.4 L655.7 89.9 L656.4 90.2 L657.1 90.9 L657.8 91.9 L658.5 92.9 L659.2 94.2 L659.9 95.7 L660.4 97.3 L661.0 98.9 L661.6 100.8 L662.1 102.7 L662.5 104.7 L663.0 106.7 L663.5 108.9 L664.0 111.1 L664.5 113.3 L665.0 115.5 L665.7 118.1 L666.4 120.8 L667.2 123.5 L668.0 126.2 L668.7 128.7 L669.5 131.3 L670.2 133.8 L671.0 136.4 L671.7 138.8 L672.5 141.3 L673.3 143.7 L674.0 146.0 L674.6 147.8 L675.2 149.5 L675.8 151.2 L676.4 152.6 L676.9 153.4 L677.4 154.2 L678.0 154.9 L678.5 155.6"/>
<path class="c" d="M397.8 137.6 L399.0 134.8 L400.2 132.0 L401.4 129.2 L402.6 126.4 L403.9 123.5 L405.1 120.6 L406.4 117.7 L407.6 114.9 L408.7 112.3 L409.7 109.8 L410.8 107.2 L411.8 104.8 L412.8 102.6 L413.7 100.6 L414.7 98.5 L415.8 96.2 L417.2 93.2 L418.7 90.0 L420.2 86.7 L421.7 83.5 L423.2 80.5 L424.6 77.5 L426.1 74.6 L427.7 71.9 L429.1 69.7 L430.5 67.6 L432.0 65.5 L433.6 63.5 L435.4 61.2 L437.4 58.9 L439.4 56.7 L441.5 54.7 L443.4 53.1 L445.5 51.6 L447.5 50.2 L449.5 49.2 L451.1 48.5 L452.8 48.1 L454.4 47.8 L456.0 47.6 L457.5 47.5 L459.0 47.5 L460.5 47.6 L462.0 47.9 L463.9 48.3 L466.0 48.9 L468.0 49.7 L470.0 50.7 L472.3 52.1 L474.5 53.8 L476.8 55.7 L479.0 57.6 L481.2 59.6 L483.4 61.7 L485.6 63.9 L488.0 66.1 L490.9 68.4 L493.9 70.8 L497.0 73.3 L500.0 75.8 L502.9 78.7 L505.8 81.7 L508.6 84.8 L511.5 87.9 L514.4 91.1 L517.3 94.4 L520.2 97.7 L523.4 100.9 L527.3 104.4 L531.5 107.8 L535.8 111.3 L540.0 114.7 L543.8 118.0 L547.6 121.5 L551.3 124.7 L555.0 127.2 L557.9 128.6 L560.8 129.6 L563.6 130.4 L566.5 131.1 L569.4 131.7 L572.2 132.0 L575.1 132.3 L578.0 132.5 L580.9 132.6 L583.8 132.6 L586.7 132.6 L589.6 132.4 L592.5 132.1 L595.5 131.5 L598.4 131.0 L601.2 130.7 L603.6 130.4 L606.0 130.3 L608.3 130.2 L610.4 130.4 L612.0 130.6 L613.5 131.0 L614.9 131.4 L616.2 131.8 L617.1 132.1 L618.0 132.5 L618.8 132.8 L619.7 133.3 L621.0 134.0 L622.4 134.9 L623.8 135.9 L625.0 136.9 L626.0 137.8 L626.8 138.7 L627.6 139.6 L628.5 140.5 L629.3 141.3 L630.2 142.2 L631.0 143.0 L631.9 143.7 L632.8 144.3 L633.6 144.9 L634.5 145.4 L635.4 145.9 L636.3 146.3 L637.2 146.8 L638.1 147.2 L638.9 147.3 L639.5 147.3 L640.1 147.3 L640.7 147.1 L641.2 146.8 L641.7 146.4 L642.1 145.8 L642.5 145.2 L642.9 144.5 L643.4 143.4 L643.8 142.1 L644.2 140.7 L644.6 139.2 L645.1 137.3 L645.5 135.2 L646.0 133.0 L646.4 130.8 L646.8 128.2 L647.3 125.4 L647.7 122.6 L648.1 119.8 L648.5 116.8 L649.0 113.7 L649.4 110.6 L650.0 107.5 L650.6 104.3 L651.3 101.0 L652.1 97.9 L653.0 95.3 L653.6 93.7 L654.3 92.2 L655.0 91.1 L655.7 90.6 L656.4 90.9 L657.1 91.6 L657.8 92.6 L658.5 93.6 L659.2 94.9 L659.9 96.4 L660.4 98.0 L661.0 99.7 L661.6 101.5 L662.1 103.4 L662.5 105.4 L663.0 107.3 L663.5 109.4 L664.0 111.6 L664.5 113.8 L665.0 116.0 L665.7 118.6 L666.4 121.2 L667.2 123.9 L668.0 126.6 L668.7 129.1 L669.5 131.7 L670.2 134.2 L671.0 136.7 L671.7 139.1 L672.5 141.6 L673.3 144.0 L674.0 146.2 L674.6 148.0 L675.2 149.8 L675.8 151.4 L676.4 152.8 L676.9 153.6 L677.4 154.4 L678.0 155.1 L678.5 155.8"/>
<path class="c" d="M397.8 139.0 L399.0 136.2 L400.2 133.4 L401.4 130.7 L402.6 127.9 L403.9 125.0 L405.1 122.2 L406.4 119.4 L407.6 116.6 L408.7 114.0 L409.7 111.5 L410.8 109.0 L411.8 106.5 L412.8 104.4 L413.7 102.3 L414.7 100.2 L415.8 98.0 L417.2 95.0 L418.7 91.8 L420.2 88.5 L421.7 85.3 L423.2 82.3 L424.6 79.4 L426.1 76.5 L427.7 73.8 L429.1 71.5 L430.5 69.4 L432.0 67.3 L433.6 65.3 L435.4 63.0 L437.4 60.6 L439.4 58.4 L441.5 56.4 L443.4 54.7 L445.5 53.1 L447.5 51.7 L449.5 50.6 L451.1 49.9 L452.8 49.4 L454.4 49.1 L456.0 48.9 L457.5 48.7 L459.0 48.7 L460.5 48.8 L462.0 49.1 L463.9 49.5 L466.0 50.1 L468.0 50.9 L470.0 51.9 L472.3 53.3 L474.5 55.0 L476.8 56.9 L479.0 58.8 L481.2 60.8 L483.4 62.9 L485.6 65.0 L488.0 67.2 L490.9 69.6 L493.9 72.0 L497.0 74.4 L500.0 77.0 L502.9 79.9 L505.8 82.9 L508.6 86.0 L511.5 89.0 L514.4 92.2 L517.3 95.4 L520.2 98.7 L523.4 101.8 L527.3 105.3 L531.5 108.7 L535.8 112.1 L540.0 115.4 L543.8 118.7 L547.6 122.1 L551.3 125.3 L555.0 127.8 L557.9 129.2 L560.8 130.3 L563.6 131.1 L566.5 131.8 L569.4 132.4 L572.2 132.8 L575.1 133.1 L578.0 133.3 L580.9 133.4 L583.8 133.4 L586.7 133.4 L589.6 133.2 L592.5 132.9 L595.5 132.4 L598.4 131.9 L601.2 131.5 L603.6 131.3 L606.0 131.2 L608.3 131.1 L610.4 131.3 L612.0 131.5 L613.5 131.8 L614.9 132.2 L616.2 132.7 L617.1 133.0 L618.0 133.3 L618.8 133.6 L619.7 134.1 L621.0 134.8 L622.4 135.7 L623.8 136.6 L625.0 137.6 L626.0 138.4 L626.8 139.3 L627.6 140.2 L628.5 141.1 L629.3 141.9 L630.2 142.7 L631.0 143.5 L631.9 144.1 L632.8 144.7 L633.6 145.3 L634.5 145.8 L635.4 146.2 L636.3 146.7 L637.2 147.1 L638.1 147.4 L638.9 147.6 L639.5 147.6 L640.1 147.5 L640.7 147.3 L641.2 147.0 L641.7 146.5 L642.1 146.0 L642.5 145.4 L642.9 144.6 L643.4 143.5 L643.8 142.2 L644.2 140.8 L644.6 139.3 L645.1 137.4 L645.5 135.3 L646.0 133.1 L646.4 130.9 L646.8 128.2 L647.3 125.5 L647.7 122.7 L648.1 119.9 L648.5 116.8 L649.0 113.7 L649.4 110.6 L650.0 107.5 L650.6 104.3 L651.3 101.0 L652.1 97.9 L653.0 95.3 L653.6 93.7 L654.3 92.2 L655.0 91.1 L655.7 90.6 L656.4 90.9 L657.1 91.6 L657.8 92.6 L658.5 93.6 L659.2 94.9 L659.9 96.4 L660.4 98.0 L661.0 99.6 L661.6 101.4 L662.1 103.4 L662.5 105.3 L663.0 107.3 L663.5 109.4 L664.0 111.5 L664.5 113.7 L665.0 116.0 L665.7 118.5 L666.4 121.2 L667.2 123.9 L668.0 126.5 L668.7 129.1 L669.5 131.6 L670.2 134.1 L671.0 136.7 L671.7 139.1 L672.5 141.6 L673.3 144.0 L674.0 146.2 L674.6 148.0 L675.2 149.7 L675.8 151.4 L676.4 152.8 L676.9 153.6 L677.4 154.4 L678.0 155.1 L678.5 155.8"/>
<path class="c" d="M397.8 139.6 L399.0 136.9 L400.2 134.1 L401.4 131.3 L402.6 128.6 L403.9 125.8 L405.1 123.0 L406.4 120.2 L407.6 117.5 L408.7 114.9 L409.7 112.4 L410.8 109.9 L411.8 107.4 L412.8 105.3 L413.7 103.2 L414.7 101.1 L415.8 98.9 L417.2 95.9 L418.7 92.8 L420.2 89.5 L421.7 86.4 L423.2 83.4 L424.6 80.5 L426.1 77.6 L427.7 74.9 L429.1 72.6 L430.5 70.5 L432.0 68.5 L433.6 66.4 L435.4 64.1 L437.4 61.8 L439.4 59.5 L441.5 57.5 L443.4 55.8 L445.5 54.2 L447.5 52.7 L449.5 51.6 L451.1 51.0 L452.8 50.5 L454.4 50.1 L456.0 49.9 L457.5 49.8 L459.0 49.8 L460.5 50.0 L462.0 50.2 L463.9 50.7 L466.0 51.3 L468.0 52.2 L470.0 53.2 L472.3 54.6 L474.5 56.4 L476.8 58.3 L479.0 60.2 L481.2 62.2 L483.4 64.3 L485.6 66.5 L488.0 68.7 L490.9 71.1 L493.9 73.5 L497.0 76.0 L500.0 78.6 L502.9 81.4 L505.8 84.4 L508.6 87.5 L511.5 90.6 L514.4 93.7 L517.3 96.8 L520.2 100.0 L523.4 103.1 L527.3 106.4 L531.5 109.7 L535.8 113.0 L540.0 116.2 L543.8 119.4 L547.6 122.7 L551.3 125.8 L555.0 128.3 L557.9 129.7 L560.8 130.7 L563.6 131.5 L566.5 132.2 L569.4 132.8 L572.2 133.2 L575.1 133.5 L578.0 133.7 L580.9 133.9 L583.8 133.9 L586.7 133.9 L589.6 133.7 L592.5 133.4 L595.5 133.0 L598.4 132.5 L601.2 132.2 L603.6 132.0 L606.0 131.9 L608.3 131.9 L610.4 132.1 L612.0 132.4 L613.5 132.7 L614.9 133.1 L616.2 133.6 L617.1 133.9 L618.0 134.2 L618.8 134.6 L619.7 135.0 L621.0 135.8 L622.4 136.6 L623.8 137.6 L625.0 138.5 L626.0 139.4 L626.8 140.3 L627.6 141.2 L628.5 142.0 L629.3 142.8 L630.2 143.6 L631.0 144.4 L631.9 145.0 L632.8 145.6 L633.6 146.1 L634.5 146.6 L635.4 147.1 L636.3 147.5 L637.2 147.9 L638.1 148.2 L638.9 148.3 L639.5 148.3 L640.1 148.2 L640.7 147.9 L641.2 147.6 L641.7 147.2 L642.1 146.6 L642.5 145.9 L642.9 145.2 L643.4 144.0 L643.8 142.7 L644.2 141.2 L644.6 139.7 L645.1 137.8 L645.5 135.7 L646.0 133.5 L646.4 131.3 L646.8 128.6 L647.3 125.9 L647.7 123.1 L648.1 120.2 L648.5 117.2 L649.0 114.1 L649.4 110.9 L650.0 107.8 L650.6 104.6 L651.3 101.4 L652.1 98.3 L653.0 95.7 L653.6 94.2 L654.3 92.7 L655.0 91.6 L655.7 91.1 L656.4 91.4 L657.1 92.1 L657.8 93.1 L658.5 94.1 L659.2 95.4 L659.9 96.9 L660.4 98.5 L661.0 100.1 L661.6 101.9 L662.1 103.8 L662.5 105.7 L663.0 107.7 L663.5 109.8 L664.0 111.9 L664.5 114.0 L665.0 116.2 L665.7 118.8 L666.4 121.5 L667.2 124.1 L668.0 126.8 L668.7 129.3 L669.5 131.8 L670.2 134.3 L671.0 136.8 L671.7 139.3 L672.5 141.7 L673.3 144.1 L674.0 146.4 L674.6 148.1 L675.2 149.9 L675.8 151.5 L676.4 152.9 L676.9 153.7 L677.4 154.5 L678.0 155.2 L678.5 155.9"/>
<path class="c" d="M397.8 140.7 L399.0 138.0 L400.2 135.3 L401.4 132.5 L402.6 129.8 L403.9 127.1 L405.1 124.4 L406.4 121.6 L407.6 119.0 L408.7 116.4 L409.7 113.9 L410.8 111.4 L411.8 109.0 L412.8 106.9 L413.7 104.8 L414.7 102.8 L415.8 100.6 L417.2 97.6 L418.7 94.5 L420.2 91.3 L421.7 88.1 L423.2 85.2 L424.6 82.2 L426.1 79.4 L427.7 76.7 L429.1 74.4 L430.5 72.3 L432.0 70.3 L433.6 68.2 L435.4 65.8 L437.4 63.5 L439.4 61.2 L441.5 59.1 L443.4 57.3 L445.5 55.6 L447.5 54.2 L449.5 53.0 L451.1 52.3 L452.8 51.7 L454.4 51.4 L456.0 51.1 L457.5 51.0 L459.0 51.0 L460.5 51.1 L462.0 51.3 L463.9 51.8 L466.0 52.4 L468.0 53.3 L470.0 54.3 L472.3 55.7 L474.5 57.4 L476.8 59.3 L479.0 61.2 L481.2 63.2 L483.4 65.3 L485.6 67.4 L488.0 69.6 L490.9 72.0 L493.9 74.4 L497.0 76.9 L500.0 79.5 L502.9 82.3 L505.8 85.3 L508.6 88.3 L511.5 91.3 L514.4 94.4 L517.3 97.5 L520.2 100.6 L523.4 103.6 L527.3 106.9 L531.5 110.1 L535.8 113.3 L540.0 116.4 L543.8 119.6 L547.6 122.9 L551.3 126.0 L555.0 128.4 L557.9 129.9 L560.8 130.9 L563.6 131.8 L566.5 132.5 L569.4 133.1 L572.2 133.5 L575.1 133.8 L578.0 134.1 L580.9 134.2 L583.8 134.3 L586.7 134.3 L589.6 134.1 L592.5 133.9 L595.5 133.4 L598.4 133.0 L601.2 132.8 L603.6 132.7 L606.0 132.6 L608.3 132.7 L610.4 132.9 L612.0 133.2 L613.5 133.6 L614.9 134.0 L616.2 134.5 L617.1 134.8 L618.0 135.1 L618.8 135.5 L619.7 136.0 L621.0 136.7 L622.4 137.6 L623.8 138.6 L625.0 139.5 L626.0 140.4 L626.8 141.3 L627.6 142.2 L628.5 143.0 L629.3 143.8 L630.2 144.6 L631.0 145.3 L631.9 146.0 L632.8 146.6 L633.6 147.1 L634.5 147.5 L635.4 148.0 L636.3 148.4 L637.2 148.8 L638.1 149.1 L638.9 149.2 L639.5 149.1 L640.1 149.0 L640.7 148.7 L641.2 148.4 L641.7 147.9 L642.1 147.3 L642.5 146.6 L642.9 145.8 L643.4 144.6 L643.8 143.3 L644.2 141.8 L644.6 140.3 L645.1 138.3 L645.5 136.2 L646.0 134.0 L646.4 131.7 L646.8 129.1 L647.3 126.4 L647.7 123.6 L648.1 120.7 L648.5 117.6 L649.0 114.5 L649.4 111.3 L650.0 108.2 L650.6 105.0 L651.3 101.8 L652.1 98.8 L653.0 96.3 L653.6 94.8 L654.3 93.4 L655.0 92.3 L655.7 91.8 L656.4 92.1 L657.1 92.8 L657.8 93.8 L658.5 94.8 L659.2 96.1 L659.9 97.6 L660.4 99.2 L661.0 100.8 L661.6 102.6 L662.1 104.4 L662.5 106.3 L663.0 108.2 L663.5 110.3 L664.0 112.4 L664.5 114.5 L665.0 116.7 L665.7 119.2 L666.4 121.9 L667.2 124.5 L668.0 127.2 L668.7 129.7 L669.5 132.2 L670.2 134.7 L671.0 137.1 L671.7 139.6 L672.5 142.0 L673.3 144.4 L674.0 146.6 L674.6 148.4 L675.2 150.1 L675.8 151.7 L676.4 153.1 L676.9 153.9 L677.4 154.7 L678.0 155.4 L678.5 156.1"/>
<path class="c" d="M397.8 141.5 L399.0 138.8 L400.2 136.0 L401.4 133.3 L402.6 130.6 L403.9 127.8 L405.1 125.1 L406.4 122.4 L407.6 119.7 L408.7 117.2 L409.7 114.6 L410.8 112.1 L411.8 109.7 L412.8 107.6 L413.7 105.5 L414.7 103.4 L415.8 101.2 L417.2 98.2 L418.7 95.0 L420.2 91.8 L421.7 88.7 L423.2 85.7 L424.6 82.8 L426.1 79.9 L427.7 77.2 L429.1 74.9 L430.5 72.8 L432.0 70.7 L433.6 68.6 L435.4 66.2 L437.4 63.8 L439.4 61.5 L441.5 59.4 L443.4 57.6 L445.5 55.9 L447.5 54.4 L449.5 53.2 L451.1 52.5 L452.8 52.0 L454.4 51.6 L456.0 51.4 L457.5 51.3 L459.0 51.3 L460.5 51.4 L462.0 51.7 L463.9 52.3 L466.0 53.0 L468.0 53.9 L470.0 55.0 L472.3 56.5 L474.5 58.4 L476.8 60.3 L479.0 62.3 L481.2 64.4 L483.4 66.6 L485.6 68.8 L488.0 71.1 L490.9 73.6 L493.9 76.1 L497.0 78.7 L500.0 81.4 L502.9 84.3 L505.8 87.4 L508.6 90.4 L511.5 93.5 L514.4 96.6 L517.2 99.6 L520.2 102.7 L523.4 105.7 L527.3 108.8 L531.5 111.9 L535.8 114.9 L540.0 117.9 L543.8 120.9 L547.6 124.1 L551.3 126.9 L555.0 129.3 L557.9 130.6 L560.8 131.6 L563.6 132.4 L566.5 133.1 L569.4 133.7 L572.2 134.1 L575.1 134.4 L578.0 134.6 L580.9 134.7 L583.8 134.8 L586.7 134.8 L589.6 134.6 L592.5 134.4 L595.5 134.0 L598.4 133.6 L601.2 133.4 L603.6 133.4 L606.0 133.4 L608.3 133.5 L610.4 133.8 L612.0 134.1 L613.5 134.5 L614.9 135.0 L616.2 135.4 L617.1 135.8 L618.0 136.2 L618.8 136.6 L619.7 137.1 L621.0 137.8 L622.4 138.7 L623.8 139.7 L625.0 140.6 L626.0 141.5 L626.8 142.4 L627.6 143.3 L628.5 144.1 L629.3 144.9 L630.2 145.7 L631.0 146.4 L631.9 147.1 L632.8 147.7 L633.6 148.2 L634.5 148.6 L635.4 149.0 L636.3 149.4 L637.2 149.8 L638.1 150.0 L638.9 150.1 L639.5 150.0 L640.1 149.9 L640.7 149.6 L641.2 149.2 L641.7 148.7 L642.1 148.0 L642.5 147.3 L642.9 146.5 L643.4 145.3 L643.8 143.9 L644.2 142.4 L644.6 140.8 L645.1 138.8 L645.5 136.7 L646.0 134.5 L646.4 132.2 L646.8 129.6 L647.3 126.9 L647.7 124.1 L648.1 121.2 L648.5 118.1 L649.0 114.9 L649.4 111.7 L650.0 108.5 L650.6 105.4 L651.3 102.2 L652.1 99.3 L653.0 96.8 L653.6 95.3 L654.3 94.0 L655.0 92.9 L655.7 92.5 L656.4 92.7 L657.1 93.5 L657.8 94.5 L658.5 95.5 L659.2 96.8 L659.9 98.2 L660.4 99.8 L661.0 101.4 L661.6 103.2 L662.1 105.0 L662.5 106.9 L663.0 108.7 L663.5 110.7 L664.0 112.8 L664.5 114.9 L665.0 117.0 L665.7 119.6 L666.4 122.2 L667.2 124.8 L668.0 127.5 L668.7 130.0 L669.5 132.4 L670.2 134.9 L671.0 137.3 L671.7 139.7 L672.5 142.2 L673.3 144.5 L674.0 146.8 L674.6 148.5 L675.2 150.2 L675.8 151.8 L676.4 153.2 L676.9 154.0 L677.4 154.8 L678.0 155.5 L678.5 156.2"/>
<path class="c" d="M397.8 142.1 L399.0 139.4 L400.2 136.7 L401.4 134.0 L402.6 131.4 L403.8 128.7 L405.1 126.1 L406.4 123.4 L407.6 120.8 L408.7 118.3 L409.7 115.8 L410.8 113.4 L411.8 111.0 L412.8 108.8 L413.7 106.8 L414.7 104.7 L415.8 102.5 L417.2 99.6 L418.7 96.5 L420.2 93.3 L421.7 90.3 L423.2 87.3 L424.6 84.4 L426.2 81.5 L427.7 78.8 L429.1 76.6 L430.5 74.4 L432.0 72.4 L433.6 70.3 L435.4 67.9 L437.4 65.5 L439.4 63.1 L441.5 61.0 L443.4 59.1 L445.5 57.4 L447.5 55.8 L449.5 54.6 L451.1 53.8 L452.8 53.3 L454.4 52.9 L456.0 52.7 L457.5 52.5 L459.0 52.5 L460.5 52.7 L462.0 52.9 L463.9 53.4 L466.0 54.1 L468.0 55.0 L470.0 56.1 L472.3 57.6 L474.5 59.4 L476.8 61.4 L479.0 63.3 L481.2 65.4 L483.4 67.5 L485.7 69.7 L488.0 72.0 L490.9 74.5 L493.9 77.0 L497.0 79.6 L500.0 82.3 L502.9 85.2 L505.8 88.3 L508.6 91.3 L511.5 94.4 L514.4 97.4 L517.2 100.5 L520.2 103.6 L523.4 106.5 L527.3 109.7 L531.5 112.7 L535.8 115.8 L540.0 118.8 L543.8 121.8 L547.6 124.9 L551.3 127.7 L555.0 130.0 L557.9 131.4 L560.8 132.4 L563.6 133.3 L566.5 134.0 L569.4 134.5 L572.2 135.0 L575.1 135.2 L578.0 135.5 L580.9 135.6 L583.8 135.6 L586.7 135.5 L589.6 135.4 L592.5 135.1 L595.5 134.7 L598.4 134.3 L601.2 134.0 L603.6 133.9 L606.0 133.9 L608.3 134.0 L610.4 134.2 L612.0 134.5 L613.5 134.9 L614.9 135.3 L616.2 135.8 L617.1 136.1 L618.0 136.5 L618.8 136.9 L619.7 137.4 L621.0 138.1 L622.4 139.0 L623.8 139.9 L625.0 140.8 L626.0 141.6 L626.8 142.5 L627.6 143.4 L628.5 144.2 L629.3 145.0 L630.2 145.7 L631.0 146.4 L631.9 147.1 L632.8 147.6 L633.6 148.1 L634.5 148.6 L635.4 149.0 L636.3 149.4 L637.2 149.7 L638.1 150.0 L638.9 150.1 L639.5 150.0 L640.1 149.8 L640.7 149.5 L641.2 149.2 L641.7 148.7 L642.1 148.0 L642.5 147.3 L642.9 146.5 L643.4 145.3 L643.8 143.9 L644.2 142.4 L644.6 140.8 L645.1 138.8 L645.5 136.7 L646.0 134.5 L646.4 132.2 L646.8 129.6 L647.3 126.9 L647.7 124.1 L648.1 121.2 L648.5 118.1 L649.0 114.9 L649.4 111.7 L650.0 108.5 L650.6 105.4 L651.3 102.3 L652.1 99.3 L653.0 96.8 L653.6 95.4 L654.3 94.0 L655.0 93.0 L655.7 92.6 L656.4 92.8 L657.1 93.6 L657.8 94.5 L658.5 95.6 L659.2 96.9 L659.9 98.4 L660.4 100.0 L661.0 101.6 L661.6 103.3 L662.1 105.1 L662.5 107.0 L663.0 108.9 L663.5 110.9 L664.0 112.9 L664.5 115.0 L665.0 117.2 L665.7 119.7 L666.4 122.3 L667.2 125.0 L668.0 127.6 L668.7 130.1 L669.5 132.6 L670.2 135.0 L671.0 137.5 L671.7 139.9 L672.5 142.3 L673.3 144.7 L674.0 146.9 L674.6 148.6 L675.2 150.3 L675.8 151.9 L676.4 153.3 L676.9 154.2 L677.4 154.9 L678.0 155.6 L678.5 156.3"/>
<path class="c" d="M397.8 143.2 L399.0 140.6 L400.2 137.9 L401.4 135.3 L402.6 132.6 L403.8 130.0 L405.1 127.4 L406.4 124.8 L407.6 122.2 L408.7 119.7 L409.7 117.3 L410.8 114.8 L411.8 112.4 L412.8 110.3 L413.7 108.3 L414.7 106.2 L415.8 104.0 L417.2 101.1 L418.7 98.0 L420.2 94.9 L421.7 91.8 L423.2 88.9 L424.6 86.0 L426.2 83.1 L427.7 80.4 L429.1 78.2 L430.5 76.0 L432.0 73.9 L433.6 71.8 L435.4 69.4 L437.4 66.9 L439.4 64.6 L441.5 62.4 L443.4 60.5 L445.5 58.6 L447.5 57.0 L449.5 55.7 L451.1 55.0 L452.8 54.4 L454.4 54.0 L456.0 53.7 L457.5 53.6 L459.0 53.6 L460.5 53.7 L462.0 53.9 L463.9 54.4 L466.0 55.1 L468.0 56.0 L470.0 57.1 L472.3 58.6 L474.5 60.4 L476.8 62.4 L479.0 64.3 L481.2 66.4 L483.4 68.5 L485.7 70.7 L488.0 72.9 L490.9 75.5 L493.9 78.0 L497.0 80.7 L500.0 83.4 L502.9 86.3 L505.8 89.3 L508.6 92.4 L511.5 95.4 L514.4 98.4 L517.2 101.5 L520.2 104.5 L523.4 107.4 L527.3 110.5 L531.5 113.5 L535.8 116.5 L540.0 119.4 L543.8 122.4 L547.6 125.4 L551.3 128.3 L555.0 130.5 L557.9 131.9 L560.8 133.0 L563.6 133.8 L566.5 134.5 L569.4 135.1 L572.2 135.6 L575.1 135.9 L578.0 136.1 L580.9 136.2 L583.8 136.2 L586.7 136.2 L589.6 136.0 L592.5 135.8 L595.5 135.4 L598.4 135.0 L601.2 134.8 L603.6 134.7 L606.0 134.7 L608.3 134.8 L610.4 135.1 L612.0 135.4 L613.5 135.8 L614.9 136.2 L616.2 136.6 L617.1 137.0 L618.0 137.4 L618.8 137.7 L619.7 138.2 L621.0 138.9 L622.4 139.8 L623.8 140.7 L625.0 141.6 L625.9 142.4 L626.8 143.3 L627.6 144.1 L628.5 144.9 L629.3 145.7 L630.2 146.4 L631.0 147.1 L631.9 147.7 L632.8 148.2 L633.6 148.7 L634.5 149.1 L635.4 149.5 L636.3 149.9 L637.2 150.2 L638.1 150.5 L638.9 150.5 L639.5 150.4 L640.1 150.2 L640.7 149.9 L641.2 149.6 L641.7 149.0 L642.1 148.4 L642.5 147.6 L642.9 146.8 L643.4 145.5 L643.8 144.1 L644.2 142.6 L644.6 141.0 L645.1 139.0 L645.5 136.9 L646.0 134.7 L646.4 132.4 L646.8 129.8 L647.3 127.1 L647.7 124.3 L648.1 121.4 L648.5 118.3 L649.0 115.1 L649.4 111.8 L650.0 108.7 L650.6 105.6 L651.3 102.4 L652.1 99.5 L653.0 97.0 L653.6 95.6 L654.3 94.2 L655.0 93.2 L655.7 92.8 L656.4 93.0 L657.1 93.8 L657.8 94.8 L658.5 95.8 L659.2 97.1 L659.9 98.6 L660.4 100.2 L661.0 101.8 L661.6 103.5 L662.1 105.3 L662.5 107.2 L663.0 109.0 L663.5 111.0 L664.0 113.1 L664.5 115.1 L665.0 117.3 L665.7 119.8 L666.4 122.4 L667.2 125.1 L668.0 127.7 L668.7 130.2 L669.5 132.6 L670.2 135.1 L671.0 137.5 L671.7 139.9 L672.5 142.4 L673.3 144.7 L674.0 146.9 L674.6 148.7 L675.2 150.4 L675.8 152.0 L676.4 153.3 L676.9 154.2 L677.4 154.9 L678.0 155.6 L678.5 156.3"/>
<path class="c" d="M397.8 143.6 L399.0 141.0 L400.2 138.3 L401.4 135.7 L402.6 133.1 L403.8 130.6 L405.1 128.0 L406.4 125.5 L407.6 123.0 L408.7 120.5 L409.7 118.1 L410.8 115.6 L411.8 113.3 L412.8 111.2 L413.7 109.2 L414.7 107.1 L415.8 104.9 L417.2 102.1 L418.7 99.0 L420.2 95.9 L421.7 92.9 L423.2 90.0 L424.6 87.1 L426.2 84.3 L427.7 81.6 L429.1 79.3 L430.5 77.2 L432.0 75.1 L433.6 73.0 L435.4 70.6 L437.4 68.2 L439.4 65.8 L441.5 63.6 L443.4 61.7 L445.5 59.8 L447.5 58.2 L449.5 56.9 L451.1 56.1 L452.8 55.5 L454.4 55.1 L456.0 54.8 L457.5 54.7 L459.0 54.7 L460.5 54.8 L462.0 55.0 L463.9 55.6 L466.0 56.3 L468.0 57.2 L470.0 58.3 L472.3 59.9 L474.5 61.7 L476.8 63.6 L479.0 65.6 L481.2 67.6 L483.4 69.8 L485.7 72.0 L488.0 74.2 L490.9 76.7 L493.9 79.3 L497.0 81.9 L500.0 84.7 L502.9 87.6 L505.8 90.6 L508.6 93.6 L511.5 96.6 L514.4 99.6 L517.2 102.6 L520.2 105.5 L523.4 108.4 L527.3 111.4 L531.5 114.3 L535.8 117.1 L540.0 120.0 L543.8 122.9 L547.6 125.9 L551.3 128.7 L555.0 131.0 L557.9 132.4 L560.8 133.4 L563.6 134.3 L566.5 135.0 L569.4 135.6 L572.2 136.1 L575.1 136.4 L578.0 136.7 L580.9 136.8 L583.8 136.9 L586.7 136.8 L589.6 136.7 L592.5 136.5 L595.5 136.2 L598.4 135.8 L601.2 135.7 L603.6 135.7 L606.0 135.7 L608.3 135.9 L610.4 136.2 L612.0 136.5 L613.5 136.9 L614.9 137.4 L616.2 137.8 L617.1 138.2 L618.0 138.6 L618.8 139.0 L619.7 139.5 L621.0 140.2 L622.4 141.0 L623.8 141.9 L625.0 142.8 L625.9 143.6 L626.8 144.5 L627.6 145.4 L628.5 146.2 L629.3 146.9 L630.2 147.6 L631.0 148.3 L631.9 148.9 L632.8 149.4 L633.6 149.9 L634.5 150.3 L635.4 150.6 L636.3 150.9 L637.2 151.3 L638.1 151.5 L638.9 151.5 L639.5 151.4 L640.1 151.2 L640.7 150.8 L641.2 150.4 L641.7 149.8 L642.1 149.2 L642.5 148.4 L642.9 147.5 L643.4 146.2 L643.8 144.8 L644.2 143.2 L644.6 141.6 L645.1 139.6 L645.5 137.5 L646.0 135.2 L646.4 133.0 L646.8 130.3 L647.3 127.6 L647.7 124.8 L648.1 122.0 L648.5 118.8 L649.0 115.5 L649.4 112.2 L650.0 109.1 L650.6 106.0 L651.3 102.9 L652.1 100.0 L653.0 97.6 L653.6 96.2 L654.3 94.9 L655.0 93.9 L655.7 93.5 L656.4 93.7 L657.1 94.5 L657.8 95.5 L658.5 96.5 L659.2 97.8 L659.9 99.3 L660.4 100.9 L661.0 102.5 L661.6 104.2 L662.1 105.9 L662.5 107.7 L663.0 109.6 L663.5 111.5 L664.0 113.5 L664.5 115.6 L665.0 117.7 L665.7 120.2 L666.4 122.8 L667.2 125.5 L668.0 128.0 L668.7 130.5 L669.5 132.9 L670.2 135.4 L671.0 137.8 L671.7 140.2 L672.5 142.6 L673.3 144.9 L674.0 147.2 L674.6 148.9 L675.2 150.6 L675.8 152.1 L676.4 153.5 L676.9 154.4 L677.4 155.1 L678.0 155.8 L678.5 156.5"/>
<path class="c" d="M397.8 144.7 L399.0 142.1 L400.2 139.5 L401.4 136.9 L402.6 134.3 L403.8 131.8 L405.1 129.3 L406.4 126.8 L407.6 124.3 L408.7 121.8 L409.7 119.4 L410.8 117.0 L411.8 114.6 L412.8 112.5 L413.7 110.5 L414.7 108.4 L415.8 106.3 L417.2 103.4 L418.7 100.4 L420.2 97.3 L421.7 94.2 L423.2 91.3 L424.7 88.4 L426.2 85.6 L427.7 82.9 L429.1 80.6 L430.5 78.5 L432.0 76.4 L433.6 74.2 L435.4 71.8 L437.4 69.3 L439.4 66.9 L441.5 64.6 L443.4 62.6 L445.5 60.7 L447.5 59.0 L449.5 57.6 L451.1 56.8 L452.8 56.2 L454.4 55.8 L456.0 55.5 L457.5 55.3 L459.0 55.3 L460.5 55.4 L462.0 55.6 L463.9 56.2 L466.0 56.9 L468.0 57.9 L470.0 59.0 L472.3 60.5 L474.5 62.3 L476.8 64.3 L479.0 66.3 L481.2 68.4 L483.4 70.5 L485.7 72.7 L488.0 75.0 L490.9 77.5 L493.9 80.2 L497.0 82.8 L500.0 85.6 L502.9 88.5 L505.8 91.5 L508.6 94.6 L511.5 97.6 L514.4 100.6 L517.2 103.5 L520.2 106.4 L523.4 109.3 L527.3 112.2 L531.5 115.1 L535.8 117.8 L540.0 120.6 L543.8 123.5 L547.6 126.4 L551.3 129.2 L555.0 131.4 L557.9 132.8 L560.8 133.8 L563.6 134.7 L566.5 135.4 L569.4 136.0 L572.2 136.5 L575.1 136.8 L578.0 137.1 L580.9 137.2 L583.8 137.3 L586.7 137.2 L589.6 137.1 L592.5 136.9 L595.5 136.6 L598.4 136.3 L601.2 136.1 L603.6 136.1 L606.0 136.3 L608.3 136.5 L610.4 136.8 L612.0 137.1 L613.5 137.5 L614.9 138.0 L616.2 138.5 L617.1 138.9 L618.0 139.2 L618.8 139.7 L619.7 140.2 L621.0 140.9 L622.4 141.7 L623.8 142.6 L625.0 143.5 L625.9 144.3 L626.8 145.2 L627.6 146.1 L628.5 146.9 L629.3 147.6 L630.2 148.3 L631.0 149.0 L631.9 149.6 L632.8 150.1 L633.6 150.5 L634.5 150.9 L635.4 151.2 L636.3 151.6 L637.2 151.9 L638.1 152.1 L638.9 152.1 L639.5 152.0 L640.1 151.7 L640.7 151.4 L641.2 150.9 L641.7 150.3 L642.1 149.6 L642.5 148.8 L642.9 148.0 L643.4 146.6 L643.8 145.2 L644.2 143.6 L644.6 142.0 L645.1 139.9 L645.5 137.8 L646.0 135.6 L646.4 133.3 L646.8 130.7 L647.3 127.9 L647.7 125.2 L648.1 122.3 L648.5 119.1 L649.0 115.8 L649.4 112.5 L650.0 109.3 L650.6 106.3 L651.3 103.2 L652.1 100.4 L653.0 98.0 L653.6 96.6 L654.3 95.3 L655.0 94.4 L655.7 94.0 L656.4 94.2 L657.1 95.0 L657.8 96.0 L658.5 97.0 L659.2 98.3 L659.9 99.8 L660.4 101.4 L661.0 103.0 L661.5 104.7 L662.0 106.4 L662.5 108.2 L663.0 110.0 L663.5 111.9 L664.0 113.9 L664.5 115.9 L665.0 118.0 L665.7 120.5 L666.4 123.1 L667.2 125.7 L668.0 128.3 L668.7 130.8 L669.5 133.2 L670.2 135.6 L671.0 138.0 L671.7 140.4 L672.5 142.8 L673.3 145.1 L674.0 147.3 L674.6 149.1 L675.2 150.7 L675.8 152.3 L676.4 153.7 L676.9 154.5 L677.4 155.3 L678.0 156.0 L678.5 156.7"/>
<path class="c" d="M397.8 146.1 L399.0 143.5 L400.2 141.0 L401.4 138.4 L402.6 135.9 L403.8 133.4 L405.1 131.0 L406.4 128.5 L407.6 126.1 L408.7 123.7 L409.7 121.2 L410.8 118.8 L411.8 116.5 L412.8 114.4 L413.7 112.4 L414.7 110.4 L415.8 108.2 L417.2 105.4 L418.7 102.3 L420.2 99.3 L421.7 96.3 L423.2 93.4 L424.7 90.5 L426.2 87.6 L427.7 84.9 L429.1 82.7 L430.5 80.5 L432.0 78.4 L433.6 76.2 L435.5 73.7 L437.4 71.2 L439.4 68.7 L441.5 66.3 L443.4 64.3 L445.4 62.3 L447.5 60.5 L449.5 59.0 L451.1 58.2 L452.7 57.5 L454.4 57.0 L456.0 56.7 L457.5 56.5 L459.0 56.4 L460.5 56.5 L462.0 56.7 L463.9 57.2 L466.0 58.0 L468.0 58.9 L470.0 60.0 L472.3 61.5 L474.5 63.3 L476.8 65.3 L479.0 67.2 L481.2 69.3 L483.4 71.4 L485.7 73.6 L488.0 75.8 L490.9 78.4 L493.9 81.1 L497.0 83.8 L500.0 86.6 L502.9 89.5 L505.8 92.6 L508.6 95.6 L511.5 98.6 L514.4 101.6 L517.2 104.6 L520.2 107.5 L523.4 110.3 L527.3 113.3 L531.5 116.1 L535.8 118.9 L540.0 121.7 L543.8 124.5 L547.6 127.4 L551.3 130.1 L555.0 132.3 L557.9 133.7 L560.8 134.7 L563.6 135.6 L566.5 136.4 L569.4 137.0 L572.2 137.5 L575.1 137.8 L578.0 138.1 L580.9 138.2 L583.8 138.2 L586.7 138.2 L589.6 138.1 L592.5 137.8 L595.5 137.5 L598.4 137.2 L601.2 137.1 L603.6 137.1 L606.0 137.3 L608.3 137.5 L610.4 137.8 L612.0 138.1 L613.5 138.5 L614.9 139.0 L616.2 139.4 L617.1 139.8 L618.0 140.2 L618.8 140.6 L619.7 141.1 L621.0 141.8 L622.4 142.6 L623.8 143.5 L625.0 144.4 L625.9 145.2 L626.8 146.0 L627.6 146.9 L628.5 147.7 L629.3 148.4 L630.2 149.1 L631.0 149.7 L631.9 150.3 L632.8 150.7 L633.6 151.2 L634.5 151.5 L635.4 151.9 L636.3 152.2 L637.2 152.4 L638.1 152.6 L638.9 152.6 L639.5 152.5 L640.1 152.2 L640.7 151.8 L641.2 151.4 L641.7 150.8 L642.1 150.0 L642.5 149.2 L642.9 148.3 L643.4 147.0 L643.8 145.5 L644.2 143.9 L644.6 142.3 L645.1 140.2 L645.5 138.1 L646.0 135.8 L646.4 133.6 L646.8 130.9 L647.3 128.2 L647.7 125.4 L648.1 122.6 L648.5 119.3 L649.0 116.0 L649.4 112.7 L650.0 109.5 L650.6 106.5 L651.3 103.4 L652.1 100.6 L653.0 98.2 L653.6 96.9 L654.3 95.6 L655.0 94.7 L655.7 94.3 L656.4 94.6 L657.1 95.3 L657.8 96.3 L658.5 97.3 L659.2 98.6 L659.9 100.1 L660.4 101.7 L661.0 103.3 L661.5 105.0 L662.0 106.7 L662.5 108.4 L663.0 110.2 L663.5 112.1 L664.0 114.1 L664.5 116.1 L665.0 118.2 L665.7 120.7 L666.4 123.3 L667.2 125.9 L668.0 128.5 L668.7 130.9 L669.5 133.3 L670.2 135.7 L671.0 138.1 L671.7 140.5 L672.5 142.9 L673.3 145.2 L674.0 147.4 L674.6 149.2 L675.2 150.8 L675.8 152.4 L676.4 153.7 L676.9 154.6 L677.4 155.3 L678.0 156.0 L678.5 156.7"/>
<path class="c" d="M397.8 147.0 L399.0 144.5 L400.2 142.0 L401.4 139.4 L402.6 136.9 L403.8 134.4 L405.1 132.0 L406.4 129.6 L407.6 127.2 L408.7 124.8 L409.7 122.3 L410.8 119.9 L411.8 117.6 L412.8 115.5 L413.7 113.5 L414.7 111.4 L415.8 109.2 L417.2 106.4 L418.7 103.4 L420.2 100.3 L421.7 97.3 L423.2 94.4 L424.7 91.5 L426.2 88.7 L427.7 85.9 L429.1 83.6 L430.5 81.5 L432.0 79.3 L433.6 77.1 L435.5 74.6 L437.4 72.0 L439.4 69.5 L441.5 67.1 L443.4 65.0 L445.4 63.0 L447.5 61.2 L449.5 59.7 L451.1 58.8 L452.7 58.2 L454.4 57.7 L456.0 57.3 L457.5 57.1 L459.0 57.1 L460.5 57.2 L462.0 57.4 L463.9 58.0 L466.0 58.7 L468.0 59.7 L470.0 60.8 L472.3 62.4 L474.5 64.3 L476.8 66.3 L479.0 68.3 L481.2 70.4 L483.4 72.5 L485.7 74.8 L488.0 77.0 L490.9 79.7 L493.9 82.4 L497.0 85.2 L500.0 88.0 L502.9 91.0 L505.8 94.0 L508.6 97.1 L511.5 100.1 L514.4 103.1 L517.2 106.0 L520.2 108.9 L523.4 111.6 L527.3 114.5 L531.5 117.2 L535.8 119.9 L540.0 122.5 L543.8 125.2 L547.6 128.0 L551.3 130.6 L555.0 132.8 L557.9 134.1 L560.8 135.2 L563.6 136.0 L566.5 136.8 L569.4 137.4 L572.2 137.9 L575.1 138.2 L578.0 138.5 L580.9 138.6 L583.8 138.6 L586.7 138.5 L589.6 138.4 L592.5 138.2 L595.5 137.9 L598.4 137.7 L601.2 137.6 L603.6 137.6 L606.0 137.8 L608.3 138.1 L610.4 138.4 L612.0 138.8 L613.5 139.2 L614.9 139.7 L616.2 140.1 L617.1 140.5 L618.0 140.9 L618.8 141.4 L619.7 141.9 L621.0 142.6 L622.4 143.4 L623.8 144.3 L625.0 145.1 L625.9 146.0 L626.8 146.8 L627.6 147.6 L628.5 148.4 L629.3 149.1 L630.2 149.8 L631.0 150.4 L631.9 151.0 L632.8 151.5 L633.6 151.9 L634.5 152.2 L635.4 152.6 L636.3 152.8 L637.2 153.1 L638.1 153.3 L638.9 153.3 L639.5 153.1 L640.1 152.8 L640.7 152.4 L641.2 152.0 L641.7 151.3 L642.1 150.6 L642.5 149.7 L642.9 148.8 L643.4 147.5 L643.8 145.9 L644.2 144.3 L644.6 142.7 L645.1 140.6 L645.5 138.5 L646.0 136.2 L646.4 133.9 L646.8 131.3 L647.3 128.6 L647.7 125.8 L648.1 122.9 L648.5 119.7 L649.0 116.3 L649.4 113.0 L650.0 109.8 L650.6 106.8 L651.3 103.8 L652.1 101.0 L653.0 98.7 L653.6 97.4 L654.3 96.1 L655.0 95.2 L655.7 94.8 L656.4 95.1 L657.1 95.8 L657.8 96.8 L658.5 97.8 L659.2 99.2 L659.9 100.7 L660.4 102.2 L661.0 103.8 L661.5 105.5 L662.0 107.2 L662.5 108.9 L663.0 110.7 L663.5 112.6 L664.0 114.5 L664.5 116.5 L665.0 118.5 L665.7 121.0 L666.4 123.6 L667.2 126.2 L668.0 128.8 L668.7 131.2 L669.5 133.6 L670.2 136.0 L671.0 138.3 L671.8 140.7 L672.5 143.1 L673.3 145.4 L674.0 147.6 L674.6 149.3 L675.2 151.0 L675.8 152.5 L676.4 153.9 L676.9 154.7 L677.4 155.5 L678.0 156.2 L678.5 156.9"/>
<path class="c" d="M397.8 147.7 L399.0 145.2 L400.2 142.7 L401.4 140.2 L402.6 137.8 L403.8 135.4 L405.1 133.0 L406.4 130.6 L407.6 128.3 L408.7 125.9 L409.7 123.5 L410.8 121.1 L411.8 118.8 L412.8 116.7 L413.7 114.7 L414.7 112.7 L415.8 110.5 L417.2 107.7 L418.7 104.7 L420.2 101.7 L421.7 98.8 L423.2 95.9 L424.7 93.0 L426.2 90.2 L427.7 87.5 L429.1 85.2 L430.5 83.0 L432.0 80.9 L433.6 78.7 L435.5 76.2 L437.4 73.6 L439.4 71.0 L441.5 68.7 L443.4 66.5 L445.4 64.5 L447.5 62.6 L449.5 61.1 L451.1 60.2 L452.7 59.5 L454.4 59.0 L456.0 58.7 L457.5 58.5 L459.0 58.4 L460.5 58.5 L462.0 58.8 L463.9 59.3 L466.0 60.1 L468.0 61.1 L470.0 62.2 L472.3 63.8 L474.5 65.6 L476.8 67.6 L479.0 69.6 L481.2 71.7 L483.4 73.9 L485.7 76.1 L488.0 78.4 L490.9 81.0 L493.9 83.7 L497.0 86.5 L500.0 89.3 L502.9 92.3 L505.8 95.3 L508.6 98.4 L511.5 101.4 L514.4 104.3 L517.2 107.1 L520.2 110.0 L523.4 112.7 L527.3 115.4 L531.5 118.1 L535.8 120.6 L540.0 123.2 L543.8 125.9 L547.6 128.6 L551.3 131.2 L555.0 133.3 L557.9 134.6 L560.8 135.7 L563.6 136.6 L566.5 137.3 L569.4 138.0 L572.2 138.5 L575.1 138.8 L578.0 139.1 L580.9 139.3 L583.8 139.3 L586.7 139.2 L589.6 139.1 L592.5 138.9 L595.5 138.6 L598.4 138.4 L601.2 138.3 L603.6 138.4 L606.0 138.6 L608.3 138.9 L610.4 139.3 L612.0 139.7 L613.5 140.1 L614.9 140.5 L616.2 141.0 L617.1 141.4 L618.0 141.8 L618.8 142.2 L619.7 142.7 L621.0 143.5 L622.4 144.2 L623.7 145.1 L625.0 146.0 L625.9 146.8 L626.8 147.6 L627.6 148.4 L628.5 149.2 L629.3 149.9 L630.2 150.5 L631.0 151.1 L631.9 151.7 L632.8 152.1 L633.6 152.5 L634.5 152.9 L635.4 153.2 L636.3 153.4 L637.2 153.7 L638.1 153.8 L638.9 153.8 L639.5 153.6 L640.1 153.3 L640.7 152.9 L641.2 152.4 L641.7 151.7 L642.1 151.0 L642.5 150.1 L642.9 149.2 L643.4 147.8 L643.8 146.3 L644.2 144.6 L644.6 142.9 L645.1 140.9 L645.5 138.7 L646.0 136.5 L646.4 134.2 L646.8 131.5 L647.3 128.8 L647.7 126.0 L648.1 123.2 L648.5 119.9 L649.0 116.6 L649.4 113.2 L650.0 109.9 L650.6 107.0 L651.3 104.0 L652.1 101.2 L653.0 98.9 L653.6 97.6 L654.3 96.4 L655.0 95.5 L655.7 95.1 L656.4 95.4 L657.1 96.1 L657.8 97.1 L658.5 98.1 L659.2 99.4 L659.9 100.9 L660.4 102.5 L661.0 104.1 L661.5 105.8 L662.0 107.5 L662.5 109.2 L663.0 110.9 L663.5 112.8 L664.0 114.7 L664.5 116.6 L665.0 118.7 L665.7 121.2 L666.4 123.7 L667.2 126.4 L668.0 128.9 L668.7 131.3 L669.5 133.7 L670.2 136.1 L671.0 138.5 L671.8 140.8 L672.5 143.2 L673.3 145.5 L674.0 147.7 L674.6 149.4 L675.2 151.1 L675.8 152.6 L676.4 154.0 L676.9 154.8 L677.4 155.6 L678.0 156.3 L678.5 157.0"/>
<path class="c" d="M397.8 148.6 L399.0 146.1 L400.2 143.6 L401.4 141.2 L402.6 138.7 L403.8 136.4 L405.1 134.0 L406.4 131.7 L407.6 129.4 L408.7 127.0 L409.7 124.6 L410.8 122.2 L411.8 119.9 L412.8 117.8 L413.7 115.8 L414.7 113.8 L415.8 111.6 L417.2 108.8 L418.7 105.9 L420.2 102.9 L421.7 99.9 L423.2 97.0 L424.7 94.2 L426.2 91.3 L427.7 88.6 L429.1 86.3 L430.5 84.1 L432.0 82.0 L433.6 79.8 L435.5 77.2 L437.4 74.6 L439.4 72.0 L441.5 69.6 L443.4 67.4 L445.4 65.3 L447.5 63.4 L449.5 61.8 L451.1 60.9 L452.7 60.2 L454.4 59.7 L456.0 59.3 L457.5 59.1 L459.0 59.1 L460.5 59.2 L462.0 59.4 L463.9 60.0 L466.0 60.8 L468.0 61.8 L470.0 63.0 L472.3 64.6 L474.5 66.5 L476.8 68.5 L479.0 70.6 L481.2 72.7 L483.4 74.9 L485.7 77.1 L488.0 79.4 L490.9 82.1 L493.9 84.9 L497.0 87.8 L500.0 90.7 L502.9 93.7 L505.8 96.8 L508.6 99.8 L511.5 102.8 L514.4 105.7 L517.2 108.6 L520.2 111.4 L523.4 114.1 L527.3 116.8 L531.5 119.4 L535.8 121.9 L540.0 124.4 L543.8 126.9 L547.6 129.6 L551.4 132.0 L555.0 134.0 L557.9 135.3 L560.8 136.4 L563.6 137.2 L566.5 138.0 L569.4 138.6 L572.2 139.0 L575.1 139.4 L578.0 139.6 L580.9 139.7 L583.8 139.7 L586.7 139.6 L589.6 139.5 L592.5 139.3 L595.5 139.0 L598.4 138.8 L601.2 138.7 L603.6 138.8 L606.0 139.0 L608.3 139.3 L610.4 139.7 L612.0 140.1 L613.5 140.5 L614.9 141.0 L616.2 141.5 L617.1 141.9 L618.0 142.3 L618.8 142.8 L619.7 143.3 L621.0 144.0 L622.4 144.8 L623.7 145.6 L625.0 146.5 L625.9 147.3 L626.8 148.1 L627.6 149.0 L628.5 149.7 L629.3 150.4 L630.2 151.1 L631.0 151.7 L631.9 152.2 L632.8 152.6 L633.6 153.0 L634.5 153.4 L635.4 153.7 L636.3 153.9 L637.2 154.2 L638.1 154.3 L638.9 154.3 L639.5 154.1 L640.1 153.8 L640.7 153.4 L641.2 152.9 L641.7 152.2 L642.1 151.4 L642.5 150.5 L642.9 149.6 L643.4 148.2 L643.8 146.6 L644.2 145.0 L644.6 143.3 L645.1 141.2 L645.5 139.0 L646.0 136.8 L646.4 134.5 L646.8 131.9 L647.3 129.2 L647.7 126.4 L648.1 123.5 L648.5 120.2 L649.0 116.8 L649.4 113.5 L650.0 110.2 L650.6 107.2 L651.3 104.3 L652.1 101.6 L653.0 99.3 L653.6 98.1 L654.3 96.9 L655.0 96.0 L655.7 95.7 L656.4 95.9 L657.1 96.7 L657.8 97.7 L658.5 98.7 L659.2 100.0 L659.9 101.5 L660.4 103.1 L661.0 104.7 L661.5 106.3 L662.0 108.0 L662.5 109.7 L663.0 111.4 L663.5 113.2 L664.0 115.1 L664.5 117.0 L665.0 119.0 L665.7 121.5 L666.4 124.1 L667.2 126.7 L668.0 129.3 L668.7 131.7 L669.5 134.0 L670.2 136.4 L671.0 138.7 L671.8 141.1 L672.5 143.4 L673.3 145.8 L674.0 147.9 L674.6 149.6 L675.2 151.3 L675.8 152.8 L676.4 154.1 L676.9 155.0 L677.4 155.7 L678.0 156.4 L678.5 157.2"/>
<path class="c" d="M397.8 149.2 L399.0 146.8 L400.2 144.3 L401.4 141.9 L402.6 139.5 L403.8 137.2 L405.1 134.9 L406.4 132.6 L407.6 130.3 L408.7 128.0 L409.7 125.6 L410.8 123.3 L411.8 121.0 L412.8 118.9 L413.7 116.9 L414.7 114.9 L415.8 112.8 L417.2 110.1 L418.7 107.2 L420.2 104.2 L421.7 101.3 L423.2 98.4 L424.7 95.6 L426.2 92.8 L427.7 90.1 L429.1 87.8 L430.6 85.7 L432.0 83.5 L433.6 81.3 L435.5 78.8 L437.4 76.2 L439.4 73.6 L441.5 71.1 L443.5 68.9 L445.4 66.8 L447.5 64.9 L449.5 63.3 L451.1 62.4 L452.7 61.7 L454.4 61.1 L456.0 60.8 L457.5 60.6 L459.0 60.5 L460.5 60.6 L462.0 60.9 L463.9 61.4 L466.0 62.3 L468.0 63.3 L470.0 64.5 L472.3 66.1 L474.5 68.0 L476.8 70.0 L479.0 72.0 L481.2 74.1 L483.4 76.3 L485.7 78.5 L488.0 80.8 L490.9 83.5 L493.9 86.2 L497.0 89.1 L500.0 91.9 L502.9 94.9 L505.8 97.9 L508.6 100.9 L511.5 103.9 L514.4 106.7 L517.2 109.5 L520.2 112.2 L523.4 114.8 L527.3 117.4 L531.5 119.9 L535.8 122.2 L540.0 124.7 L543.8 127.2 L547.6 129.8 L551.4 132.2 L555.0 134.3 L557.9 135.6 L560.8 136.6 L563.6 137.5 L566.5 138.3 L569.4 139.0 L572.2 139.5 L575.1 139.9 L578.0 140.1 L580.9 140.3 L583.8 140.3 L586.7 140.3 L589.6 140.2 L592.5 140.0 L595.5 139.8 L598.4 139.6 L601.2 139.6 L603.6 139.8 L606.0 140.1 L608.3 140.4 L610.4 140.9 L612.0 141.2 L613.5 141.7 L614.9 142.2 L616.2 142.7 L617.1 143.1 L618.0 143.5 L618.8 144.0 L619.7 144.5 L621.0 145.2 L622.4 146.0 L623.7 146.8 L625.0 147.6 L625.9 148.4 L626.8 149.3 L627.6 150.1 L628.5 150.8 L629.3 151.5 L630.2 152.1 L631.0 152.7 L631.9 153.2 L632.8 153.6 L633.6 154.0 L634.5 154.3 L635.4 154.6 L636.3 154.8 L637.2 155.0 L638.1 155.1 L638.9 155.0 L639.5 154.8 L640.1 154.5 L640.7 154.0 L641.2 153.5 L641.7 152.8 L642.1 152.0 L642.5 151.1 L642.9 150.1 L643.4 148.7 L643.8 147.1 L644.2 145.4 L644.6 143.7 L645.1 141.6 L645.5 139.4 L646.0 137.2 L646.4 134.9 L646.8 132.2 L647.3 129.5 L647.7 126.7 L648.1 123.9 L648.5 120.6 L649.0 117.1 L649.4 113.7 L650.0 110.4 L650.6 107.5 L651.3 104.6 L652.1 101.9 L653.0 99.7 L653.6 98.4 L654.3 97.3 L655.0 96.4 L655.7 96.1 L656.4 96.4 L657.1 97.1 L657.8 98.1 L658.5 99.1 L659.2 100.4 L659.9 101.9 L660.4 103.5 L661.0 105.1 L661.5 106.7 L662.0 108.3 L662.5 110.0 L663.0 111.7 L663.5 113.5 L664.0 115.4 L664.5 117.3 L665.0 119.3 L665.7 121.7 L666.4 124.3 L667.2 126.9 L668.0 129.4 L668.7 131.8 L669.5 134.2 L670.2 136.5 L671.0 138.8 L671.8 141.2 L672.5 143.6 L673.3 145.9 L674.0 148.0 L674.6 149.7 L675.2 151.4 L675.8 152.9 L676.4 154.2 L676.9 155.1 L677.4 155.8 L678.0 156.5 L678.5 157.2"/>
<path class="c" d="M397.8 150.3 L399.0 147.9 L400.2 145.4 L401.4 143.0 L402.6 140.6 L403.8 138.4 L405.1 136.1 L406.4 133.9 L407.6 131.6 L408.7 129.3 L409.7 126.9 L410.8 124.6 L411.8 122.3 L412.8 120.2 L413.7 118.3 L414.7 116.2 L415.8 114.1 L417.2 111.4 L418.7 108.5 L420.2 105.5 L421.7 102.6 L423.2 99.7 L424.7 96.9 L426.2 94.1 L427.7 91.4 L429.1 89.1 L430.6 86.9 L432.0 84.8 L433.6 82.5 L435.5 79.9 L437.4 77.3 L439.4 74.6 L441.5 72.1 L443.4 69.9 L445.4 67.7 L447.5 65.7 L449.5 64.1 L451.1 63.1 L452.7 62.4 L454.4 61.8 L456.0 61.4 L457.5 61.2 L459.0 61.1 L460.5 61.2 L462.0 61.5 L463.9 62.1 L466.0 62.9 L468.0 63.9 L470.0 65.1 L472.3 66.8 L474.5 68.7 L476.8 70.7 L479.0 72.8 L481.2 74.9 L483.4 77.1 L485.7 79.4 L488.0 81.7 L490.9 84.4 L493.9 87.2 L497.0 90.1 L500.0 93.1 L502.9 96.1 L505.7 99.1 L508.6 102.2 L511.5 105.2 L514.4 108.0 L517.2 110.8 L520.2 113.5 L523.4 116.1 L527.3 118.7 L531.5 121.1 L535.8 123.4 L540.0 125.8 L543.8 128.3 L547.6 130.8 L551.4 133.1 L555.0 135.1 L557.9 136.4 L560.8 137.5 L563.6 138.4 L566.5 139.1 L569.4 139.8 L572.2 140.3 L575.1 140.7 L578.0 140.9 L580.9 141.1 L583.8 141.1 L586.7 141.0 L589.6 140.9 L592.5 140.7 L595.5 140.5 L598.4 140.3 L601.2 140.3 L603.6 140.5 L606.0 140.8 L608.3 141.1 L610.4 141.6 L612.0 142.0 L613.5 142.4 L614.9 142.9 L616.2 143.3 L617.1 143.8 L618.0 144.2 L618.8 144.7 L619.7 145.2 L621.0 145.9 L622.4 146.6 L623.7 147.4 L625.0 148.3 L625.9 149.0 L626.8 149.9 L627.6 150.7 L628.5 151.4 L629.3 152.0 L630.2 152.7 L631.0 153.2 L631.9 153.7 L632.8 154.1 L633.6 154.5 L634.5 154.8 L635.4 155.0 L636.3 155.3 L637.2 155.4 L638.1 155.5 L638.9 155.5 L639.5 155.2 L640.1 154.9 L640.7 154.4 L641.2 153.9 L641.7 153.2 L642.1 152.3 L642.5 151.4 L642.9 150.4 L643.4 149.0 L643.8 147.4 L644.2 145.7 L644.6 143.9 L645.1 141.8 L645.5 139.7 L646.0 137.4 L646.4 135.1 L646.8 132.5 L647.3 129.7 L647.7 127.0 L648.1 124.1 L648.5 120.8 L649.0 117.3 L649.4 113.9 L650.0 110.6 L650.6 107.7 L651.3 104.8 L652.1 102.1 L653.0 99.9 L653.6 98.7 L654.3 97.6 L655.0 96.7 L655.7 96.4 L656.4 96.7 L657.1 97.4 L657.8 98.4 L658.5 99.4 L659.2 100.7 L659.9 102.2 L660.4 103.8 L661.0 105.4 L661.5 107.0 L662.0 108.6 L662.5 110.3 L663.0 111.9 L663.5 113.8 L664.0 115.6 L664.5 117.5 L665.0 119.5 L665.7 121.9 L666.4 124.5 L667.2 127.1 L668.0 129.6 L668.7 132.0 L669.5 134.3 L670.2 136.7 L671.0 139.0 L671.8 141.3 L672.5 143.7 L673.3 146.0 L674.0 148.2 L674.6 149.8 L675.2 151.5 L675.8 153.0 L676.4 154.3 L676.9 155.2 L677.4 155.9 L678.0 156.6 L678.5 157.3"/>
<path class="c" d="M397.8 151.0 L399.0 148.7 L400.2 146.3 L401.4 143.9 L402.6 141.5 L403.8 139.3 L405.1 137.1 L406.4 135.0 L407.6 132.7 L408.7 130.4 L409.7 128.1 L410.8 125.8 L411.8 123.5 L412.8 121.5 L413.7 119.5 L414.7 117.5 L415.8 115.4 L417.2 112.7 L418.7 109.8 L420.2 106.9 L421.7 104.0 L423.2 101.2 L424.7 98.3 L426.2 95.5 L427.7 92.9 L429.1 90.6 L430.6 88.4 L432.0 86.2 L433.6 84.0 L435.5 81.4 L437.4 78.7 L439.4 76.1 L441.5 73.6 L443.5 71.3 L445.4 69.0 L447.5 67.0 L449.5 65.4 L451.1 64.4 L452.7 63.6 L454.4 63.1 L456.0 62.7 L457.5 62.5 L459.0 62.4 L460.5 62.5 L462.0 62.8 L463.9 63.3 L466.0 64.2 L468.0 65.3 L470.0 66.5 L472.3 68.2 L474.5 70.1 L476.8 72.1 L479.0 74.2 L481.2 76.4 L483.4 78.5 L485.7 80.8 L488.0 83.1 L490.9 85.8 L493.9 88.7 L497.0 91.6 L500.0 94.5 L502.9 97.5 L505.7 100.6 L508.6 103.6 L511.5 106.5 L514.4 109.3 L517.2 112.0 L520.2 114.7 L523.4 117.2 L527.3 119.7 L531.5 122.0 L535.8 124.2 L540.0 126.5 L543.8 128.8 L547.6 131.3 L551.4 133.6 L555.0 135.5 L557.9 136.8 L560.8 137.8 L563.6 138.7 L566.5 139.5 L569.4 140.1 L572.2 140.6 L575.1 141.0 L578.0 141.3 L580.9 141.5 L583.8 141.5 L586.7 141.4 L589.6 141.3 L592.5 141.2 L595.5 141.0 L598.4 140.9 L601.2 140.9 L603.6 141.2 L606.0 141.5 L608.3 141.9 L610.4 142.4 L612.0 142.8 L613.5 143.3 L614.9 143.8 L616.2 144.3 L617.1 144.7 L618.0 145.1 L618.8 145.6 L619.7 146.1 L621.0 146.9 L622.4 147.6 L623.7 148.4 L625.0 149.3 L625.9 150.1 L626.8 150.9 L627.6 151.7 L628.5 152.4 L629.3 153.0 L630.2 153.6 L631.0 154.2 L631.9 154.7 L632.8 155.1 L633.6 155.4 L634.5 155.7 L635.4 155.9 L636.3 156.1 L637.2 156.3 L638.1 156.4 L638.9 156.3 L639.5 156.0 L640.1 155.6 L640.7 155.2 L641.2 154.6 L641.7 153.9 L642.1 153.0 L642.5 152.0 L642.9 151.0 L643.4 149.5 L643.8 147.9 L644.2 146.2 L644.6 144.4 L645.1 142.3 L645.5 140.1 L646.0 137.9 L646.4 135.5 L646.8 132.9 L647.3 130.2 L647.7 127.4 L648.1 124.5 L648.5 121.2 L649.0 117.7 L649.4 114.2 L650.0 110.9 L650.6 108.1 L651.3 105.2 L652.1 102.6 L653.0 100.4 L653.6 99.2 L654.3 98.2 L655.0 97.3 L655.7 97.0 L656.4 97.3 L657.1 98.0 L657.8 99.0 L658.5 100.0 L659.2 101.3 L659.9 102.8 L660.4 104.4 L661.0 106.0 L661.5 107.6 L662.0 109.2 L662.5 110.8 L663.0 112.4 L663.5 114.2 L664.0 116.0 L664.5 117.9 L665.0 119.8 L665.7 122.2 L666.4 124.8 L667.2 127.4 L668.0 129.9 L668.7 132.3 L669.5 134.6 L670.2 136.9 L671.0 139.2 L671.8 141.5 L672.5 143.9 L673.3 146.2 L674.0 148.3 L674.6 150.0 L675.2 151.6 L675.8 153.1 L676.4 154.5 L676.9 155.3 L677.4 156.1 L678.0 156.8 L678.5 157.5"/>
<path class="c" d="M397.8 151.9 L399.0 149.6 L400.2 147.2 L401.4 144.8 L402.6 142.5 L403.8 140.3 L405.1 138.2 L406.4 136.1 L407.6 133.9 L408.7 131.6 L409.8 129.3 L410.8 126.9 L411.8 124.7 L412.8 122.6 L413.7 120.7 L414.7 118.7 L415.8 116.6 L417.2 113.8 L418.7 111.0 L420.2 108.1 L421.7 105.2 L423.2 102.4 L424.7 99.6 L426.2 96.8 L427.7 94.1 L429.1 91.8 L430.6 89.6 L432.0 87.4 L433.6 85.2 L435.5 82.6 L437.4 79.9 L439.4 77.2 L441.5 74.6 L443.5 72.3 L445.4 70.0 L447.5 67.9 L449.5 66.2 L451.1 65.2 L452.7 64.5 L454.4 63.9 L456.0 63.5 L457.5 63.3 L459.0 63.2 L460.5 63.3 L462.0 63.6 L464.0 64.2 L466.0 65.0 L468.0 66.1 L470.0 67.4 L472.3 69.0 L474.5 71.0 L476.8 73.1 L479.0 75.2 L481.2 77.3 L483.4 79.5 L485.7 81.7 L488.0 84.1 L490.9 86.9 L493.9 89.7 L497.0 92.7 L500.0 95.7 L502.9 98.7 L505.7 101.7 L508.6 104.7 L511.5 107.7 L514.4 110.4 L517.2 113.1 L520.2 115.7 L523.4 118.2 L527.3 120.6 L531.5 122.8 L535.8 125.0 L540.0 127.2 L543.8 129.5 L547.6 131.9 L551.4 134.1 L555.0 136.0 L557.9 137.3 L560.8 138.3 L563.6 139.2 L566.5 140.0 L569.4 140.7 L572.2 141.2 L575.1 141.6 L578.0 141.9 L580.9 142.1 L583.8 142.1 L586.7 142.0 L589.6 142.0 L592.5 141.9 L595.5 141.7 L598.4 141.6 L601.2 141.7 L603.6 141.9 L606.0 142.3 L608.3 142.8 L610.4 143.3 L612.0 143.7 L613.5 144.2 L614.9 144.7 L616.2 145.2 L617.1 145.6 L618.0 146.1 L618.8 146.6 L619.7 147.1 L621.0 147.8 L622.4 148.6 L623.7 149.4 L625.0 150.2 L625.9 151.0 L626.8 151.8 L627.6 152.6 L628.5 153.3 L629.3 153.9 L630.2 154.5 L631.0 155.0 L631.9 155.5 L632.8 155.9 L633.6 156.2 L634.5 156.5 L635.4 156.7 L636.3 156.9 L637.2 157.0 L638.1 157.1 L638.9 157.0 L639.6 156.7 L640.2 156.3 L640.7 155.8 L641.2 155.2 L641.7 154.4 L642.1 153.5 L642.5 152.6 L642.9 151.5 L643.4 150.0 L643.8 148.3 L644.2 146.6 L644.6 144.8 L645.1 142.7 L645.5 140.5 L646.0 138.2 L646.4 135.9 L646.8 133.3 L647.3 130.5 L647.7 127.8 L648.1 124.9 L648.5 121.5 L649.0 118.0 L649.4 114.5 L650.0 111.2 L650.6 108.3 L651.3 105.5 L652.1 102.9 L653.0 100.8 L653.6 99.6 L654.3 98.6 L655.0 97.8 L655.7 97.5 L656.4 97.8 L657.1 98.5 L657.8 99.5 L658.5 100.5 L659.2 101.8 L659.9 103.3 L660.4 104.9 L661.0 106.5 L661.5 108.0 L662.0 109.6 L662.5 111.2 L663.0 112.8 L663.5 114.5 L664.0 116.3 L664.5 118.2 L665.0 120.1 L665.7 122.5 L666.4 125.1 L667.2 127.7 L668.0 130.2 L668.7 132.5 L669.5 134.8 L670.2 137.1 L671.0 139.4 L671.8 141.7 L672.5 144.1 L673.3 146.3 L674.0 148.5 L674.6 150.2 L675.2 151.8 L675.8 153.3 L676.4 154.6 L676.9 155.4 L677.4 156.2 L678.0 156.9 L678.5 157.6"/>
<path class="c" d="M397.8 152.8 L399.0 150.4 L400.2 148.1 L401.4 145.8 L402.6 143.5 L403.8 141.4 L405.1 139.3 L406.4 137.2 L407.6 135.1 L408.7 132.8 L409.8 130.5 L410.8 128.2 L411.8 125.9 L412.8 123.9 L413.7 121.9 L414.7 120.0 L415.8 117.9 L417.2 115.2 L418.7 112.4 L420.2 109.5 L421.7 106.7 L423.2 103.9 L424.7 101.0 L426.2 98.3 L427.7 95.6 L429.1 93.3 L430.6 91.1 L432.0 88.9 L433.6 86.7 L435.5 84.0 L437.4 81.3 L439.4 78.6 L441.5 76.0 L443.5 73.6 L445.4 71.3 L447.5 69.2 L449.5 67.5 L451.1 66.4 L452.7 65.7 L454.4 65.1 L456.0 64.6 L457.5 64.4 L459.0 64.3 L460.5 64.4 L462.0 64.7 L464.0 65.3 L466.0 66.2 L468.0 67.3 L470.0 68.5 L472.3 70.2 L474.5 72.2 L476.8 74.3 L479.0 76.4 L481.2 78.5 L483.4 80.7 L485.7 82.9 L488.0 85.2 L490.9 88.0 L493.9 91.0 L497.0 93.9 L500.0 96.9 L502.9 99.9 L505.7 102.9 L508.6 105.9 L511.5 108.8 L514.4 111.6 L517.2 114.2 L520.2 116.8 L523.4 119.2 L527.3 121.5 L531.5 123.7 L535.8 125.7 L540.0 127.9 L543.8 130.1 L547.6 132.4 L551.4 134.6 L555.0 136.5 L557.9 137.7 L560.8 138.8 L563.6 139.7 L566.5 140.5 L569.4 141.2 L572.2 141.7 L575.1 142.2 L578.0 142.5 L580.9 142.6 L583.8 142.6 L586.7 142.6 L589.6 142.5 L592.5 142.4 L595.5 142.3 L598.4 142.2 L601.2 142.4 L603.6 142.7 L606.0 143.1 L608.3 143.6 L610.4 144.1 L612.0 144.6 L613.5 145.0 L614.9 145.5 L616.2 146.1 L617.1 146.5 L618.0 147.0 L618.8 147.5 L619.7 148.0 L621.0 148.7 L622.4 149.5 L623.7 150.3 L625.0 151.1 L625.9 151.9 L626.8 152.7 L627.6 153.5 L628.5 154.2 L629.3 154.8 L630.2 155.4 L631.0 155.9 L631.9 156.3 L632.8 156.7 L633.6 157.0 L634.5 157.3 L635.4 157.5 L636.3 157.6 L637.2 157.7 L638.1 157.8 L638.9 157.6 L639.6 157.3 L640.2 156.9 L640.7 156.4 L641.2 155.8 L641.7 155.0 L642.1 154.1 L642.5 153.1 L642.9 152.0 L643.4 150.5 L643.8 148.8 L644.2 147.0 L644.6 145.2 L645.1 143.1 L645.5 140.9 L646.0 138.6 L646.4 136.3 L646.8 133.6 L647.3 130.9 L647.7 128.1 L648.1 125.3 L648.5 121.9 L648.9 118.3 L649.4 114.8 L650.0 111.5 L650.6 108.6 L651.3 105.8 L652.1 103.3 L653.0 101.2 L653.6 100.1 L654.3 99.0 L655.0 98.3 L655.7 98.0 L656.4 98.3 L657.1 99.0 L657.8 100.0 L658.5 101.0 L659.2 102.3 L659.9 103.8 L660.4 105.4 L661.0 107.0 L661.5 108.5 L662.0 110.0 L662.5 111.6 L663.0 113.2 L663.5 114.9 L664.0 116.7 L664.5 118.5 L665.0 120.4 L665.7 122.8 L666.4 125.3 L667.2 127.9 L668.0 130.4 L668.7 132.8 L669.5 135.0 L670.2 137.3 L671.0 139.6 L671.8 141.9 L672.5 144.2 L673.3 146.5 L674.0 148.6 L674.6 150.3 L675.2 151.9 L675.8 153.4 L676.4 154.7 L676.9 155.6 L677.4 156.3 L678.0 157.0 L678.5 157.7"/>
<path class="c" d="M397.8 153.7 L399.0 151.4 L400.2 149.1 L401.4 146.8 L402.6 144.5 L403.8 142.4 L405.1 140.4 L406.4 138.4 L407.6 136.3 L408.7 134.0 L409.8 131.7 L410.8 129.4 L411.8 127.2 L412.8 125.2 L413.7 123.2 L414.7 121.2 L415.8 119.1 L417.2 116.5 L418.7 113.7 L420.2 110.8 L421.7 108.0 L423.2 105.2 L424.7 102.4 L426.2 99.6 L427.7 97.0 L429.1 94.7 L430.6 92.5 L432.0 90.3 L433.6 88.0 L435.5 85.3 L437.4 82.5 L439.4 79.8 L441.5 77.2 L443.5 74.8 L445.4 72.4 L447.5 70.2 L449.5 68.4 L451.1 67.4 L452.7 66.6 L454.4 66.0 L456.0 65.5 L457.5 65.3 L459.0 65.2 L460.5 65.3 L462.0 65.6 L464.0 66.2 L466.0 67.1 L468.0 68.2 L470.0 69.5 L472.3 71.2 L474.5 73.1 L476.8 75.2 L479.0 77.4 L481.2 79.5 L483.4 81.7 L485.7 84.0 L488.0 86.3 L490.9 89.2 L493.9 92.1 L497.0 95.1 L500.0 98.2 L502.9 101.2 L505.7 104.2 L508.6 107.3 L511.5 110.2 L514.3 112.9 L517.2 115.5 L520.2 118.0 L523.4 120.4 L527.3 122.7 L531.5 124.8 L535.8 126.8 L540.0 128.9 L543.8 131.0 L547.6 133.3 L551.4 135.4 L555.0 137.2 L557.9 138.4 L560.8 139.5 L563.6 140.4 L566.5 141.2 L569.4 141.8 L572.2 142.4 L575.1 142.8 L578.0 143.1 L580.9 143.3 L583.8 143.2 L586.7 143.2 L589.6 143.1 L592.5 143.0 L595.5 142.9 L598.4 142.8 L601.2 143.0 L603.6 143.3 L606.0 143.7 L608.3 144.2 L610.4 144.8 L612.0 145.2 L613.5 145.7 L614.9 146.2 L616.2 146.7 L617.1 147.2 L618.0 147.7 L618.8 148.2 L619.7 148.7 L621.0 149.4 L622.4 150.1 L623.7 150.9 L625.0 151.7 L625.9 152.5 L626.8 153.3 L627.6 154.1 L628.5 154.8 L629.3 155.4 L630.2 155.9 L631.0 156.4 L631.9 156.9 L632.8 157.2 L633.6 157.5 L634.5 157.8 L635.4 158.0 L636.3 158.1 L637.2 158.2 L638.1 158.2 L638.9 158.1 L639.6 157.8 L640.2 157.3 L640.7 156.8 L641.2 156.2 L641.7 155.4 L642.1 154.4 L642.5 153.4 L642.9 152.3 L643.4 150.8 L643.8 149.1 L644.2 147.3 L644.6 145.5 L645.1 143.3 L645.5 141.1 L646.0 138.8 L646.4 136.5 L646.8 133.9 L647.3 131.2 L647.7 128.4 L648.1 125.5 L648.5 122.1 L648.9 118.5 L649.4 115.0 L650.0 111.6 L650.6 108.8 L651.3 106.0 L652.1 103.5 L653.0 101.5 L653.6 100.4 L654.3 99.4 L655.0 98.6 L655.7 98.3 L656.4 98.6 L657.1 99.4 L657.8 100.3 L658.5 101.3 L659.2 102.7 L659.9 104.2 L660.4 105.8 L661.0 107.3 L661.5 108.8 L662.0 110.4 L662.5 111.9 L663.0 113.5 L663.5 115.2 L664.0 116.9 L664.5 118.7 L665.0 120.6 L665.7 123.0 L666.4 125.6 L667.2 128.1 L668.0 130.6 L668.7 133.0 L669.5 135.2 L670.2 137.5 L671.0 139.7 L671.8 142.0 L672.5 144.4 L673.3 146.7 L674.0 148.8 L674.6 150.4 L675.2 152.0 L675.8 153.5 L676.4 154.8 L676.9 155.7 L677.4 156.4 L678.0 157.1 L678.5 157.8"/>
<path class="c" d="M397.8 154.6 L399.0 152.3 L400.2 150.0 L401.4 147.7 L402.6 145.5 L403.8 143.5 L405.1 141.5 L406.4 139.5 L407.6 137.4 L408.7 135.2 L409.8 132.9 L410.8 130.6 L411.8 128.4 L412.8 126.4 L413.7 124.4 L414.7 122.5 L415.8 120.4 L417.2 117.7 L418.7 115.0 L420.2 112.1 L421.7 109.3 L423.2 106.5 L424.7 103.7 L426.2 101.0 L427.7 98.3 L429.1 96.0 L430.6 93.8 L432.0 91.6 L433.6 89.3 L435.5 86.6 L437.4 83.8 L439.5 81.0 L441.5 78.4 L443.5 75.9 L445.4 73.5 L447.5 71.3 L449.5 69.5 L451.1 68.4 L452.7 67.6 L454.4 67.0 L456.0 66.5 L457.5 66.3 L459.0 66.2 L460.5 66.2 L462.0 66.5 L464.0 67.1 L466.0 68.1 L468.0 69.2 L470.0 70.5 L472.3 72.2 L474.5 74.2 L476.8 76.3 L479.0 78.5 L481.2 80.6 L483.4 82.8 L485.7 85.1 L488.0 87.5 L490.9 90.3 L493.9 93.3 L497.0 96.4 L500.0 99.4 L502.9 102.4 L505.7 105.5 L508.6 108.5 L511.5 111.4 L514.3 114.1 L517.2 116.7 L520.2 119.2 L523.4 121.5 L527.3 123.7 L531.5 125.7 L535.8 127.6 L540.0 129.6 L543.9 131.7 L547.7 133.9 L551.4 135.9 L555.0 137.7 L557.9 138.9 L560.8 140.0 L563.6 140.9 L566.5 141.7 L569.4 142.4 L572.2 142.9 L575.1 143.4 L578.0 143.7 L580.9 143.8 L583.8 143.8 L586.7 143.7 L589.6 143.7 L592.5 143.6 L595.5 143.5 L598.4 143.5 L601.2 143.6 L603.6 144.0 L606.0 144.5 L608.3 145.0 L610.4 145.6 L612.0 146.0 L613.5 146.5 L614.9 147.0 L616.2 147.6 L617.1 148.0 L618.0 148.5 L618.8 149.0 L619.7 149.6 L621.0 150.3 L622.4 151.0 L623.7 151.8 L625.0 152.6 L625.9 153.3 L626.8 154.1 L627.6 154.9 L628.5 155.6 L629.3 156.2 L630.2 156.7 L631.0 157.2 L631.9 157.6 L632.8 158.0 L633.6 158.3 L634.5 158.5 L635.4 158.7 L636.3 158.8 L637.2 158.9 L638.1 158.9 L638.9 158.7 L639.6 158.4 L640.2 157.9 L640.7 157.4 L641.2 156.7 L641.7 155.9 L642.1 154.9 L642.5 153.9 L642.9 152.8 L643.4 151.2 L643.8 149.5 L644.2 147.7 L644.6 145.8 L645.1 143.7 L645.5 141.5 L646.0 139.2 L646.4 136.8 L646.8 134.2 L647.3 131.5 L647.7 128.7 L648.1 125.8 L648.5 122.4 L648.9 118.8 L649.4 115.2 L650.0 111.9 L650.6 109.1 L651.3 106.3 L652.1 103.8 L653.0 101.8 L653.6 100.7 L654.3 99.8 L655.0 99.1 L655.7 98.8 L656.4 99.1 L657.1 99.8 L657.8 100.8 L658.5 101.8 L659.2 103.1 L659.9 104.6 L660.4 106.2 L661.0 107.8 L661.5 109.3 L662.0 110.8 L662.5 112.3 L663.0 113.8 L663.5 115.5 L664.0 117.2 L664.5 119.0 L665.0 120.9 L665.7 123.3 L666.4 125.8 L667.2 128.4 L668.0 130.9 L668.7 133.2 L669.5 135.4 L670.2 137.7 L671.0 139.9 L671.8 142.2 L672.5 144.5 L673.3 146.8 L674.0 148.9 L674.6 150.6 L675.2 152.2 L675.8 153.6 L676.4 154.9 L676.9 155.8 L677.4 156.5 L678.0 157.2 L678.5 157.9"/>
<path class="c" d="M397.8 155.3 L399.0 153.0 L400.2 150.7 L401.4 148.4 L402.6 146.2 L403.8 144.2 L405.1 142.2 L406.4 140.2 L407.6 138.2 L408.7 136.0 L409.8 133.7 L410.8 131.5 L411.8 129.2 L412.8 127.3 L413.7 125.3 L414.7 123.3 L415.8 121.3 L417.2 118.7 L418.7 115.9 L420.2 113.1 L421.7 110.3 L423.2 107.5 L424.7 104.7 L426.2 101.9 L427.7 99.3 L429.1 97.0 L430.6 94.7 L432.0 92.5 L433.6 90.2 L435.5 87.5 L437.4 84.7 L439.5 81.9 L441.5 79.2 L443.5 76.8 L445.4 74.3 L447.5 72.1 L449.5 70.3 L451.1 69.2 L452.7 68.3 L454.4 67.7 L456.0 67.2 L457.5 66.9 L459.0 66.8 L460.5 66.9 L462.0 67.2 L464.0 67.9 L466.0 68.9 L468.0 70.1 L470.0 71.4 L472.3 73.2 L474.5 75.3 L476.8 77.5 L479.0 79.7 L481.2 81.9 L483.4 84.2 L485.7 86.5 L488.0 88.9 L490.9 91.9 L493.9 94.9 L497.0 98.0 L500.0 101.1 L502.9 104.2 L505.7 107.3 L508.6 110.4 L511.5 113.3 L514.3 116.0 L517.2 118.5 L520.2 121.0 L523.4 123.2 L527.3 125.4 L531.5 127.3 L535.8 129.2 L540.0 131.1 L543.9 133.1 L547.7 135.2 L551.4 137.2 L555.0 138.9 L557.9 140.1 L560.8 141.1 L563.6 142.0 L566.5 142.7 L569.4 143.4 L572.2 143.8 L575.1 144.2 L578.0 144.5 L580.9 144.5 L583.8 144.5 L586.7 144.3 L589.6 144.2 L592.5 144.2 L595.5 144.0 L598.4 144.0 L601.2 144.2 L603.6 144.6 L606.0 145.1 L608.3 145.7 L610.4 146.3 L612.0 146.8 L613.5 147.3 L614.9 147.9 L616.2 148.5 L617.1 148.9 L618.0 149.5 L618.8 150.0 L619.7 150.6 L621.0 151.3 L622.4 152.1 L623.7 153.0 L625.0 153.8 L625.9 154.6 L626.8 155.4 L627.6 156.1 L628.5 156.8 L629.3 157.4 L630.2 158.0 L631.0 158.5 L631.9 158.9 L632.8 159.2 L633.6 159.5 L634.5 159.7 L635.4 159.9 L636.3 160.0 L637.2 160.1 L638.1 160.0 L638.9 159.8 L639.6 159.5 L640.2 159.0 L640.7 158.4 L641.2 157.7 L641.7 156.9 L642.1 155.9 L642.5 154.8 L642.9 153.6 L643.4 152.0 L643.8 150.3 L644.2 148.4 L644.6 146.5 L645.1 144.4 L645.5 142.1 L646.0 139.8 L646.4 137.4 L646.8 134.8 L647.3 132.1 L647.7 129.3 L648.1 126.4 L648.5 123.0 L648.9 119.3 L649.4 115.8 L650.0 112.4 L650.6 109.6 L651.3 106.9 L652.1 104.4 L653.0 102.4 L653.6 101.3 L654.3 100.4 L655.0 99.7 L655.7 99.4 L656.4 99.7 L657.1 100.4 L657.8 101.4 L658.5 102.4 L659.2 103.7 L659.9 105.3 L660.4 106.9 L661.0 108.4 L661.5 109.9 L662.0 111.4 L662.5 112.9 L663.0 114.4 L663.5 116.1 L664.0 117.8 L664.5 119.6 L665.0 121.4 L665.7 123.8 L666.4 126.3 L667.2 128.9 L668.0 131.4 L668.7 133.7 L669.5 135.9 L670.2 138.1 L671.0 140.4 L671.8 142.6 L672.5 145.0 L673.3 147.2 L674.0 149.3 L674.6 150.9 L675.2 152.5 L675.8 153.9 L676.4 155.2 L676.9 156.1 L677.4 156.8 L678.0 157.5 L678.5 158.2"/>
<path class="c" d="M397.8 155.8 L399.0 153.5 L400.2 151.2 L401.4 148.9 L402.6 146.7 L403.8 144.6 L405.1 142.6 L406.4 140.6 L407.6 138.6 L408.7 136.4 L409.8 134.2 L410.8 131.9 L411.8 129.8 L412.8 127.8 L413.7 125.8 L414.7 123.9 L415.8 121.8 L417.2 119.2 L418.7 116.5 L420.2 113.7 L421.7 111.0 L423.2 108.2 L424.7 105.3 L426.2 102.5 L427.7 99.8 L429.1 97.5 L430.6 95.3 L432.0 93.0 L433.6 90.8 L435.5 88.0 L437.4 85.2 L439.4 82.4 L441.5 79.8 L443.5 77.3 L445.4 74.9 L447.5 72.7 L449.5 70.8 L451.1 69.7 L452.7 68.8 L454.4 68.1 L456.0 67.7 L457.5 67.4 L459.0 67.2 L460.5 67.3 L462.0 67.5 L464.0 68.3 L466.0 69.4 L468.0 70.8 L470.0 72.3 L472.3 74.3 L474.5 76.4 L476.8 78.7 L479.0 81.0 L481.2 83.4 L483.4 85.8 L485.7 88.2 L488.0 90.8 L490.9 93.8 L493.9 97.0 L497.0 100.2 L500.0 103.4 L502.9 106.6 L505.7 109.8 L508.6 112.9 L511.5 115.9 L514.3 118.6 L517.2 121.1 L520.2 123.5 L523.4 125.8 L527.3 127.9 L531.5 129.7 L535.8 131.4 L540.0 133.2 L543.8 135.2 L547.7 137.2 L551.4 139.1 L555.0 140.7 L557.9 141.8 L560.8 142.8 L563.6 143.5 L566.5 144.2 L569.4 144.7 L572.2 145.1 L575.1 145.3 L578.0 145.4 L580.9 145.3 L583.8 145.1 L586.7 144.9 L589.6 144.7 L592.5 144.6 L595.5 144.4 L598.4 144.4 L601.2 144.6 L603.6 145.0 L606.0 145.6 L608.3 146.2 L610.4 146.9 L612.0 147.5 L613.5 148.1 L614.9 148.7 L616.2 149.3 L617.1 149.9 L618.0 150.5 L618.8 151.1 L619.7 151.8 L621.0 152.6 L622.4 153.5 L623.7 154.5 L625.0 155.4 L625.9 156.2 L626.8 157.0 L627.6 157.8 L628.5 158.6 L629.3 159.2 L630.2 159.7 L631.0 160.2 L631.9 160.7 L632.8 161.0 L633.6 161.3 L634.5 161.5 L635.4 161.7 L636.3 161.7 L637.2 161.8 L638.1 161.7 L638.9 161.4 L639.6 161.1 L640.2 160.5 L640.7 159.9 L641.2 159.2 L641.7 158.3 L642.1 157.2 L642.5 156.1 L642.9 154.9 L643.4 153.2 L643.8 151.4 L644.2 149.5 L644.6 147.6 L645.1 145.4 L645.5 143.1 L646.0 140.7 L646.4 138.3 L646.8 135.6 L647.3 132.9 L647.7 130.1 L648.1 127.2 L648.5 123.8 L648.9 120.1 L649.4 116.6 L650.0 113.2 L650.6 110.4 L651.3 107.7 L652.1 105.2 L653.0 103.2 L653.6 102.1 L654.3 101.1 L655.0 100.4 L655.7 100.2 L656.4 100.4 L657.1 101.2 L657.8 102.2 L658.5 103.2 L659.2 104.5 L659.9 106.1 L660.4 107.7 L661.0 109.3 L661.5 110.8 L662.0 112.3 L662.5 113.8 L663.0 115.3 L663.5 117.0 L664.0 118.7 L664.5 120.5 L665.0 122.3 L665.7 124.7 L666.4 127.2 L667.2 129.7 L668.0 132.2 L668.7 134.5 L669.5 136.7 L670.2 138.9 L671.0 141.1 L671.8 143.3 L672.5 145.6 L673.3 147.8 L674.0 149.9 L674.6 151.5 L675.2 153.0 L675.8 154.4 L676.4 155.7 L676.9 156.5 L677.4 157.3 L678.0 157.9 L678.5 158.7"/>
<path class="c" d="M397.8 156.4 L399.0 154.1 L400.2 151.7 L401.4 149.4 L402.6 147.2 L403.8 145.1 L405.1 143.0 L406.4 141.0 L407.6 138.9 L408.7 136.8 L409.8 134.6 L410.8 132.4 L411.8 130.2 L412.8 128.3 L413.7 126.4 L414.7 124.4 L415.8 122.4 L417.2 119.8 L418.7 117.1 L420.2 114.3 L421.7 111.6 L423.2 108.8 L424.7 105.9 L426.2 103.1 L427.7 100.4 L429.1 98.1 L430.6 95.8 L432.0 93.6 L433.6 91.2 L435.5 88.5 L437.4 85.7 L439.4 82.9 L441.5 80.2 L443.5 77.8 L445.4 75.4 L447.5 73.2 L449.5 71.4 L451.1 70.3 L452.7 69.3 L454.4 68.6 L456.0 68.1 L457.5 67.8 L459.0 67.6 L460.5 67.6 L462.0 67.9 L464.0 68.8 L466.0 70.0 L468.0 71.6 L470.0 73.2 L472.3 75.3 L474.5 77.5 L476.8 79.9 L479.0 82.3 L481.2 84.8 L483.4 87.4 L485.7 90.0 L488.0 92.7 L490.9 95.8 L493.9 99.1 L497.0 102.4 L500.0 105.7 L502.9 108.9 L505.7 112.2 L508.6 115.5 L511.5 118.5 L514.3 121.2 L517.2 123.7 L520.2 126.1 L523.4 128.2 L527.3 130.3 L531.5 132.0 L535.8 133.7 L540.0 135.4 L543.8 137.3 L547.7 139.2 L551.4 141.0 L555.0 142.5 L557.9 143.5 L560.8 144.4 L563.6 145.1 L566.5 145.7 L569.4 146.0 L572.2 146.3 L575.1 146.4 L578.0 146.3 L580.9 146.1 L583.8 145.8 L586.7 145.4 L589.6 145.2 L592.5 145.0 L595.5 144.8 L598.4 144.8 L601.2 145.0 L603.6 145.4 L606.0 146.0 L608.3 146.8 L610.4 147.5 L612.0 148.1 L613.5 148.8 L614.9 149.5 L616.2 150.2 L617.1 150.9 L618.0 151.5 L618.8 152.2 L619.7 152.9 L621.0 153.9 L622.4 154.9 L623.7 156.0 L625.0 157.0 L625.9 157.8 L626.8 158.7 L627.6 159.5 L628.5 160.2 L629.3 160.9 L630.2 161.5 L631.0 162.0 L631.9 162.4 L632.8 162.8 L633.6 163.1 L634.5 163.3 L635.4 163.4 L636.3 163.5 L637.2 163.5 L638.1 163.4 L638.9 163.1 L639.6 162.7 L640.2 162.1 L640.7 161.4 L641.2 160.7 L641.7 159.7 L642.1 158.6 L642.5 157.4 L642.9 156.2 L643.4 154.5 L643.8 152.6 L644.2 150.7 L644.6 148.7 L645.1 146.4 L645.5 144.0 L646.0 141.6 L646.4 139.2 L646.8 136.5 L647.3 133.7 L647.7 130.9 L648.1 128.0 L648.5 124.6 L648.9 120.9 L649.4 117.4 L650.0 114.0 L650.6 111.2 L651.3 108.5 L652.1 106.0 L653.0 104.0 L653.6 102.9 L654.3 101.9 L655.0 101.2 L655.7 100.9 L656.4 101.2 L657.1 102.0 L657.8 103.0 L658.5 104.0 L659.2 105.4 L659.9 106.9 L660.4 108.6 L661.0 110.2 L661.5 111.7 L662.0 113.1 L662.5 114.6 L663.0 116.2 L663.5 117.8 L664.0 119.6 L664.5 121.3 L665.0 123.2 L665.7 125.5 L666.4 128.0 L667.2 130.5 L668.0 133.0 L668.7 135.2 L669.5 137.5 L670.2 139.6 L671.0 141.8 L671.8 144.1 L672.5 146.3 L673.3 148.5 L674.0 150.5 L674.6 152.1 L675.2 153.5 L675.8 154.9 L676.4 156.2 L676.9 157.0 L677.4 157.7 L678.0 158.4 L678.5 159.1"/>
<path class="c" d="M397.8 157.0 L399.0 154.6 L400.2 152.3 L401.4 149.9 L402.6 147.6 L403.8 145.5 L405.1 143.4 L406.4 141.4 L407.6 139.3 L408.7 137.2 L409.7 135.0 L410.8 132.9 L411.8 130.8 L412.8 128.8 L413.7 126.9 L414.7 125.0 L415.8 123.0 L417.2 120.4 L418.7 117.7 L420.2 115.0 L421.7 112.2 L423.2 109.4 L424.7 106.5 L426.2 103.7 L427.7 101.0 L429.1 98.6 L430.6 96.3 L432.0 94.1 L433.6 91.8 L435.5 89.0 L437.4 86.2 L439.4 83.4 L441.5 80.8 L443.5 78.3 L445.4 76.0 L447.5 73.8 L449.5 72.0 L451.1 70.8 L452.7 69.8 L454.4 69.1 L456.0 68.5 L457.5 68.2 L459.0 68.0 L460.5 68.0 L462.0 68.3 L464.0 69.2 L466.0 70.6 L468.0 72.3 L470.0 74.1 L472.3 76.3 L474.5 78.7 L476.8 81.1 L479.0 83.7 L481.2 86.3 L483.4 89.0 L485.7 91.7 L488.0 94.5 L490.9 97.8 L493.9 101.2 L497.0 104.6 L500.0 107.9 L502.9 111.3 L505.7 114.7 L508.5 118.0 L511.5 121.1 L514.3 123.8 L517.2 126.3 L520.2 128.6 L523.4 130.7 L527.3 132.7 L531.5 134.4 L535.8 135.9 L540.0 137.6 L543.8 139.3 L547.7 141.2 L551.4 142.9 L555.0 144.3 L558.0 145.3 L560.8 146.1 L563.6 146.7 L566.5 147.1 L569.4 147.4 L572.2 147.5 L575.1 147.4 L578.0 147.3 L580.9 147.0 L583.8 146.5 L586.7 146.0 L589.6 145.6 L592.5 145.4 L595.5 145.2 L598.4 145.2 L601.2 145.4 L603.6 145.9 L606.0 146.5 L608.3 147.3 L610.4 148.1 L612.0 148.8 L613.5 149.5 L614.9 150.3 L616.2 151.2 L617.1 151.8 L618.0 152.6 L618.8 153.3 L619.7 154.1 L621.0 155.2 L622.4 156.3 L623.7 157.5 L625.0 158.6 L625.9 159.5 L626.8 160.4 L627.6 161.2 L628.5 161.9 L629.3 162.6 L630.2 163.2 L631.0 163.7 L631.9 164.2 L632.8 164.5 L633.6 164.8 L634.5 165.1 L635.4 165.2 L636.3 165.2 L637.2 165.2 L638.1 165.0 L638.9 164.7 L639.6 164.2 L640.2 163.6 L640.7 162.9 L641.2 162.1 L641.7 161.1 L642.1 160.0 L642.5 158.7 L642.9 157.4 L643.4 155.7 L643.8 153.8 L644.2 151.8 L644.6 149.7 L645.1 147.4 L645.5 145.0 L646.0 142.5 L646.4 140.0 L646.8 137.3 L647.3 134.5 L647.7 131.7 L648.1 128.8 L648.5 125.3 L648.9 121.7 L649.4 118.2 L650.0 114.8 L650.6 112.0 L651.3 109.3 L652.1 106.8 L653.0 104.8 L653.6 103.7 L654.3 102.7 L655.0 102.0 L655.7 101.7 L656.4 102.0 L657.1 102.7 L657.8 103.8 L658.5 104.8 L659.2 106.2 L659.9 107.8 L660.4 109.4 L661.0 111.0 L661.5 112.5 L662.0 114.0 L662.5 115.5 L663.0 117.0 L663.5 118.7 L664.0 120.4 L664.5 122.2 L665.0 124.0 L665.7 126.4 L666.4 128.9 L667.2 131.4 L668.0 133.8 L668.7 136.0 L669.5 138.2 L670.2 140.4 L671.0 142.6 L671.7 144.8 L672.5 147.0 L673.3 149.1 L674.0 151.1 L674.6 152.6 L675.2 154.1 L675.8 155.4 L676.4 156.6 L676.9 157.4 L677.4 158.1 L678.0 158.8 L678.5 159.5"/>
<path class="c" d="M397.8 157.6 L399.0 155.2 L400.2 152.8 L401.4 150.4 L402.6 148.1 L403.8 145.9 L405.1 143.8 L406.4 141.8 L407.6 139.6 L408.7 137.6 L409.7 135.4 L410.8 133.3 L411.8 131.2 L412.8 129.3 L413.7 127.5 L414.7 125.6 L415.8 123.6 L417.2 121.0 L418.7 118.3 L420.2 115.6 L421.7 112.9 L423.2 110.0 L424.7 107.1 L426.2 104.3 L427.7 101.5 L429.1 99.2 L430.6 96.9 L432.0 94.6 L433.6 92.2 L435.5 89.5 L437.4 86.7 L439.4 83.9 L441.5 81.2 L443.5 78.9 L445.4 76.5 L447.5 74.4 L449.5 72.5 L451.1 71.4 L452.7 70.4 L454.4 69.5 L456.0 69.0 L457.5 68.6 L459.0 68.3 L460.5 68.3 L462.0 68.7 L464.0 69.7 L466.0 71.2 L468.0 73.1 L470.0 75.0 L472.3 77.3 L474.5 79.8 L476.8 82.4 L479.0 85.0 L481.2 87.8 L483.4 90.6 L485.6 93.5 L488.0 96.4 L490.9 99.8 L493.9 103.2 L497.0 106.7 L500.0 110.2 L502.9 113.7 L505.7 117.2 L508.5 120.6 L511.5 123.7 L514.3 126.4 L517.2 128.9 L520.2 131.2 L523.4 133.2 L527.3 135.2 L531.5 136.7 L535.8 138.2 L540.0 139.8 L543.8 141.4 L547.7 143.1 L551.4 144.8 L555.0 146.1 L558.0 147.0 L560.8 147.7 L563.6 148.2 L566.5 148.6 L569.4 148.7 L572.2 148.7 L575.1 148.5 L578.0 148.2 L580.9 147.8 L583.8 147.1 L586.7 146.5 L589.6 146.1 L592.5 145.8 L595.5 145.6 L598.4 145.6 L601.2 145.8 L603.6 146.3 L606.0 147.0 L608.3 147.8 L610.4 148.7 L612.0 149.5 L613.5 150.3 L614.9 151.2 L616.2 152.1 L617.1 152.8 L618.0 153.6 L618.8 154.4 L619.7 155.2 L621.0 156.4 L622.4 157.7 L623.7 159.0 L625.0 160.2 L625.9 161.1 L626.8 162.0 L627.6 162.9 L628.5 163.6 L629.3 164.3 L630.2 164.9 L631.0 165.5 L631.9 165.9 L632.8 166.3 L633.6 166.6 L634.5 166.8 L635.4 166.9 L636.3 167.0 L637.2 166.9 L638.1 166.7 L638.9 166.4 L639.6 165.8 L640.2 165.2 L640.7 164.4 L641.2 163.6 L641.7 162.5 L642.1 161.3 L642.5 160.1 L642.9 158.7 L643.4 156.9 L643.8 154.9 L644.2 152.9 L644.6 150.8 L645.1 148.4 L645.5 146.0 L646.0 143.4 L646.4 140.9 L646.8 138.2 L647.3 135.4 L647.7 132.5 L648.1 129.6 L648.5 126.1 L648.9 122.5 L649.4 119.0 L650.0 115.6 L650.6 112.8 L651.3 110.1 L652.1 107.6 L653.0 105.6 L653.6 104.5 L654.3 103.5 L655.0 102.7 L655.7 102.5 L656.4 102.8 L657.1 103.5 L657.8 104.6 L658.5 105.6 L659.2 107.0 L659.9 108.6 L660.4 110.3 L661.0 111.9 L661.5 113.4 L662.0 114.9 L662.5 116.4 L663.0 117.9 L663.5 119.6 L664.0 121.3 L664.5 123.1 L665.0 124.9 L665.7 127.2 L666.4 129.7 L667.2 132.2 L668.0 134.6 L668.7 136.8 L669.5 139.0 L670.2 141.1 L671.0 143.3 L671.7 145.5 L672.5 147.6 L673.3 149.7 L674.0 151.7 L674.6 153.2 L675.2 154.6 L675.8 155.9 L676.4 157.1 L676.9 157.9 L677.4 158.6 L678.0 159.3 L678.5 159.9"/>
<path class="c" d="M397.8 158.1 L399.0 155.7 L400.2 153.3 L401.4 150.9 L402.6 148.6 L403.8 146.4 L405.1 144.3 L406.4 142.1 L407.6 140.0 L408.7 137.9 L409.7 135.9 L410.8 133.8 L411.8 131.8 L412.8 129.8 L413.7 128.0 L414.7 126.1 L415.8 124.1 L417.2 121.6 L418.7 118.9 L420.2 116.2 L421.7 113.5 L423.2 110.6 L424.7 107.7 L426.2 104.9 L427.7 102.1 L429.1 99.7 L430.6 97.4 L432.0 95.1 L433.6 92.8 L435.5 90.0 L437.4 87.2 L439.4 84.4 L441.5 81.8 L443.5 79.4 L445.5 77.1 L447.5 74.9 L449.5 73.1 L451.1 71.9 L452.7 70.9 L454.4 70.0 L456.0 69.4 L457.5 69.0 L459.0 68.7 L460.5 68.7 L462.0 69.0 L464.0 70.1 L466.0 71.8 L468.0 73.8 L470.0 75.9 L472.3 78.3 L474.5 80.9 L476.8 83.6 L479.0 86.3 L481.2 89.2 L483.4 92.2 L485.6 95.2 L488.0 98.3 L490.9 101.8 L493.9 105.3 L497.0 108.9 L500.0 112.5 L502.9 116.0 L505.7 119.6 L508.5 123.1 L511.5 126.3 L514.3 129.0 L517.2 131.4 L520.2 133.7 L523.4 135.8 L527.3 137.6 L531.5 139.1 L535.8 140.5 L540.0 141.9 L543.8 143.5 L547.7 145.1 L551.4 146.7 L555.0 147.9 L558.0 148.7 L560.8 149.3 L563.6 149.8 L566.5 150.1 L569.4 150.1 L572.2 149.9 L575.1 149.6 L578.0 149.1 L580.9 148.6 L583.8 147.8 L586.7 147.1 L589.6 146.6 L592.5 146.2 L595.5 146.0 L598.4 146.0 L601.2 146.2 L603.7 146.7 L606.0 147.5 L608.3 148.4 L610.4 149.3 L612.0 150.1 L613.5 151.0 L614.9 152.0 L616.2 152.9 L617.2 153.8 L618.0 154.6 L618.8 155.5 L619.7 156.4 L621.0 157.7 L622.4 159.1 L623.7 160.5 L625.0 161.8 L625.9 162.8 L626.8 163.7 L627.6 164.5 L628.5 165.3 L629.3 166.0 L630.2 166.7 L631.0 167.2 L631.9 167.7 L632.8 168.1 L633.6 168.4 L634.5 168.6 L635.4 168.7 L636.3 168.7 L637.2 168.6 L638.1 168.4 L638.9 168.0 L639.6 167.4 L640.2 166.7 L640.7 165.9 L641.2 165.1 L641.7 163.9 L642.1 162.7 L642.5 161.4 L642.9 160.0 L643.4 158.1 L643.8 156.1 L644.2 154.0 L644.6 151.9 L645.1 149.4 L645.5 146.9 L646.0 144.4 L646.4 141.8 L646.8 139.0 L647.3 136.2 L647.7 133.3 L648.1 130.4 L648.5 126.9 L648.9 123.3 L649.4 119.8 L650.0 116.4 L650.6 113.6 L651.3 110.9 L652.1 108.4 L653.0 106.4 L653.6 105.3 L654.3 104.3 L655.0 103.5 L655.7 103.2 L656.4 103.5 L657.1 104.3 L657.8 105.3 L658.5 106.4 L659.2 107.8 L659.9 109.4 L660.4 111.1 L661.0 112.8 L661.5 114.3 L662.0 115.7 L662.5 117.2 L663.0 118.8 L663.5 120.5 L664.0 122.2 L664.5 123.9 L665.0 125.8 L665.7 128.1 L666.4 130.5 L667.2 133.0 L668.0 135.4 L668.7 137.6 L669.5 139.8 L670.2 141.9 L671.0 144.0 L671.7 146.2 L672.5 148.3 L673.3 150.4 L674.0 152.3 L674.6 153.8 L675.2 155.1 L675.8 156.4 L676.4 157.6 L676.9 158.4 L677.4 159.0 L678.0 159.7 L678.5 160.4"/>
<path class="c" d="M397.8 158.7 L399.0 156.3 L400.2 153.8 L401.4 151.4 L402.6 149.0 L403.8 146.8 L405.1 144.7 L406.4 142.5 L407.6 140.4 L408.7 138.3 L409.7 136.3 L410.8 134.3 L411.8 132.2 L412.8 130.4 L413.7 128.5 L414.7 126.7 L415.8 124.7 L417.2 122.2 L418.7 119.5 L420.2 116.8 L421.7 114.1 L423.2 111.3 L424.7 108.4 L426.2 105.5 L427.7 102.7 L429.1 100.3 L430.6 97.9 L432.0 95.6 L433.6 93.2 L435.5 90.5 L437.4 87.7 L439.4 84.9 L441.5 82.2 L443.5 79.9 L445.5 77.6 L447.5 75.5 L449.5 73.7 L451.1 72.4 L452.7 71.4 L454.4 70.5 L456.0 69.8 L457.5 69.4 L459.0 69.1 L460.5 69.1 L462.0 69.4 L464.0 70.5 L466.0 72.4 L468.0 74.6 L470.0 76.8 L472.3 79.3 L474.5 82.0 L476.8 84.8 L479.0 87.7 L481.2 90.7 L483.4 93.8 L485.6 96.9 L488.0 100.1 L490.9 103.7 L493.9 107.4 L497.0 111.1 L500.0 114.7 L502.9 118.4 L505.7 122.1 L508.5 125.6 L511.5 128.9 L514.3 131.6 L517.2 134.0 L520.2 136.3 L523.4 138.2 L527.3 140.0 L531.5 141.4 L535.8 142.7 L540.0 144.1 L543.8 145.6 L547.7 147.1 L551.4 148.6 L555.0 149.7 L558.0 150.4 L560.8 151.0 L563.7 151.4 L566.5 151.5 L569.4 151.4 L572.3 151.1 L575.1 150.6 L578.0 150.1 L580.9 149.4 L583.8 148.5 L586.7 147.6 L589.6 147.0 L592.5 146.6 L595.5 146.4 L598.4 146.4 L601.2 146.6 L603.7 147.1 L606.0 147.9 L608.3 148.9 L610.4 149.9 L612.0 150.8 L613.5 151.8 L614.9 152.8 L616.2 153.9 L617.2 154.7 L618.0 155.6 L618.8 156.6 L619.7 157.6 L621.0 159.0 L622.3 160.5 L623.7 162.0 L625.0 163.4 L625.9 164.4 L626.8 165.3 L627.6 166.2 L628.5 167.1 L629.3 167.8 L630.2 168.4 L631.0 169.0 L631.9 169.5 L632.8 169.9 L633.6 170.2 L634.5 170.4 L635.4 170.5 L636.3 170.4 L637.2 170.3 L638.1 170.0 L638.9 169.6 L639.6 169.0 L640.2 168.3 L640.7 167.4 L641.2 166.5 L641.7 165.4 L642.1 164.1 L642.5 162.7 L642.9 161.2 L643.4 159.3 L643.8 157.3 L644.2 155.1 L644.6 152.9 L645.1 150.5 L645.5 147.9 L646.0 145.3 L646.4 142.6 L646.8 139.8 L647.3 137.0 L647.7 134.2 L648.1 131.2 L648.5 127.7 L648.9 124.1 L649.4 120.6 L650.0 117.2 L650.6 114.4 L651.3 111.7 L652.1 109.2 L653.0 107.2 L653.6 106.1 L654.3 105.0 L655.0 104.3 L655.7 104.0 L656.4 104.3 L657.1 105.1 L657.8 106.1 L658.5 107.2 L659.2 108.6 L659.9 110.3 L660.4 112.0 L661.0 113.6 L661.5 115.1 L662.0 116.6 L662.5 118.1 L663.0 119.6 L663.5 121.3 L664.0 123.0 L664.5 124.8 L665.0 126.6 L665.7 128.9 L666.4 131.4 L667.2 133.8 L668.0 136.2 L668.7 138.4 L669.5 140.5 L670.2 142.7 L671.0 144.8 L671.7 146.9 L672.5 149.0 L673.3 151.0 L674.0 152.9 L674.6 154.3 L675.2 155.7 L675.8 156.9 L676.4 158.0 L676.9 158.8 L677.4 159.5 L678.0 160.1 L678.5 160.8"/>
<path class="c" d="M397.8 159.2 L399.0 156.8 L400.2 154.3 L401.4 151.9 L402.6 149.5 L403.8 147.3 L405.1 145.1 L406.4 142.9 L407.6 140.8 L408.7 138.7 L409.7 136.7 L410.8 134.7 L411.8 132.8 L412.8 130.9 L413.7 129.1 L414.7 127.2 L415.8 125.3 L417.2 122.8 L418.7 120.1 L420.2 117.5 L421.7 114.8 L423.2 111.9 L424.7 109.0 L426.2 106.0 L427.7 103.2 L429.1 100.8 L430.6 98.5 L432.0 96.1 L433.6 93.8 L435.5 91.0 L437.4 88.2 L439.4 85.4 L441.5 82.8 L443.5 80.4 L445.5 78.2 L447.5 76.1 L449.5 74.2 L451.1 73.0 L452.7 71.9 L454.4 70.9 L456.0 70.2 L457.5 69.8 L459.0 69.5 L460.5 69.4 L462.0 69.8 L464.0 71.0 L466.0 73.0 L468.0 75.3 L470.0 77.7 L472.3 80.3 L474.5 83.1 L476.8 86.0 L479.0 89.0 L481.2 92.2 L483.4 95.4 L485.6 98.7 L488.0 102.0 L490.9 105.7 L493.9 109.5 L497.0 113.2 L500.0 117.0 L502.9 120.7 L505.7 124.5 L508.5 128.2 L511.5 131.5 L514.3 134.2 L517.1 136.6 L520.2 138.8 L523.4 140.8 L527.3 142.5 L531.5 143.8 L535.8 145.0 L540.0 146.2 L543.8 147.7 L547.7 149.1 L551.4 150.5 L555.0 151.5 L558.0 152.2 L560.8 152.6 L563.7 152.9 L566.5 153.0 L569.4 152.8 L572.3 152.3 L575.1 151.7 L578.0 151.0 L580.9 150.2 L583.8 149.2 L586.7 148.2 L589.6 147.5 L592.5 147.1 L595.5 146.8 L598.4 146.7 L601.2 147.0 L603.7 147.6 L606.1 148.4 L608.3 149.4 L610.4 150.5 L612.0 151.5 L613.5 152.5 L614.9 153.6 L616.2 154.8 L617.2 155.7 L618.0 156.7 L618.8 157.7 L619.7 158.8 L621.0 160.3 L622.3 161.9 L623.7 163.5 L625.0 165.0 L625.9 166.0 L626.8 167.0 L627.6 167.9 L628.5 168.8 L629.3 169.5 L630.2 170.1 L631.0 170.7 L631.9 171.2 L632.8 171.6 L633.6 172.0 L634.5 172.2 L635.4 172.2 L636.3 172.2 L637.2 172.0 L638.1 171.7 L638.9 171.2 L639.6 170.6 L640.2 169.8 L640.7 168.9 L641.2 168.0 L641.7 166.8 L642.1 165.4 L642.5 164.0 L642.9 162.5 L643.4 160.5 L643.8 158.4 L644.2 156.2 L644.6 154.0 L645.1 151.5 L645.5 148.9 L646.0 146.2 L646.4 143.5 L646.8 140.7 L647.3 137.9 L647.7 135.0 L648.1 132.0 L648.5 128.5 L648.9 124.9 L649.4 121.4 L650.0 118.0 L650.6 115.2 L651.3 112.5 L652.1 110.0 L653.0 108.0 L653.6 106.9 L654.3 105.8 L655.0 105.1 L655.7 104.7 L656.4 105.1 L657.1 105.9 L657.8 106.9 L658.5 108.0 L659.2 109.4 L659.9 111.1 L660.4 112.8 L661.0 114.5 L661.5 116.0 L662.0 117.5 L662.5 119.0 L663.0 120.5 L663.5 122.2 L664.0 123.9 L664.5 125.7 L665.0 127.5 L665.7 129.8 L666.4 132.2 L667.2 134.6 L668.0 137.0 L668.7 139.2 L669.5 141.3 L670.2 143.4 L671.0 145.5 L671.7 147.6 L672.5 149.6 L673.2 151.6 L674.0 153.5 L674.6 154.9 L675.2 156.2 L675.8 157.4 L676.4 158.5 L676.9 159.3 L677.4 159.9 L678.0 160.6 L678.5 161.2"/>
<path class="c" d="M397.8 159.8 L399.0 157.3 L400.2 154.8 L401.4 152.4 L402.6 150.0 L403.8 147.7 L405.1 145.5 L406.4 143.3 L407.6 141.1 L408.7 139.1 L409.7 137.1 L410.8 135.2 L411.8 133.2 L412.8 131.4 L413.8 129.6 L414.7 127.8 L415.8 125.8 L417.2 123.3 L418.7 120.7 L420.2 118.1 L421.7 115.4 L423.2 112.5 L424.7 109.6 L426.2 106.6 L427.7 103.8 L429.1 101.4 L430.6 99.0 L432.0 96.6 L433.6 94.2 L435.5 91.5 L437.4 88.7 L439.4 85.9 L441.5 83.2 L443.5 80.9 L445.5 78.7 L447.5 76.6 L449.5 74.8 L451.1 73.5 L452.7 72.4 L454.4 71.4 L456.0 70.7 L457.5 70.2 L459.0 69.9 L460.5 69.8 L462.0 70.1 L464.0 71.4 L466.0 73.6 L468.0 76.1 L470.0 78.6 L472.3 81.3 L474.5 84.2 L476.8 87.3 L479.0 90.3 L481.2 93.6 L483.4 97.0 L485.6 100.4 L488.0 103.9 L490.8 107.7 L493.9 111.5 L497.0 115.4 L500.0 119.3 L502.8 123.1 L505.6 127.0 L508.5 130.7 L511.5 134.1 L514.3 136.8 L517.1 139.2 L520.2 141.3 L523.4 143.2 L527.3 144.9 L531.5 146.1 L535.8 147.2 L540.0 148.4 L543.8 149.7 L547.7 151.1 L551.4 152.3 L555.0 153.3 L558.0 153.9 L560.8 154.3 L563.7 154.5 L566.5 154.5 L569.4 154.1 L572.3 153.5 L575.1 152.7 L578.0 151.9 L580.9 151.0 L583.8 149.8 L586.7 148.7 L589.6 148.0 L592.5 147.5 L595.5 147.2 L598.4 147.1 L601.2 147.4 L603.7 148.0 L606.1 148.9 L608.3 150.0 L610.4 151.1 L612.0 152.1 L613.5 153.3 L614.9 154.5 L616.2 155.7 L617.2 156.7 L618.0 157.7 L618.8 158.8 L619.7 159.9 L621.0 161.5 L622.3 163.3 L623.7 165.0 L625.0 166.6 L625.9 167.7 L626.8 168.7 L627.6 169.6 L628.5 170.4 L629.3 171.2 L630.2 171.9 L631.0 172.5 L631.9 173.0 L632.8 173.4 L633.6 173.7 L634.5 173.9 L635.4 174.0 L636.3 173.9 L637.2 173.7 L638.1 173.4 L638.9 172.9 L639.6 172.2 L640.2 171.4 L640.7 170.5 L641.2 169.5 L641.7 168.2 L642.1 166.8 L642.5 165.3 L642.9 163.8 L643.4 161.7 L643.8 159.6 L644.2 157.4 L644.6 155.1 L645.1 152.5 L645.5 149.8 L646.0 147.1 L646.4 144.4 L646.8 141.5 L647.3 138.7 L647.7 135.8 L648.1 132.8 L648.5 129.3 L648.9 125.7 L649.4 122.2 L650.0 118.8 L650.6 116.0 L651.3 113.3 L652.1 110.8 L653.0 108.8 L653.6 107.7 L654.3 106.6 L655.0 105.8 L655.7 105.5 L656.4 105.8 L657.1 106.6 L657.9 107.7 L658.5 108.8 L659.2 110.3 L659.9 111.9 L660.4 113.7 L661.0 115.4 L661.5 116.9 L662.0 118.3 L662.5 119.8 L663.0 121.4 L663.5 123.1 L664.0 124.8 L664.5 126.5 L665.0 128.4 L665.7 130.6 L666.4 133.0 L667.2 135.5 L668.0 137.8 L668.7 140.0 L669.5 142.1 L670.2 144.2 L671.0 146.2 L671.7 148.3 L672.5 150.3 L673.2 152.3 L674.0 154.1 L674.6 155.4 L675.2 156.7 L675.8 157.9 L676.4 159.0 L676.9 159.7 L677.4 160.4 L678.0 161.0 L678.5 161.7"/>
<path class="c" d="M397.8 160.4 L399.0 157.9 L400.2 155.4 L401.4 152.9 L402.6 150.4 L403.8 148.1 L405.1 145.9 L406.4 143.7 L407.6 141.5 L408.7 139.5 L409.7 137.6 L410.8 135.7 L411.8 133.8 L412.8 131.9 L413.8 130.1 L414.7 128.3 L415.8 126.4 L417.2 123.9 L418.7 121.4 L420.2 118.7 L421.7 116.0 L423.2 113.1 L424.7 110.2 L426.2 107.2 L427.7 104.4 L429.1 101.9 L430.6 99.5 L432.0 97.2 L433.6 94.8 L435.5 92.0 L437.4 89.2 L439.4 86.4 L441.5 83.8 L443.5 81.5 L445.5 79.2 L447.5 77.2 L449.5 75.4 L451.1 74.1 L452.7 72.9 L454.4 71.9 L456.0 71.1 L457.5 70.6 L459.0 70.3 L460.5 70.2 L462.0 70.5 L464.0 71.9 L466.0 74.2 L468.0 76.8 L470.0 79.5 L472.3 82.3 L474.5 85.4 L476.8 88.5 L479.0 91.7 L481.2 95.1 L483.4 98.6 L485.6 102.2 L488.0 105.7 L490.8 109.7 L493.9 113.6 L497.0 117.6 L500.0 121.5 L502.8 125.5 L505.6 129.5 L508.5 133.3 L511.5 136.7 L514.3 139.4 L517.1 141.8 L520.1 143.9 L523.4 145.8 L527.3 147.3 L531.5 148.5 L535.8 149.5 L540.0 150.6 L543.8 151.8 L547.7 153.1 L551.4 154.2 L555.0 155.1 L558.0 155.6 L560.8 155.9 L563.7 156.1 L566.5 155.9 L569.4 155.5 L572.3 154.7 L575.1 153.8 L578.0 152.9 L580.9 151.8 L583.8 150.5 L586.7 149.3 L589.6 148.4 L592.5 147.9 L595.5 147.6 L598.4 147.5 L601.2 147.8 L603.7 148.4 L606.1 149.4 L608.3 150.5 L610.4 151.7 L612.0 152.8 L613.5 154.0 L614.9 155.3 L616.2 156.6 L617.2 157.6 L618.0 158.7 L618.8 159.9 L619.7 161.1 L621.0 162.8 L622.3 164.7 L623.7 166.5 L625.0 168.2 L625.9 169.3 L626.8 170.3 L627.6 171.3 L628.5 172.2 L629.3 172.9 L630.2 173.6 L631.0 174.3 L631.9 174.8 L632.8 175.2 L633.6 175.5 L634.5 175.7 L635.4 175.8 L636.3 175.7 L637.2 175.4 L638.1 175.0 L638.9 174.5 L639.6 173.8 L640.2 172.9 L640.7 172.0 L641.2 170.9 L641.7 169.6 L642.1 168.2 L642.5 166.6 L642.9 165.0 L643.4 163.0 L643.8 160.8 L644.2 158.5 L644.6 156.1 L645.1 153.5 L645.5 150.8 L646.0 148.0 L646.4 145.2 L646.8 142.4 L647.3 139.5 L647.7 136.6 L648.1 133.6 L648.5 130.1 L648.9 126.5 L649.4 123.0 L650.0 119.6 L650.6 116.8 L651.3 114.1 L652.1 111.6 L653.0 109.6 L653.6 108.4 L654.3 107.4 L655.0 106.6 L655.7 106.3 L656.4 106.6 L657.1 107.4 L657.9 108.5 L658.5 109.6 L659.2 111.1 L659.9 112.8 L660.4 114.5 L661.0 116.2 L661.5 117.7 L662.0 119.2 L662.5 120.7 L663.0 122.2 L663.5 123.9 L664.0 125.6 L664.5 127.4 L665.0 129.2 L665.7 131.5 L666.4 133.9 L667.2 136.3 L668.0 138.6 L668.7 140.7 L669.5 142.8 L670.2 144.9 L671.0 147.0 L671.7 149.0 L672.5 151.0 L673.2 152.9 L674.0 154.7 L674.6 156.0 L675.2 157.2 L675.8 158.4 L676.4 159.4 L676.9 160.2 L677.4 160.8 L678.0 161.5 L678.5 162.1"/>
<path class="c" d="M397.8 160.9 L399.0 158.4 L400.2 155.9 L401.4 153.4 L402.6 150.9 L403.8 148.6 L405.1 146.3 L406.4 144.0 L407.6 141.8 L408.7 139.9 L409.7 138.0 L410.8 136.1 L411.8 134.3 L412.8 132.4 L413.8 130.7 L414.7 128.9 L415.8 127.0 L417.2 124.5 L418.7 122.0 L420.2 119.3 L421.7 116.6 L423.2 113.8 L424.7 110.8 L426.2 107.8 L427.7 104.9 L429.1 102.5 L430.6 100.1 L432.0 97.7 L433.6 95.2 L435.4 92.5 L437.4 89.6 L439.4 86.9 L441.5 84.2 L443.5 82.0 L445.5 79.8 L447.5 77.8 L449.5 75.9 L451.1 74.6 L452.7 73.4 L454.4 72.3 L456.0 71.5 L457.5 71.0 L459.0 70.6 L460.5 70.5 L462.0 70.8 L464.0 72.3 L466.0 74.7 L468.0 77.6 L470.0 80.4 L472.3 83.4 L474.5 86.5 L476.8 89.7 L479.0 93.0 L481.2 96.5 L483.4 100.2 L485.6 103.9 L488.0 107.6 L490.8 111.6 L493.9 115.7 L497.0 119.8 L500.0 123.8 L502.8 127.8 L505.6 131.9 L508.5 135.8 L511.5 139.3 L514.3 142.0 L517.1 144.3 L520.1 146.4 L523.4 148.2 L527.3 149.8 L531.5 150.8 L535.8 151.8 L540.0 152.8 L543.8 153.9 L547.7 155.1 L551.4 156.1 L555.0 156.9 L558.0 157.3 L560.8 157.6 L563.7 157.6 L566.5 157.4 L569.4 156.8 L572.3 155.9 L575.1 154.9 L578.0 153.8 L580.9 152.6 L583.8 151.2 L586.7 149.9 L589.6 148.9 L592.5 148.3 L595.5 148.0 L598.4 147.9 L601.2 148.2 L603.7 148.9 L606.1 149.8 L608.3 151.0 L610.4 152.3 L612.0 153.5 L613.6 154.8 L614.9 156.1 L616.2 157.4 L617.2 158.6 L618.0 159.8 L618.8 161.0 L619.7 162.2 L621.0 164.1 L622.3 166.1 L623.7 168.0 L625.0 169.8 L625.9 170.9 L626.8 172.0 L627.6 172.9 L628.5 173.8 L629.3 174.6 L630.2 175.4 L631.0 176.0 L631.9 176.6 L632.8 177.0 L633.6 177.3 L634.5 177.5 L635.4 177.6 L636.3 177.4 L637.2 177.1 L638.1 176.7 L638.9 176.2 L639.6 175.4 L640.2 174.5 L640.7 173.5 L641.2 172.4 L641.7 171.0 L642.1 169.5 L642.5 168.0 L642.9 166.3 L643.4 164.2 L643.8 161.9 L644.2 159.6 L644.6 157.2 L645.1 154.5 L645.5 151.7 L646.0 148.9 L646.4 146.1 L646.8 143.2 L647.3 140.3 L647.7 137.4 L648.1 134.4 L648.5 130.9 L648.9 127.3 L649.4 123.8 L650.0 120.4 L650.6 117.6 L651.3 114.9 L652.1 112.4 L653.0 110.4 L653.6 109.2 L654.3 108.2 L655.0 107.4 L655.7 107.0 L656.4 107.4 L657.1 108.2 L657.9 109.3 L658.5 110.4 L659.2 111.9 L659.9 113.6 L660.4 115.4 L661.0 117.1 L661.5 118.6 L662.0 120.1 L662.5 121.6 L663.0 123.1 L663.5 124.8 L664.0 126.5 L664.5 128.3 L665.0 130.1 L665.7 132.3 L666.4 134.7 L667.2 137.1 L668.0 139.4 L668.7 141.5 L669.5 143.6 L670.2 145.7 L671.0 147.7 L671.7 149.7 L672.5 151.7 L673.2 153.6 L674.0 155.3 L674.6 156.6 L675.2 157.8 L675.8 158.9 L676.4 159.9 L676.9 160.6 L677.4 161.3 L678.0 161.9 L678.5 162.6"/>
<path class="c" d="M397.8 161.5 L399.0 159.0 L400.2 156.4 L401.4 153.9 L402.6 151.4 L403.8 149.0 L405.1 146.7 L406.4 144.4 L407.6 142.2 L408.7 140.3 L409.7 138.4 L410.8 136.6 L411.8 134.8 L412.8 133.0 L413.8 131.2 L414.7 129.4 L415.8 127.5 L417.2 125.1 L418.7 122.6 L420.2 119.9 L421.7 117.3 L423.2 114.4 L424.7 111.4 L426.2 108.4 L427.7 105.5 L429.1 103.0 L430.5 100.6 L432.0 98.2 L433.6 95.8 L435.4 93.0 L437.4 90.1 L439.4 87.4 L441.5 84.8 L443.5 82.5 L445.5 80.3 L447.5 78.3 L449.5 76.5 L451.1 75.1 L452.7 73.9 L454.4 72.8 L456.0 72.0 L457.5 71.4 L459.0 71.0 L460.5 70.9 L462.0 71.2 L464.1 72.8 L466.0 75.3 L468.0 78.3 L470.0 81.3 L472.3 84.4 L474.5 87.6 L476.8 90.9 L479.0 94.3 L481.2 98.0 L483.4 101.8 L485.6 105.6 L488.0 109.5 L490.8 113.6 L493.9 117.8 L497.0 121.9 L500.0 126.1 L502.8 130.2 L505.6 134.4 L508.5 138.4 L511.5 141.9 L514.3 144.5 L517.1 146.9 L520.1 149.0 L523.4 150.8 L527.3 152.2 L531.5 153.2 L535.8 154.0 L540.0 154.9 L543.8 156.0 L547.7 157.1 L551.4 158.0 L555.0 158.7 L558.0 159.0 L560.9 159.2 L563.7 159.2 L566.5 158.9 L569.4 158.2 L572.3 157.1 L575.1 155.9 L578.0 154.7 L580.9 153.4 L583.8 151.8 L586.7 150.4 L589.6 149.4 L592.5 148.7 L595.5 148.4 L598.4 148.3 L601.2 148.6 L603.7 149.3 L606.1 150.3 L608.3 151.6 L610.4 152.9 L612.1 154.1 L613.6 155.5 L614.9 156.9 L616.2 158.4 L617.2 159.6 L618.0 160.8 L618.8 162.1 L619.7 163.4 L621.0 165.3 L622.3 167.5 L623.7 169.6 L625.0 171.4 L625.9 172.6 L626.8 173.6 L627.6 174.6 L628.5 175.6 L629.3 176.3 L630.2 177.1 L631.0 177.8 L631.9 178.3 L632.8 178.7 L633.6 179.1 L634.5 179.3 L635.4 179.3 L636.3 179.2 L637.2 178.8 L638.1 178.4 L638.9 177.8 L639.6 177.0 L640.2 176.0 L640.7 175.0 L641.2 173.9 L641.7 172.4 L642.1 170.9 L642.5 169.3 L642.9 167.6 L643.4 165.4 L643.8 163.1 L644.2 160.7 L644.6 158.3 L645.1 155.5 L645.5 152.7 L646.0 149.8 L646.4 147.0 L646.8 144.1 L647.3 141.2 L647.7 138.2 L648.1 135.2 L648.5 131.7 L648.9 128.1 L649.4 124.5 L650.0 121.2 L650.6 118.4 L651.3 115.7 L652.1 113.2 L653.0 111.2 L653.6 110.0 L654.3 108.9 L655.0 108.1 L655.7 107.8 L656.4 108.1 L657.1 109.0 L657.9 110.1 L658.5 111.2 L659.2 112.7 L659.8 114.4 L660.4 116.2 L661.0 118.0 L661.5 119.5 L662.0 121.0 L662.5 122.4 L663.0 124.0 L663.5 125.7 L664.0 127.4 L664.5 129.1 L665.0 131.0 L665.7 133.2 L666.4 135.5 L667.2 137.9 L668.0 140.2 L668.7 142.3 L669.5 144.4 L670.2 146.4 L671.0 148.4 L671.7 150.4 L672.5 152.3 L673.2 154.2 L674.0 155.9 L674.6 157.1 L675.2 158.3 L675.8 159.4 L676.4 160.4 L676.9 161.1 L677.4 161.7 L678.0 162.4 L678.5 163.0"/>
<path class="c" d="M397.8 162.1 L399.0 159.5 L400.2 156.9 L401.4 154.3 L402.6 151.8 L403.8 149.5 L405.1 147.1 L406.4 144.8 L407.6 142.6 L408.7 140.7 L409.7 138.9 L410.8 137.1 L411.8 135.2 L412.8 133.5 L413.8 131.7 L414.7 130.0 L415.8 128.1 L417.2 125.7 L418.7 123.2 L420.2 120.6 L421.7 117.9 L423.2 115.0 L424.7 112.0 L426.2 109.0 L427.7 106.1 L429.1 103.6 L430.5 101.1 L432.0 98.7 L433.6 96.2 L435.4 93.5 L437.4 90.6 L439.4 87.9 L441.5 85.2 L443.5 83.0 L445.5 80.9 L447.5 78.9 L449.5 77.1 L451.1 75.7 L452.7 74.4 L454.3 73.3 L456.0 72.4 L457.5 71.8 L459.0 71.4 L460.5 71.3 L462.0 71.6 L464.1 73.2 L466.1 75.9 L468.0 79.1 L470.0 82.2 L472.2 85.4 L474.5 88.7 L476.8 92.2 L479.0 95.7 L481.2 99.5 L483.4 103.4 L485.6 107.4 L488.0 111.3 L490.8 115.6 L493.9 119.8 L497.0 124.1 L500.0 128.3 L502.8 132.6 L505.6 136.8 L508.5 140.9 L511.5 144.5 L514.3 147.1 L517.1 149.5 L520.1 151.5 L523.4 153.2 L527.3 154.6 L531.5 155.5 L535.8 156.3 L540.0 157.1 L543.8 158.0 L547.7 159.0 L551.4 159.9 L555.0 160.5 L558.0 160.8 L560.9 160.9 L563.7 160.7 L566.5 160.3 L569.4 159.5 L572.3 158.4 L575.1 157.0 L578.0 155.7 L580.9 154.2 L583.8 152.5 L586.7 151.0 L589.6 149.8 L592.5 149.2 L595.5 148.8 L598.4 148.7 L601.2 149.0 L603.7 149.7 L606.1 150.8 L608.3 152.1 L610.4 153.5 L612.1 154.8 L613.6 156.3 L614.9 157.8 L616.2 159.2 L617.2 160.5 L618.0 161.8 L618.8 163.2 L619.7 164.6 L621.0 166.6 L622.3 168.9 L623.7 171.1 L625.0 173.0 L625.9 174.2 L626.8 175.3 L627.6 176.3 L628.5 177.2 L629.3 178.1 L630.2 178.8 L631.0 179.5 L631.9 180.1 L632.7 180.5 L633.6 180.8 L634.5 181.0 L635.4 181.1 L636.3 180.9 L637.2 180.5 L638.1 180.0 L638.9 179.4 L639.6 178.6 L640.2 177.6 L640.7 176.5 L641.2 175.3 L641.7 173.9 L642.1 172.3 L642.5 170.6 L642.9 168.8 L643.4 166.6 L643.8 164.3 L644.2 161.8 L644.6 159.3 L645.1 156.5 L645.5 153.7 L646.0 150.7 L646.4 147.8 L646.8 144.9 L647.3 142.0 L647.7 139.0 L648.1 136.0 L648.5 132.5 L648.9 128.9 L649.4 125.3 L650.0 122.0 L650.6 119.2 L651.3 116.5 L652.1 114.1 L653.0 112.0 L653.6 110.8 L654.3 109.7 L655.0 108.9 L655.7 108.6 L656.4 108.9 L657.1 109.8 L657.9 110.9 L658.5 112.0 L659.2 113.5 L659.8 115.3 L660.4 117.1 L661.0 118.8 L661.5 120.3 L662.0 121.8 L662.5 123.3 L663.0 124.8 L663.5 126.5 L664.0 128.2 L664.5 130.0 L665.0 131.8 L665.7 134.1 L666.4 136.4 L667.2 138.7 L668.0 141.0 L668.7 143.1 L669.5 145.1 L670.2 147.2 L671.0 149.2 L671.7 151.1 L672.5 153.0 L673.2 154.8 L674.0 156.5 L674.6 157.7 L675.2 158.8 L675.8 159.9 L676.4 160.8 L676.9 161.5 L677.4 162.2 L678.0 162.8 L678.5 163.4"/>
<path class="c" d="M397.8 162.7 L399.0 160.0 L400.2 157.4 L401.4 154.8 L402.6 152.3 L403.8 149.9 L405.1 147.5 L406.4 145.2 L407.6 142.9 L408.7 141.1 L409.7 139.3 L410.8 137.5 L411.8 135.8 L412.8 134.0 L413.8 132.3 L414.7 130.5 L415.8 128.7 L417.2 126.3 L418.7 123.8 L420.2 121.2 L421.7 118.5 L423.2 115.6 L424.7 112.6 L426.2 109.6 L427.7 106.7 L429.1 104.1 L430.5 101.6 L432.0 99.2 L433.6 96.8 L435.4 94.0 L437.4 91.1 L439.4 88.3 L441.5 85.8 L443.5 83.5 L445.5 81.4 L447.5 79.4 L449.5 77.7 L451.1 76.2 L452.7 74.9 L454.3 73.7 L456.0 72.9 L457.5 72.3 L459.0 71.8 L460.5 71.6 L462.0 71.9 L464.1 73.6 L466.1 76.5 L468.0 79.8 L470.0 83.1 L472.2 86.4 L474.5 89.8 L476.8 93.4 L479.0 97.0 L481.2 100.9 L483.4 105.0 L485.6 109.1 L488.0 113.2 L490.8 117.6 L493.9 121.9 L497.0 126.3 L500.0 130.6 L502.8 134.9 L505.6 139.3 L508.4 143.5 L511.5 147.1 L514.3 149.7 L517.1 152.1 L520.1 154.1 L523.4 155.8 L527.3 157.1 L531.5 157.9 L535.8 158.5 L540.0 159.2 L543.8 160.1 L547.7 161.0 L551.4 161.8 L555.0 162.3 L558.0 162.5 L560.9 162.5 L563.7 162.3 L566.5 161.8 L569.4 160.9 L572.3 159.6 L575.1 158.1 L578.0 156.6 L580.9 155.0 L583.8 153.2 L586.6 151.5 L589.6 150.3 L592.5 149.6 L595.5 149.2 L598.4 149.1 L601.2 149.4 L603.7 150.1 L606.1 151.3 L608.3 152.6 L610.4 154.1 L612.1 155.5 L613.6 157.0 L614.9 158.6 L616.2 160.2 L617.2 161.5 L618.0 162.9 L618.8 164.3 L619.7 165.8 L621.0 167.9 L622.3 170.3 L623.7 172.6 L625.0 174.6 L625.9 175.8 L626.8 177.0 L627.6 178.0 L628.5 178.9 L629.3 179.8 L630.2 180.6 L631.0 181.3 L631.9 181.8 L632.7 182.3 L633.6 182.6 L634.5 182.8 L635.4 182.9 L636.3 182.6 L637.2 182.3 L638.1 181.7 L638.9 181.1 L639.6 180.2 L640.2 179.2 L640.7 178.0 L641.2 176.8 L641.7 175.3 L642.1 173.6 L642.5 171.9 L642.9 170.1 L643.4 167.8 L643.8 165.4 L644.2 162.9 L644.6 160.4 L645.1 157.6 L645.5 154.6 L646.0 151.7 L646.4 148.7 L646.8 145.8 L647.3 142.8 L647.7 139.8 L648.1 136.8 L648.5 133.3 L648.9 129.7 L649.4 126.1 L650.0 122.8 L650.6 120.0 L651.3 117.3 L652.1 114.9 L653.0 112.8 L653.6 111.6 L654.3 110.5 L655.0 109.7 L655.7 109.3 L656.4 109.7 L657.1 110.5 L657.9 111.7 L658.5 112.8 L659.2 114.3 L659.8 116.1 L660.4 117.9 L661.0 119.7 L661.5 121.2 L662.0 122.7 L662.5 124.2 L663.0 125.7 L663.5 127.4 L664.0 129.1 L664.5 130.9 L665.0 132.7 L665.7 134.9 L666.4 137.2 L667.2 139.5 L668.0 141.8 L668.7 143.9 L669.5 145.9 L670.2 147.9 L671.0 149.9 L671.7 151.8 L672.5 153.7 L673.2 155.5 L674.0 157.1 L674.6 158.3 L675.2 159.4 L675.8 160.4 L676.4 161.3 L676.9 162.0 L677.4 162.6 L678.0 163.2 L678.5 163.8"/>
<path class="c" d="M397.8 163.2 L399.0 160.6 L400.2 158.0 L401.4 155.3 L402.6 152.8 L403.8 150.3 L405.1 147.9 L406.4 145.6 L407.6 143.3 L408.7 141.5 L409.7 139.7 L410.8 138.0 L411.8 136.2 L412.8 134.5 L413.8 132.8 L414.7 131.1 L415.8 129.2 L417.2 126.9 L418.7 124.4 L420.2 121.8 L421.7 119.2 L423.2 116.2 L424.7 113.2 L426.2 110.1 L427.7 107.2 L429.1 104.7 L430.5 102.2 L432.0 99.7 L433.6 97.2 L435.4 94.5 L437.4 91.6 L439.4 88.8 L441.5 86.2 L443.5 84.0 L445.5 82.0 L447.5 80.0 L449.5 78.2 L451.1 76.8 L452.7 75.4 L454.3 74.2 L456.0 73.3 L457.5 72.7 L459.0 72.2 L460.5 72.0 L462.0 72.3 L464.1 74.1 L466.1 77.1 L468.0 80.6 L470.0 84.0 L472.2 87.4 L474.5 91.0 L476.8 94.6 L479.0 98.3 L481.2 102.4 L483.4 106.6 L485.6 110.8 L488.0 115.1 L490.8 119.5 L493.9 124.0 L497.0 128.5 L500.0 132.9 L502.8 137.3 L505.6 141.8 L508.4 146.0 L511.5 149.7 L514.3 152.3 L517.1 154.6 L520.1 156.6 L523.4 158.2 L527.3 159.5 L531.5 160.2 L535.8 160.8 L540.0 161.4 L543.8 162.2 L547.7 163.0 L551.4 163.7 L555.0 164.1 L558.0 164.2 L560.9 164.1 L563.7 163.9 L566.5 163.3 L569.4 162.2 L572.3 160.8 L575.2 159.1 L578.0 157.5 L580.9 155.8 L583.8 153.8 L586.6 152.1 L589.6 150.8 L592.5 150.0 L595.5 149.6 L598.4 149.5 L601.2 149.8 L603.7 150.6 L606.1 151.8 L608.3 153.2 L610.4 154.7 L612.1 156.2 L613.6 157.7 L614.9 159.4 L616.2 161.1 L617.2 162.5 L618.0 163.9 L618.8 165.3 L619.7 166.9 L621.0 169.2 L622.3 171.7 L623.7 174.1 L625.0 176.2 L625.9 177.5 L626.7 178.6 L627.6 179.7 L628.5 180.6 L629.3 181.5 L630.2 182.3 L631.0 183.0 L631.9 183.6 L632.7 184.0 L633.6 184.4 L634.5 184.6 L635.4 184.6 L636.3 184.4 L637.2 184.0 L638.1 183.4 L638.9 182.7 L639.6 181.8 L640.2 180.7 L640.7 179.5 L641.2 178.3 L641.7 176.7 L642.1 175.0 L642.5 173.2 L642.9 171.4 L643.4 169.0 L643.8 166.6 L644.2 164.1 L644.6 161.5 L645.1 158.6 L645.5 155.6 L646.0 152.6 L646.4 149.6 L646.8 146.6 L647.3 143.6 L647.7 140.7 L648.1 137.6 L648.5 134.1 L648.9 130.5 L649.4 126.9 L650.0 123.6 L650.6 120.8 L651.3 118.1 L652.1 115.7 L653.0 113.6 L653.6 112.4 L654.3 111.3 L655.0 110.4 L655.7 110.1 L656.4 110.5 L657.1 111.3 L657.9 112.4 L658.5 113.6 L659.2 115.2 L659.8 116.9 L660.4 118.8 L661.0 120.6 L661.5 122.1 L662.0 123.6 L662.5 125.0 L663.0 126.6 L663.5 128.3 L664.0 130.0 L664.5 131.7 L665.0 133.6 L665.7 135.8 L666.4 138.1 L667.2 140.4 L668.0 142.6 L668.7 144.7 L669.5 146.7 L670.2 148.7 L671.0 150.6 L671.7 152.5 L672.5 154.3 L673.2 156.1 L674.0 157.7 L674.6 158.8 L675.2 159.9 L675.8 160.9 L676.4 161.8 L676.9 162.5 L677.4 163.1 L678.0 163.7 L678.5 164.3"/></g>
<path d="M39.50 277.50h9 M39.50 272.38h4.5 M39.50 267.26h4.5 M39.50 262.14h4.5 M39.50 257.02h4.5 M39.50 251.90h9 M39.50 246.78h4.5 M39.50 241.66h4.5 M39.50 236.54h4.5 M39.50 231.42h4.5 M39.50 226.30h9 M39.50 221.18h4.5 M39.50 216.06h4.5 M39.50 210.94h4.5 M39.50 205.82h4.5 M39.50 200.70h9 M39.50 195.58h4.5 M39.50 190.46h4.5 M39.50 185.34h4.5 M39.50 180.22h4.5 M39.50 175.10h9 M39.50 169.98h4.5 M39.50 164.86h4.5 M39.50 159.74h4.5 M39.50 154.62h4.5 M39.50 149.50h9 M39.50 144.38h4.5 M39.50 139.26h4.5 M39.50 134.14h4.5 M39.50 129.02h4.5 M39.50 123.90h9 M39.50 118.78h4.5 M39.50 113.66h4.5 M39.50 108.54h4.5 M39.50 103.42h4.5 M39.50 98.30h9 M39.50 93.18h4.5 M39.50 88.06h4.5 M39.50 82.94h4.5 M39.50 77.82h4.5 M39.50 72.70h9 M39.50 67.58h4.5 M39.50 62.46h4.5 M39.50 57.34h4.5 M39.50 52.22h4.5 M39.50 47.10h9 M39.50 41.98h4.5 M39.50 36.86h4.5 M39.50 31.74h4.5 M39.50 26.62h4.5 M39.50 21.50h9 M41.60 277.50v-7.5 M58.64 277.50v-4 M68.61 277.50v-4 M75.68 277.50v-4 M81.16 277.50v-4 M85.64 277.50v-4 M89.43 277.50v-4 M92.71 277.50v-4 M95.61 277.50v-4 M98.20 277.50v-7.5 M115.24 277.50v-4 M125.21 277.50v-4 M132.28 277.50v-4 M137.76 277.50v-4 M142.24 277.50v-4 M146.03 277.50v-4 M149.31 277.50v-4 M152.21 277.50v-4 M154.80 277.50v-7.5 M171.84 277.50v-4 M181.81 277.50v-4 M188.88 277.50v-4 M194.36 277.50v-4 M198.84 277.50v-4 M202.63 277.50v-4 M205.91 277.50v-4 M208.81 277.50v-4 M211.40 277.50v-7.5 M228.44 277.50v-4 M238.41 277.50v-4 M245.48 277.50v-4 M250.96 277.50v-4 M255.44 277.50v-4 M259.23 277.50v-4 M262.51 277.50v-4 M265.41 277.50v-4 M268.00 277.50v-7.5 M285.04 277.50v-4 M295.01 277.50v-4 M302.08 277.50v-4 M307.56 277.50v-4 M312.04 277.50v-4 M315.83 277.50v-4 M319.11 277.50v-4 M322.01 277.50v-4" stroke="#000" stroke-width="1" fill="none"/>
<rect x="39.5" y="21.5" width="285.10" height="256.0" stroke="#000" stroke-width="1" fill="none"/>
<text x="37.0" y="282.1" class="yl">−1</text>
<text x="37.0" y="256.5" class="yl">−0.8</text>
<text x="37.0" y="230.9" class="yl">−0.6</text>
<text x="37.0" y="205.3" class="yl">−0.4</text>
<text x="37.0" y="179.7" class="yl">−0.2</text>
<text x="37.0" y="154.1" class="yl">0</text>
<text x="37.0" y="128.5" class="yl">0.2</text>
<text x="37.0" y="102.9" class="yl">0.4</text>
<text x="37.0" y="77.3" class="yl">0.6</text>
<text x="37.0" y="51.7" class="yl">0.8</text>
<text x="37.0" y="26.1" class="yl">1</text>
<text x="33.2" y="291.3" class="xl">10<tspan class="ex" dy="-4.3">−5</tspan></text>
<text x="89.8" y="291.3" class="xl">10<tspan class="ex" dy="-4.3">−4</tspan></text>
<text x="146.4" y="291.3" class="xl">10<tspan class="ex" dy="-4.3">−3</tspan></text>
<text x="203.0" y="291.3" class="xl">10<tspan class="ex" dy="-4.3">−2</tspan></text>
<text x="259.6" y="291.3" class="xl">10<tspan class="ex" dy="-4.3">−1</tspan></text>
<path d="M396.00 277.50h9 M396.00 272.38h4.5 M396.00 267.26h4.5 M396.00 262.14h4.5 M396.00 257.02h4.5 M396.00 251.90h9 M396.00 246.78h4.5 M396.00 241.66h4.5 M396.00 236.54h4.5 M396.00 231.42h4.5 M396.00 226.30h9 M396.00 221.18h4.5 M396.00 216.06h4.5 M396.00 210.94h4.5 M396.00 205.82h4.5 M396.00 200.70h9 M396.00 195.58h4.5 M396.00 190.46h4.5 M396.00 185.34h4.5 M396.00 180.22h4.5 M396.00 175.10h9 M396.00 169.98h4.5 M396.00 164.86h4.5 M396.00 159.74h4.5 M396.00 154.62h4.5 M396.00 149.50h9 M396.00 144.38h4.5 M396.00 139.26h4.5 M396.00 134.14h4.5 M396.00 129.02h4.5 M396.00 123.90h9 M396.00 118.78h4.5 M396.00 113.66h4.5 M396.00 108.54h4.5 M396.00 103.42h4.5 M396.00 98.30h9 M396.00 93.18h4.5 M396.00 88.06h4.5 M396.00 82.94h4.5 M396.00 77.82h4.5 M396.00 72.70h9 M396.00 67.58h4.5 M396.00 62.46h4.5 M396.00 57.34h4.5 M396.00 52.22h4.5 M396.00 47.10h9 M396.00 41.98h4.5 M396.00 36.86h4.5 M396.00 31.74h4.5 M396.00 26.62h4.5 M396.00 21.50h9 M398.10 277.50v-7.5 M415.14 277.50v-4 M425.11 277.50v-4 M432.18 277.50v-4 M437.66 277.50v-4 M442.14 277.50v-4 M445.93 277.50v-4 M449.21 277.50v-4 M452.11 277.50v-4 M454.70 277.50v-7.5 M471.74 277.50v-4 M481.71 277.50v-4 M488.78 277.50v-4 M494.26 277.50v-4 M498.74 277.50v-4 M502.53 277.50v-4 M505.81 277.50v-4 M508.71 277.50v-4 M511.30 277.50v-7.5 M528.34 277.50v-4 M538.31 277.50v-4 M545.38 277.50v-4 M550.86 277.50v-4 M555.34 277.50v-4 M559.13 277.50v-4 M562.41 277.50v-4 M565.31 277.50v-4 M567.90 277.50v-7.5 M584.94 277.50v-4 M594.91 277.50v-4 M601.98 277.50v-4 M607.46 277.50v-4 M611.94 277.50v-4 M615.73 277.50v-4 M619.01 277.50v-4 M621.91 277.50v-4 M624.50 277.50v-7.5 M641.54 277.50v-4 M651.51 277.50v-4 M658.58 277.50v-4 M664.06 277.50v-4 M668.54 277.50v-4 M672.33 277.50v-4 M675.61 277.50v-4 M678.51 277.50v-4" stroke="#000" stroke-width="1" fill="none"/>
<rect x="396.0" y="21.5" width="285.10" height="256.0" stroke="#000" stroke-width="1" fill="none"/>
<text x="393.5" y="282.1" class="yl">−1</text>
<text x="393.5" y="256.5" class="yl">−0.8</text>
<text x="393.5" y="230.9" class="yl">−0.6</text>
<text x="393.5" y="205.3" class="yl">−0.4</text>
<text x="393.5" y="179.7" class="yl">−0.2</text>
<text x="393.5" y="154.1" class="yl">0</text>
<text x="393.5" y="128.5" class="yl">0.2</text>
<text x="393.5" y="102.9" class="yl">0.4</text>
<text x="393.5" y="77.3" class="yl">0.6</text>
<text x="393.5" y="51.7" class="yl">0.8</text>
<text x="393.5" y="26.1" class="yl">1</text>
<text x="389.7" y="291.3" class="xl">10<tspan class="ex" dy="-4.3">−5</tspan></text>
<text x="446.3" y="291.3" class="xl">10<tspan class="ex" dy="-4.3">−4</tspan></text>
<text x="502.9" y="291.3" class="xl">10<tspan class="ex" dy="-4.3">−3</tspan></text>
<text x="559.5" y="291.3" class="xl">10<tspan class="ex" dy="-4.3">−2</tspan></text>
<text x="616.1" y="291.3" class="xl">10<tspan class="ex" dy="-4.3">−1</tspan></text>
<text x="15.5" y="10.4" class="ti">Correlations between high-mass DY and the up anti-quark PDF</text>
<text x="369.5" y="10.4" class="ti">Correlations between forward DY and the down anti-quark PDF</text>
<text transform="translate(12.0,24.2) rotate(-90)" class="rho" text-anchor="middle">ρ</text>
<text x="317.6" y="299.2" class="xt">x</text>
<text transform="translate(368.5,24.2) rotate(-90)" class="rho" text-anchor="middle">ρ</text>
<text x="674.1" y="299.2" class="xt">x</text>
<text x="103.5" y="260.8" class="lg">PDF4LHC15 + HLLHC m<tspan class="sb" dy="4" dx="0.2">ll</tspan></text>
<text x="459.6" y="260.8" class="lg">PDF4LHC15 + HLLHC y<tspan class="sb" dy="5.8" dx="0.3">(l)l</tspan></text>
</svg></body></html>
